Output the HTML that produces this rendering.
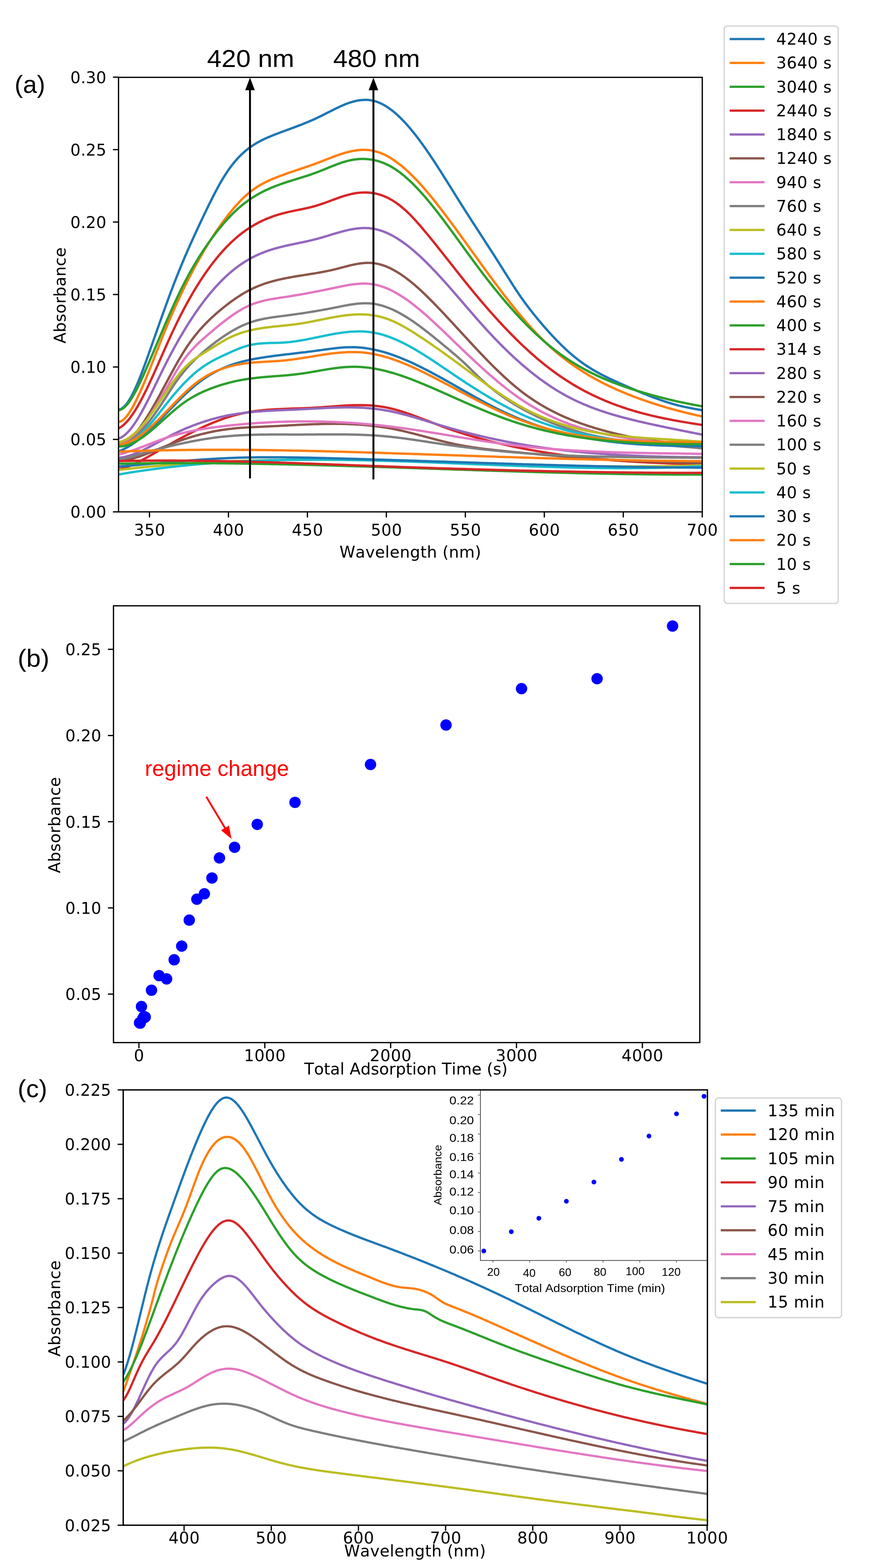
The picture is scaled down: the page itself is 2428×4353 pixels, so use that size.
<!DOCTYPE html>
<html lang="en"><head><meta charset="utf-8"><title>Absorbance spectra</title>
<style>html,body{margin:0;padding:0;background:#fff;overflow:hidden;}svg{display:block}text{font-kerning:none}</style></head>
<body><svg width="2428" height="4353" viewBox="0 0 2428 4353">
<rect width="2428" height="4353" fill="#fff"/>
<defs><clipPath id="ca"><rect x="328.9" y="214.7" width="1619.8000000000002" height="1206.3"/></clipPath></defs>
<g clip-path="url(#ca)" fill="none" stroke-width="6.5" stroke-linejoin="round" stroke-linecap="butt">
<path d="M328.9,1137.5 334.9,1135.9 340.9,1132.1 346.9,1126.5 352.9,1119.2 358.9,1110.2 364.9,1099.8 370.9,1088.1 376.9,1075.2 382.9,1061.2 388.9,1046.4 394.9,1030.9 400.9,1014.8 406.9,998.3 412.9,981.5 418.9,964.5 424.9,947.5 430.9,930.5 436.9,913.4 442.9,896.5 448.9,879.6 454.9,862.9 460.9,846.3 466.9,829.9 472.9,813.7 478.9,797.8 484.9,782.1 490.9,766.8 496.9,751.9 502.9,737.2 508.9,722.9 514.9,708.8 520.9,695.0 526.9,681.4 532.9,668.1 538.9,654.9 544.9,641.8 550.9,628.9 556.9,616.1 562.9,603.4 568.9,590.8 574.9,578.3 580.9,566.0 586.9,554.0 592.9,542.2 598.9,530.7 604.9,519.5 610.9,508.7 616.9,498.4 622.9,488.5 628.9,479.2 634.9,470.4 640.9,462.1 646.9,454.4 652.9,447.1 658.9,440.3 664.9,434.0 670.9,428.1 676.9,422.6 682.9,417.5 688.9,412.7 694.9,408.2 700.9,404.1 706.9,400.2 712.9,396.6 718.9,393.3 724.9,390.1 730.9,387.2 736.8,384.4 742.8,381.7 748.8,379.2 754.8,376.7 760.8,374.3 766.8,372.0 772.8,369.7 778.8,367.5 784.8,365.2 790.8,363.0 796.8,360.8 802.8,358.6 808.8,356.3 814.8,354.1 820.8,351.9 826.8,349.6 832.8,347.3 838.8,344.9 844.8,342.6 850.8,340.1 856.8,337.6 862.8,335.0 868.8,332.4 874.8,329.7 880.8,326.9 886.8,324.0 892.8,321.0 898.8,318.0 904.8,314.9 910.8,311.9 916.8,308.8 922.8,305.8 928.8,302.8 934.8,299.9 940.8,297.1 946.8,294.3 952.8,291.8 958.8,289.3 964.8,287.0 970.8,284.9 976.8,283.1 982.8,281.4 988.8,280.0 994.8,278.8 1000.8,278.0 1006.8,277.4 1012.8,277.2 1018.8,277.3 1024.8,277.8 1030.8,278.7 1036.8,279.9 1042.8,281.6 1048.8,283.7 1054.8,286.2 1060.8,289.1 1066.8,292.4 1072.8,296.0 1078.8,300.0 1084.8,304.3 1090.8,309.0 1096.8,314.0 1102.8,319.4 1108.8,325.0 1114.8,330.9 1120.8,337.1 1126.8,343.6 1132.8,350.4 1138.8,357.4 1144.8,364.6 1150.8,372.1 1156.8,379.8 1162.8,387.8 1168.8,395.9 1174.8,404.2 1180.8,412.7 1186.8,421.3 1192.8,430.2 1198.8,439.1 1204.8,448.2 1210.8,457.4 1216.8,466.7 1222.8,476.1 1228.8,485.5 1234.8,495.0 1240.8,504.6 1246.8,514.2 1252.8,523.8 1258.8,533.4 1264.8,543.1 1270.8,552.7 1276.8,562.2 1282.8,571.8 1288.8,581.2 1294.8,590.7 1300.8,600.1 1306.8,609.4 1312.8,618.7 1318.8,628.0 1324.8,637.3 1330.8,646.6 1336.8,655.8 1342.8,665.1 1348.8,674.4 1354.8,683.6 1360.8,692.9 1366.8,702.3 1372.8,711.6 1378.8,721.0 1384.8,730.4 1390.8,739.9 1396.8,749.5 1402.8,759.0 1408.8,768.6 1414.8,778.1 1420.8,787.6 1426.8,796.9 1432.8,806.1 1438.8,815.1 1444.8,823.8 1450.8,832.3 1456.8,840.6 1462.8,848.7 1468.8,856.6 1474.8,864.3 1480.8,871.9 1486.8,879.3 1492.8,886.6 1498.8,893.8 1504.8,900.9 1510.8,907.8 1516.8,914.7 1522.8,921.4 1528.8,928.0 1534.8,934.4 1540.8,940.8 1546.7,947.0 1552.7,953.0 1558.7,959.0 1564.7,964.7 1570.7,970.3 1576.7,975.8 1582.7,981.1 1588.7,986.3 1594.7,991.2 1600.7,996.0 1606.7,1000.7 1612.7,1005.1 1618.7,1009.4 1624.7,1013.5 1630.7,1017.5 1636.7,1021.3 1642.7,1025.0 1648.7,1028.6 1654.7,1032.0 1660.7,1035.4 1666.7,1038.6 1672.7,1041.7 1678.7,1044.8 1684.7,1047.7 1690.7,1050.6 1696.7,1053.5 1702.7,1056.3 1708.7,1059.0 1714.7,1061.7 1720.7,1064.4 1726.7,1067.1 1732.7,1069.7 1738.7,1072.4 1744.7,1075.0 1750.7,1077.6 1756.7,1080.2 1762.7,1082.8 1768.7,1085.4 1774.7,1087.9 1780.7,1090.4 1786.7,1092.9 1792.7,1095.3 1798.7,1097.7 1804.7,1100.0 1810.7,1102.4 1816.7,1104.6 1822.7,1106.8 1828.7,1109.0 1834.7,1111.1 1840.7,1113.2 1846.7,1115.2 1852.7,1117.1 1858.7,1118.9 1864.7,1120.7 1870.7,1122.4 1876.7,1124.1 1882.7,1125.6 1888.7,1127.1 1894.7,1128.5 1900.7,1129.9 1906.7,1131.1 1912.7,1132.3 1918.7,1133.5 1924.7,1134.6 1930.7,1135.7 1936.7,1136.7 1942.7,1137.8 1948.7,1138.9" stroke="#1f77b4"/>
<path d="M328.9,1171.7 334.9,1170.0 340.9,1166.4 346.9,1161.0 352.9,1154.0 358.9,1145.6 364.9,1135.9 370.9,1125.2 376.9,1113.5 382.9,1101.1 388.9,1088.1 394.9,1074.6 400.9,1060.6 406.9,1046.1 412.9,1031.4 418.9,1016.4 424.9,1001.2 430.9,986.0 436.9,970.7 442.9,955.4 448.9,940.3 454.9,925.4 460.9,910.7 466.9,896.3 472.9,882.2 478.9,868.4 484.9,854.8 490.9,841.5 496.9,828.4 502.9,815.7 508.9,803.2 514.9,790.9 520.9,778.9 526.9,767.1 532.9,755.6 538.9,744.3 544.9,733.3 550.9,722.4 556.9,711.9 562.9,701.5 568.9,691.4 574.9,681.5 580.9,671.8 586.9,662.4 592.9,653.1 598.9,644.1 604.9,635.4 610.9,626.8 616.9,618.4 622.9,610.3 628.9,602.4 634.9,594.6 640.9,587.2 646.9,579.9 652.9,573.0 658.9,566.3 664.9,559.8 670.9,553.7 676.9,547.8 682.9,542.3 688.9,537.0 694.9,532.1 700.9,527.6 706.9,523.3 712.9,519.3 718.9,515.6 724.9,512.1 730.9,508.9 736.8,505.8 742.8,502.9 748.8,500.2 754.8,497.6 760.8,495.0 766.8,492.6 772.8,490.3 778.8,488.0 784.8,485.7 790.8,483.6 796.8,481.4 802.8,479.3 808.8,477.3 814.8,475.2 820.8,473.2 826.8,471.2 832.8,469.2 838.8,467.1 844.8,465.1 850.8,463.1 856.8,461.0 862.8,458.9 868.8,456.8 874.8,454.6 880.8,452.4 886.8,450.1 892.8,447.8 898.8,445.5 904.8,443.1 910.8,440.8 916.8,438.4 922.8,436.1 928.8,433.9 934.8,431.7 940.8,429.6 946.8,427.6 952.8,425.7 958.8,423.9 964.8,422.3 970.8,420.8 976.8,419.5 982.8,418.4 988.8,417.4 994.8,416.7 1000.8,416.2 1006.8,415.9 1012.8,415.9 1018.8,416.2 1024.8,416.8 1030.8,417.6 1036.8,418.8 1042.8,420.3 1048.8,422.1 1054.8,424.2 1060.8,426.7 1066.8,429.4 1072.8,432.4 1078.8,435.7 1084.8,439.3 1090.8,443.2 1096.8,447.3 1102.8,451.6 1108.8,456.2 1114.8,461.1 1120.8,466.1 1126.8,471.4 1132.8,476.9 1138.8,482.6 1144.8,488.5 1150.8,494.6 1156.8,500.8 1162.8,507.3 1168.8,513.9 1174.8,520.7 1180.8,527.6 1186.8,534.6 1192.8,541.8 1198.8,549.1 1204.8,556.6 1210.8,564.1 1216.8,571.7 1222.8,579.5 1228.8,587.3 1234.8,595.2 1240.8,603.2 1246.8,611.3 1252.8,619.4 1258.8,627.5 1264.8,635.7 1270.8,644.0 1276.8,652.2 1282.8,660.5 1288.8,668.8 1294.8,677.1 1300.8,685.4 1306.8,693.8 1312.8,702.1 1318.8,710.4 1324.8,718.7 1330.8,727.0 1336.8,735.3 1342.8,743.6 1348.8,751.8 1354.8,760.0 1360.8,768.2 1366.8,776.3 1372.8,784.4 1378.8,792.4 1384.8,800.4 1390.8,808.3 1396.8,816.2 1402.8,824.0 1408.8,831.7 1414.8,839.4 1420.8,846.9 1426.8,854.4 1432.8,861.8 1438.8,869.1 1444.8,876.3 1450.8,883.4 1456.8,890.4 1462.8,897.3 1468.8,904.1 1474.8,910.8 1480.8,917.3 1486.8,923.7 1492.8,929.9 1498.8,936.1 1504.8,942.1 1510.8,947.9 1516.8,953.6 1522.8,959.2 1528.8,964.7 1534.8,970.0 1540.8,975.2 1546.7,980.3 1552.7,985.2 1558.7,990.1 1564.7,994.8 1570.7,999.4 1576.7,1003.9 1582.7,1008.3 1588.7,1012.6 1594.7,1016.8 1600.7,1020.9 1606.7,1024.9 1612.7,1028.8 1618.7,1032.6 1624.7,1036.4 1630.7,1040.0 1636.7,1043.5 1642.7,1047.0 1648.7,1050.4 1654.7,1053.7 1660.7,1056.9 1666.7,1060.0 1672.7,1063.1 1678.7,1066.1 1684.7,1069.1 1690.7,1072.0 1696.7,1074.8 1702.7,1077.6 1708.7,1080.3 1714.7,1082.9 1720.7,1085.5 1726.7,1088.1 1732.7,1090.6 1738.7,1093.1 1744.7,1095.5 1750.7,1097.9 1756.7,1100.2 1762.7,1102.5 1768.7,1104.7 1774.7,1107.0 1780.7,1109.1 1786.7,1111.2 1792.7,1113.3 1798.7,1115.4 1804.7,1117.4 1810.7,1119.4 1816.7,1121.3 1822.7,1123.2 1828.7,1125.1 1834.7,1126.9 1840.7,1128.7 1846.7,1130.5 1852.7,1132.3 1858.7,1134.0 1864.7,1135.6 1870.7,1137.3 1876.7,1138.9 1882.7,1140.5 1888.7,1142.0 1894.7,1143.6 1900.7,1145.1 1906.7,1146.6 1912.7,1148.0 1918.7,1149.5 1924.7,1150.9 1930.7,1152.2 1936.7,1153.6 1942.7,1154.9 1948.7,1156.3" stroke="#ff7f0e"/>
<path d="M328.9,1139.0 334.9,1137.5 340.9,1134.2 346.9,1129.3 352.9,1122.9 358.9,1115.2 364.9,1106.3 370.9,1096.3 376.9,1085.4 382.9,1073.7 388.9,1061.3 394.9,1048.3 400.9,1034.9 406.9,1021.2 412.9,1007.3 418.9,993.3 424.9,979.2 430.9,965.0 436.9,950.8 442.9,936.6 448.9,922.5 454.9,908.4 460.9,894.4 466.9,880.6 472.9,867.0 478.9,853.5 484.9,840.3 490.9,827.4 496.9,814.8 502.9,802.5 508.9,790.6 514.9,779.0 520.9,767.8 526.9,756.8 532.9,746.2 538.9,735.8 544.9,725.8 550.9,716.0 556.9,706.5 562.9,697.3 568.9,688.3 574.9,679.5 580.9,671.0 586.9,662.7 592.9,654.6 598.9,646.8 604.9,639.1 610.9,631.7 616.9,624.5 622.9,617.5 628.9,610.8 634.9,604.3 640.9,598.0 646.9,592.0 652.9,586.2 658.9,580.7 664.9,575.4 670.9,570.3 676.9,565.5 682.9,560.9 688.9,556.5 694.9,552.4 700.9,548.5 706.9,544.7 712.9,541.1 718.9,537.7 724.9,534.5 730.9,531.4 736.8,528.5 742.8,525.7 748.8,523.0 754.8,520.5 760.8,518.1 766.8,515.7 772.8,513.5 778.8,511.3 784.8,509.2 790.8,507.2 796.8,505.2 802.8,503.3 808.8,501.4 814.8,499.5 820.8,497.7 826.8,495.8 832.8,493.9 838.8,492.1 844.8,490.2 850.8,488.3 856.8,486.3 862.8,484.3 868.8,482.2 874.8,480.0 880.8,477.8 886.8,475.5 892.8,473.1 898.8,470.7 904.8,468.2 910.8,465.8 916.8,463.3 922.8,460.9 928.8,458.6 934.8,456.3 940.8,454.1 946.8,452.0 952.8,450.0 958.8,448.3 964.8,446.6 970.8,445.2 976.8,444.0 982.8,443.0 988.8,442.2 994.8,441.6 1000.8,441.3 1006.8,441.2 1012.8,441.3 1018.8,441.7 1024.8,442.3 1030.8,443.2 1036.8,444.3 1042.8,445.6 1048.8,447.2 1054.8,449.1 1060.8,451.2 1066.8,453.6 1072.8,456.3 1078.8,459.2 1084.8,462.4 1090.8,465.9 1096.8,469.7 1102.8,473.8 1108.8,478.1 1114.8,482.7 1120.8,487.6 1126.8,492.7 1132.8,498.1 1138.8,503.6 1144.8,509.4 1150.8,515.4 1156.8,521.7 1162.8,528.1 1168.8,534.7 1174.8,541.4 1180.8,548.3 1186.8,555.4 1192.8,562.7 1198.8,570.0 1204.8,577.5 1210.8,585.1 1216.8,592.8 1222.8,600.7 1228.8,608.6 1234.8,616.5 1240.8,624.6 1246.8,632.7 1252.8,640.9 1258.8,649.1 1264.8,657.3 1270.8,665.6 1276.8,673.9 1282.8,682.2 1288.8,690.5 1294.8,698.8 1300.8,707.0 1306.8,715.2 1312.8,723.4 1318.8,731.5 1324.8,739.6 1330.8,747.6 1336.8,755.5 1342.8,763.4 1348.8,771.2 1354.8,778.9 1360.8,786.6 1366.8,794.1 1372.8,801.6 1378.8,809.0 1384.8,816.3 1390.8,823.6 1396.8,830.7 1402.8,837.8 1408.8,844.7 1414.8,851.6 1420.8,858.4 1426.8,865.1 1432.8,871.7 1438.8,878.2 1444.8,884.7 1450.8,891.0 1456.8,897.2 1462.8,903.3 1468.8,909.3 1474.8,915.2 1480.8,921.0 1486.8,926.7 1492.8,932.2 1498.8,937.7 1504.8,943.1 1510.8,948.3 1516.8,953.4 1522.8,958.4 1528.8,963.3 1534.8,968.0 1540.8,972.7 1546.7,977.2 1552.7,981.6 1558.7,985.9 1564.7,990.1 1570.7,994.2 1576.7,998.2 1582.7,1002.1 1588.7,1005.9 1594.7,1009.6 1600.7,1013.2 1606.7,1016.7 1612.7,1020.1 1618.7,1023.5 1624.7,1026.7 1630.7,1029.9 1636.7,1033.0 1642.7,1036.0 1648.7,1038.9 1654.7,1041.8 1660.7,1044.5 1666.7,1047.3 1672.7,1049.9 1678.7,1052.5 1684.7,1055.0 1690.7,1057.5 1696.7,1059.9 1702.7,1062.2 1708.7,1064.5 1714.7,1066.8 1720.7,1069.0 1726.7,1071.1 1732.7,1073.2 1738.7,1075.3 1744.7,1077.3 1750.7,1079.3 1756.7,1081.2 1762.7,1083.1 1768.7,1085.0 1774.7,1086.8 1780.7,1088.7 1786.7,1090.5 1792.7,1092.2 1798.7,1093.9 1804.7,1095.6 1810.7,1097.3 1816.7,1098.9 1822.7,1100.6 1828.7,1102.1 1834.7,1103.7 1840.7,1105.2 1846.7,1106.7 1852.7,1108.2 1858.7,1109.6 1864.7,1111.0 1870.7,1112.4 1876.7,1113.8 1882.7,1115.1 1888.7,1116.4 1894.7,1117.7 1900.7,1118.9 1906.7,1120.1 1912.7,1121.3 1918.7,1122.5 1924.7,1123.7 1930.7,1124.8 1936.7,1125.9 1942.7,1127.0 1948.7,1128.0" stroke="#2ca02c"/>
<path d="M328.9,1189.2 334.9,1185.9 340.9,1181.5 346.9,1176.1 352.9,1169.8 358.9,1162.6 364.9,1154.6 370.9,1145.8 376.9,1136.4 382.9,1126.3 388.9,1115.5 394.9,1104.3 400.9,1092.5 406.9,1080.4 412.9,1067.8 418.9,1054.9 424.9,1041.8 430.9,1028.5 436.9,1015.0 442.9,1001.4 448.9,987.8 454.9,974.2 460.9,960.6 466.9,947.2 472.9,934.0 478.9,921.0 484.9,908.3 490.9,895.9 496.9,883.8 502.9,871.9 508.9,860.4 514.9,849.1 520.9,838.1 526.9,827.3 532.9,816.9 538.9,806.7 544.9,796.8 550.9,787.2 556.9,777.8 562.9,768.7 568.9,759.8 574.9,751.3 580.9,742.9 586.9,734.9 592.9,727.0 598.9,719.5 604.9,712.2 610.9,705.1 616.9,698.3 622.9,691.7 628.9,685.4 634.9,679.3 640.9,673.4 646.9,667.8 652.9,662.4 658.9,657.3 664.9,652.3 670.9,647.6 676.9,643.1 682.9,638.9 688.9,634.8 694.9,630.9 700.9,627.2 706.9,623.7 712.9,620.4 718.9,617.2 724.9,614.3 730.9,611.4 736.8,608.8 742.8,606.3 748.8,603.9 754.8,601.6 760.8,599.5 766.8,597.6 772.8,595.7 778.8,594.0 784.8,592.3 790.8,590.8 796.8,589.3 802.8,587.9 808.8,586.6 814.8,585.4 820.8,584.1 826.8,582.9 832.8,581.7 838.8,580.5 844.8,579.2 850.8,577.9 856.8,576.5 862.8,575.1 868.8,573.5 874.8,571.9 880.8,570.1 886.8,568.2 892.8,566.2 898.8,564.1 904.8,562.0 910.8,559.8 916.8,557.5 922.8,555.3 928.8,553.1 934.8,550.9 940.8,548.7 946.8,546.7 952.8,544.7 958.8,542.8 964.8,541.1 970.8,539.6 976.8,538.2 982.8,537.0 988.8,536.0 994.8,535.3 1000.8,534.7 1006.8,534.4 1012.8,534.2 1018.8,534.4 1024.8,534.7 1030.8,535.4 1036.8,536.3 1042.8,537.4 1048.8,538.9 1054.8,540.6 1060.8,542.7 1066.8,545.0 1072.8,547.7 1078.8,550.7 1084.8,554.0 1090.8,557.5 1096.8,561.4 1102.8,565.6 1108.8,570.1 1114.8,574.9 1120.8,580.0 1126.8,585.4 1132.8,591.1 1138.8,597.0 1144.8,603.2 1150.8,609.6 1156.8,616.3 1162.8,623.1 1168.8,630.0 1174.8,637.1 1180.8,644.3 1186.8,651.5 1192.8,658.8 1198.8,666.2 1204.8,673.7 1210.8,681.1 1216.8,688.7 1222.8,696.2 1228.8,703.8 1234.8,711.4 1240.8,719.0 1246.8,726.6 1252.8,734.2 1258.8,741.8 1264.8,749.4 1270.8,757.0 1276.8,764.6 1282.8,772.1 1288.8,779.7 1294.8,787.1 1300.8,794.6 1306.8,801.9 1312.8,809.2 1318.8,816.5 1324.8,823.7 1330.8,830.8 1336.8,837.9 1342.8,844.9 1348.8,851.9 1354.8,858.8 1360.8,865.6 1366.8,872.4 1372.8,879.1 1378.8,885.7 1384.8,892.3 1390.8,898.7 1396.8,905.2 1402.8,911.5 1408.8,917.8 1414.8,924.0 1420.8,930.1 1426.8,936.1 1432.8,942.1 1438.8,948.0 1444.8,953.8 1450.8,959.5 1456.8,965.1 1462.8,970.7 1468.8,976.2 1474.8,981.5 1480.8,986.8 1486.8,992.1 1492.8,997.2 1498.8,1002.2 1504.8,1007.1 1510.8,1012.0 1516.8,1016.7 1522.8,1021.4 1528.8,1025.9 1534.8,1030.4 1540.8,1034.8 1546.7,1039.1 1552.7,1043.2 1558.7,1047.3 1564.7,1051.3 1570.7,1055.3 1576.7,1059.1 1582.7,1062.8 1588.7,1066.5 1594.7,1070.1 1600.7,1073.6 1606.7,1077.0 1612.7,1080.3 1618.7,1083.6 1624.7,1086.8 1630.7,1089.9 1636.7,1092.9 1642.7,1095.9 1648.7,1098.8 1654.7,1101.6 1660.7,1104.3 1666.7,1107.0 1672.7,1109.6 1678.7,1112.2 1684.7,1114.7 1690.7,1117.1 1696.7,1119.5 1702.7,1121.8 1708.7,1124.0 1714.7,1126.2 1720.7,1128.3 1726.7,1130.4 1732.7,1132.4 1738.7,1134.4 1744.7,1136.3 1750.7,1138.2 1756.7,1140.0 1762.7,1141.8 1768.7,1143.5 1774.7,1145.2 1780.7,1146.8 1786.7,1148.4 1792.7,1149.9 1798.7,1151.4 1804.7,1152.9 1810.7,1154.3 1816.7,1155.7 1822.7,1157.1 1828.7,1158.4 1834.7,1159.7 1840.7,1161.0 1846.7,1162.2 1852.7,1163.4 1858.7,1164.6 1864.7,1165.7 1870.7,1166.9 1876.7,1168.0 1882.7,1169.0 1888.7,1170.1 1894.7,1171.1 1900.7,1172.1 1906.7,1173.1 1912.7,1174.1 1918.7,1175.1 1924.7,1176.0 1930.7,1177.0 1936.7,1177.9 1942.7,1178.8 1948.7,1179.7" stroke="#d62728"/>
<path d="M328.9,1217.4 334.9,1215.1 340.9,1211.7 346.9,1207.2 352.9,1201.6 358.9,1195.2 364.9,1187.9 370.9,1179.7 376.9,1170.9 382.9,1161.3 388.9,1151.2 394.9,1140.6 400.9,1129.4 406.9,1117.9 412.9,1106.1 418.9,1094.0 424.9,1081.8 430.9,1069.4 436.9,1057.0 442.9,1044.6 448.9,1032.3 454.9,1020.2 460.9,1008.2 466.9,996.5 472.9,985.1 478.9,973.8 484.9,962.8 490.9,952.0 496.9,941.4 502.9,931.1 508.9,921.0 514.9,911.0 520.9,901.4 526.9,891.9 532.9,882.7 538.9,873.7 544.9,864.9 550.9,856.3 556.9,848.0 562.9,839.9 568.9,832.0 574.9,824.4 580.9,816.9 586.9,809.7 592.9,802.8 598.9,796.0 604.9,789.5 610.9,783.2 616.9,777.1 622.9,771.2 628.9,765.6 634.9,760.2 640.9,755.0 646.9,750.0 652.9,745.3 658.9,740.7 664.9,736.4 670.9,732.3 676.9,728.3 682.9,724.6 688.9,721.0 694.9,717.6 700.9,714.4 706.9,711.4 712.9,708.5 718.9,705.8 724.9,703.3 730.9,700.8 736.8,698.6 742.8,696.4 748.8,694.4 754.8,692.5 760.8,690.7 766.8,689.0 772.8,687.4 778.8,685.8 784.8,684.3 790.8,682.9 796.8,681.5 802.8,680.2 808.8,678.9 814.8,677.7 820.8,676.4 826.8,675.2 832.8,673.9 838.8,672.7 844.8,671.4 850.8,670.1 856.8,668.7 862.8,667.3 868.8,665.9 874.8,664.4 880.8,662.8 886.8,661.2 892.8,659.5 898.8,657.7 904.8,655.9 910.8,654.1 916.8,652.2 922.8,650.4 928.8,648.6 934.8,646.8 940.8,645.1 946.8,643.4 952.8,641.8 958.8,640.3 964.8,638.9 970.8,637.6 976.8,636.5 982.8,635.5 988.8,634.6 994.8,633.9 1000.8,633.4 1006.8,633.1 1012.8,633.1 1018.8,633.2 1024.8,633.6 1030.8,634.2 1036.8,635.2 1042.8,636.3 1048.8,637.8 1054.8,639.6 1060.8,641.6 1066.8,643.8 1072.8,646.3 1078.8,649.1 1084.8,652.0 1090.8,655.2 1096.8,658.7 1102.8,662.3 1108.8,666.2 1114.8,670.2 1120.8,674.5 1126.8,678.9 1132.8,683.5 1138.8,688.3 1144.8,693.3 1150.8,698.4 1156.8,703.7 1162.8,709.2 1168.8,714.7 1174.8,720.4 1180.8,726.3 1186.8,732.2 1192.8,738.3 1198.8,744.5 1204.8,750.8 1210.8,757.1 1216.8,763.6 1222.8,770.1 1228.8,776.7 1234.8,783.4 1240.8,790.1 1246.8,796.9 1252.8,803.8 1258.8,810.6 1264.8,817.5 1270.8,824.5 1276.8,831.4 1282.8,838.4 1288.8,845.3 1294.8,852.3 1300.8,859.2 1306.8,866.2 1312.8,873.1 1318.8,880.0 1324.8,886.8 1330.8,893.6 1336.8,900.4 1342.8,907.1 1348.8,913.7 1354.8,920.2 1360.8,926.7 1366.8,933.1 1372.8,939.4 1378.8,945.7 1384.8,951.8 1390.8,957.9 1396.8,963.9 1402.8,969.8 1408.8,975.6 1414.8,981.4 1420.8,987.0 1426.8,992.6 1432.8,998.1 1438.8,1003.4 1444.8,1008.7 1450.8,1014.0 1456.8,1019.1 1462.8,1024.1 1468.8,1029.0 1474.8,1033.9 1480.8,1038.7 1486.8,1043.3 1492.8,1047.9 1498.8,1052.4 1504.8,1056.7 1510.8,1061.0 1516.8,1065.2 1522.8,1069.3 1528.8,1073.3 1534.8,1077.2 1540.8,1081.0 1546.7,1084.7 1552.7,1088.3 1558.7,1091.8 1564.7,1095.2 1570.7,1098.5 1576.7,1101.7 1582.7,1104.8 1588.7,1107.8 1594.7,1110.8 1600.7,1113.6 1606.7,1116.4 1612.7,1119.1 1618.7,1121.7 1624.7,1124.3 1630.7,1126.7 1636.7,1129.2 1642.7,1131.5 1648.7,1133.8 1654.7,1136.0 1660.7,1138.1 1666.7,1140.2 1672.7,1142.2 1678.7,1144.2 1684.7,1146.1 1690.7,1148.0 1696.7,1149.8 1702.7,1151.6 1708.7,1153.3 1714.7,1155.0 1720.7,1156.7 1726.7,1158.3 1732.7,1159.9 1738.7,1161.5 1744.7,1163.0 1750.7,1164.5 1756.7,1166.0 1762.7,1167.4 1768.7,1168.9 1774.7,1170.3 1780.7,1171.7 1786.7,1173.0 1792.7,1174.4 1798.7,1175.8 1804.7,1177.1 1810.7,1178.4 1816.7,1179.7 1822.7,1181.0 1828.7,1182.3 1834.7,1183.6 1840.7,1184.8 1846.7,1186.1 1852.7,1187.3 1858.7,1188.6 1864.7,1189.8 1870.7,1191.0 1876.7,1192.2 1882.7,1193.4 1888.7,1194.7 1894.7,1195.9 1900.7,1197.1 1906.7,1198.3 1912.7,1199.5 1918.7,1200.7 1924.7,1201.9 1930.7,1203.1 1936.7,1204.3 1942.7,1205.6 1948.7,1206.8" stroke="#9467bd"/>
<path d="M328.9,1233.4 334.9,1232.4 340.9,1230.5 346.9,1227.6 352.9,1223.8 358.9,1219.3 364.9,1213.9 370.9,1207.8 376.9,1201.1 382.9,1193.8 388.9,1185.9 394.9,1177.4 400.9,1168.6 406.9,1159.3 412.9,1149.6 418.9,1139.7 424.9,1129.4 430.9,1118.9 436.9,1108.1 442.9,1097.1 448.9,1086.0 454.9,1074.8 460.9,1063.6 466.9,1052.4 472.9,1041.2 478.9,1030.1 484.9,1019.2 490.9,1008.4 496.9,998.0 502.9,987.8 508.9,977.9 514.9,968.5 520.9,959.5 526.9,950.8 532.9,942.6 538.9,934.7 544.9,927.2 550.9,920.0 556.9,913.1 562.9,906.5 568.9,900.1 574.9,894.0 580.9,888.1 586.9,882.4 592.9,876.9 598.9,871.5 604.9,866.3 610.9,861.3 616.9,856.3 622.9,851.4 628.9,846.7 634.9,842.1 640.9,837.6 646.9,833.3 652.9,829.1 658.9,825.1 664.9,821.2 670.9,817.4 676.9,813.8 682.9,810.4 688.9,807.1 694.9,804.0 700.9,801.1 706.9,798.3 712.9,795.7 718.9,793.3 724.9,791.0 730.9,788.8 736.8,786.7 742.8,784.8 748.8,783.0 754.8,781.3 760.8,779.6 766.8,778.1 772.8,776.7 778.8,775.3 784.8,774.0 790.8,772.8 796.8,771.6 802.8,770.5 808.8,769.4 814.8,768.3 820.8,767.3 826.8,766.3 832.8,765.3 838.8,764.4 844.8,763.4 850.8,762.5 856.8,761.5 862.8,760.5 868.8,759.6 874.8,758.6 880.8,757.6 886.8,756.5 892.8,755.4 898.8,754.3 904.8,753.1 910.8,751.9 916.8,750.6 922.8,749.3 928.8,747.9 934.8,746.4 940.8,744.8 946.8,743.2 952.8,741.7 958.8,740.1 964.8,738.5 970.8,737.0 976.8,735.6 982.8,734.3 988.8,733.1 994.8,732.1 1000.8,731.2 1006.8,730.5 1012.8,730.0 1018.8,729.7 1024.8,729.7 1030.8,730.0 1036.8,730.6 1042.8,731.4 1048.8,732.6 1054.8,734.1 1060.8,735.9 1066.8,737.9 1072.8,740.3 1078.8,742.8 1084.8,745.7 1090.8,748.8 1096.8,752.1 1102.8,755.7 1108.8,759.4 1114.8,763.4 1120.8,767.6 1126.8,772.0 1132.8,776.6 1138.8,781.3 1144.8,786.2 1150.8,791.3 1156.8,796.5 1162.8,801.9 1168.8,807.4 1174.8,813.0 1180.8,818.8 1186.8,824.6 1192.8,830.6 1198.8,836.6 1204.8,842.7 1210.8,848.9 1216.8,855.2 1222.8,861.5 1228.8,867.9 1234.8,874.3 1240.8,880.7 1246.8,887.2 1252.8,893.6 1258.8,900.1 1264.8,906.7 1270.8,913.2 1276.8,919.7 1282.8,926.2 1288.8,932.8 1294.8,939.3 1300.8,945.8 1306.8,952.3 1312.8,958.7 1318.8,965.2 1324.8,971.6 1330.8,977.9 1336.8,984.2 1342.8,990.5 1348.8,996.7 1354.8,1002.9 1360.8,1009.0 1366.8,1015.0 1372.8,1021.0 1378.8,1026.8 1384.8,1032.6 1390.8,1038.4 1396.8,1044.0 1402.8,1049.5 1408.8,1054.9 1414.8,1060.3 1420.8,1065.5 1426.8,1070.6 1432.8,1075.6 1438.8,1080.5 1444.8,1085.2 1450.8,1089.8 1456.8,1094.3 1462.8,1098.6 1468.8,1102.9 1474.8,1107.0 1480.8,1111.0 1486.8,1114.9 1492.8,1118.7 1498.8,1122.4 1504.8,1126.0 1510.8,1129.5 1516.8,1132.8 1522.8,1136.1 1528.8,1139.3 1534.8,1142.4 1540.8,1145.4 1546.7,1148.4 1552.7,1151.2 1558.7,1154.0 1564.7,1156.7 1570.7,1159.3 1576.7,1161.8 1582.7,1164.3 1588.7,1166.7 1594.7,1169.0 1600.7,1171.3 1606.7,1173.5 1612.7,1175.7 1618.7,1177.8 1624.7,1179.8 1630.7,1181.8 1636.7,1183.8 1642.7,1185.7 1648.7,1187.6 1654.7,1189.4 1660.7,1191.2 1666.7,1192.9 1672.7,1194.6 1678.7,1196.2 1684.7,1197.9 1690.7,1199.4 1696.7,1201.0 1702.7,1202.5 1708.7,1203.9 1714.7,1205.3 1720.7,1206.7 1726.7,1208.1 1732.7,1209.4 1738.7,1210.6 1744.7,1211.9 1750.7,1213.0 1756.7,1214.2 1762.7,1215.3 1768.7,1216.4 1774.7,1217.5 1780.7,1218.5 1786.7,1219.5 1792.7,1220.5 1798.7,1221.4 1804.7,1222.3 1810.7,1223.2 1816.7,1224.0 1822.7,1224.8 1828.7,1225.6 1834.7,1226.3 1840.7,1227.0 1846.7,1227.7 1852.7,1228.4 1858.7,1229.0 1864.7,1229.6 1870.7,1230.2 1876.7,1230.8 1882.7,1231.3 1888.7,1231.8 1894.7,1232.3 1900.7,1232.8 1906.7,1233.2 1912.7,1233.7 1918.7,1234.1 1924.7,1234.4 1930.7,1234.8 1936.7,1235.1 1942.7,1235.4 1948.7,1235.7" stroke="#8c564b"/>
<path d="M328.9,1233.8 334.9,1233.2 340.9,1231.7 346.9,1229.2 352.9,1226.0 358.9,1221.9 364.9,1217.1 370.9,1211.6 376.9,1205.5 382.9,1198.8 388.9,1191.5 394.9,1183.8 400.9,1175.6 406.9,1167.0 412.9,1158.1 418.9,1148.9 424.9,1139.5 430.9,1129.9 436.9,1120.1 442.9,1110.2 448.9,1100.1 454.9,1089.9 460.9,1079.6 466.9,1069.1 472.9,1058.6 478.9,1048.0 484.9,1037.6 490.9,1027.5 496.9,1017.9 502.9,1008.8 508.9,1000.3 514.9,992.3 520.9,984.7 526.9,977.6 532.9,970.9 538.9,964.5 544.9,958.4 550.9,952.5 556.9,946.9 562.9,941.5 568.9,936.2 574.9,931.0 580.9,925.8 586.9,920.7 592.9,915.7 598.9,910.6 604.9,905.7 610.9,900.8 616.9,896.1 622.9,891.4 628.9,886.8 634.9,882.3 640.9,878.0 646.9,873.8 652.9,869.8 658.9,865.9 664.9,862.2 670.9,858.7 676.9,855.4 682.9,852.3 688.9,849.4 694.9,846.8 700.9,844.3 706.9,842.1 712.9,840.1 718.9,838.3 724.9,836.6 730.9,835.1 736.8,833.7 742.8,832.4 748.8,831.3 754.8,830.2 760.8,829.2 766.8,828.2 772.8,827.3 778.8,826.4 784.8,825.5 790.8,824.6 796.8,823.7 802.8,822.8 808.8,821.8 814.8,820.8 820.8,819.8 826.8,818.8 832.8,817.7 838.8,816.7 844.8,815.6 850.8,814.5 856.8,813.4 862.8,812.2 868.8,811.1 874.8,809.9 880.8,808.8 886.8,807.6 892.8,806.4 898.8,805.2 904.8,804.0 910.8,802.7 916.8,801.5 922.8,800.2 928.8,799.0 934.8,797.7 940.8,796.4 946.8,795.2 952.8,794.0 958.8,792.8 964.8,791.7 970.8,790.7 976.8,789.8 982.8,789.0 988.8,788.4 994.8,787.9 1000.8,787.5 1006.8,787.3 1012.8,787.3 1018.8,787.5 1024.8,787.9 1030.8,788.6 1036.8,789.5 1042.8,790.7 1048.8,792.1 1054.8,793.8 1060.8,795.7 1066.8,797.9 1072.8,800.2 1078.8,802.8 1084.8,805.6 1090.8,808.7 1096.8,811.9 1102.8,815.3 1108.8,818.9 1114.8,822.7 1120.8,826.6 1126.8,830.7 1132.8,834.9 1138.8,839.3 1144.8,843.9 1150.8,848.6 1156.8,853.4 1162.8,858.3 1168.8,863.3 1174.8,868.4 1180.8,873.6 1186.8,879.0 1192.8,884.4 1198.8,889.8 1204.8,895.4 1210.8,901.0 1216.8,906.6 1222.8,912.3 1228.8,918.0 1234.8,923.8 1240.8,929.6 1246.8,935.4 1252.8,941.2 1258.8,947.0 1264.8,952.8 1270.8,958.6 1276.8,964.4 1282.8,970.1 1288.8,975.9 1294.8,981.6 1300.8,987.3 1306.8,992.9 1312.8,998.5 1318.8,1004.1 1324.8,1009.7 1330.8,1015.2 1336.8,1020.6 1342.8,1026.0 1348.8,1031.4 1354.8,1036.7 1360.8,1042.0 1366.8,1047.1 1372.8,1052.3 1378.8,1057.3 1384.8,1062.3 1390.8,1067.2 1396.8,1072.1 1402.8,1076.8 1408.8,1081.5 1414.8,1086.1 1420.8,1090.6 1426.8,1095.0 1432.8,1099.4 1438.8,1103.6 1444.8,1107.7 1450.8,1111.8 1456.8,1115.7 1462.8,1119.5 1468.8,1123.3 1474.8,1126.9 1480.8,1130.5 1486.8,1133.9 1492.8,1137.3 1498.8,1140.6 1504.8,1143.8 1510.8,1146.9 1516.8,1149.9 1522.8,1152.9 1528.8,1155.8 1534.8,1158.6 1540.8,1161.3 1546.7,1163.9 1552.7,1166.5 1558.7,1168.9 1564.7,1171.4 1570.7,1173.7 1576.7,1176.0 1582.7,1178.2 1588.7,1180.3 1594.7,1182.4 1600.7,1184.4 1606.7,1186.3 1612.7,1188.2 1618.7,1190.0 1624.7,1191.8 1630.7,1193.5 1636.7,1195.1 1642.7,1196.7 1648.7,1198.3 1654.7,1199.8 1660.7,1201.2 1666.7,1202.6 1672.7,1203.9 1678.7,1205.2 1684.7,1206.5 1690.7,1207.7 1696.7,1208.9 1702.7,1210.0 1708.7,1211.1 1714.7,1212.1 1720.7,1213.2 1726.7,1214.1 1732.7,1215.1 1738.7,1216.0 1744.7,1216.9 1750.7,1217.7 1756.7,1218.6 1762.7,1219.4 1768.7,1220.1 1774.7,1220.9 1780.7,1221.6 1786.7,1222.3 1792.7,1223.0 1798.7,1223.7 1804.7,1224.3 1810.7,1225.0 1816.7,1225.6 1822.7,1226.2 1828.7,1226.8 1834.7,1227.4 1840.7,1228.0 1846.7,1228.6 1852.7,1229.1 1858.7,1229.7 1864.7,1230.3 1870.7,1230.8 1876.7,1231.4 1882.7,1232.0 1888.7,1232.5 1894.7,1233.1 1900.7,1233.7 1906.7,1234.3 1912.7,1234.9 1918.7,1235.5 1924.7,1236.1 1930.7,1236.7 1936.7,1237.3 1942.7,1238.0 1948.7,1238.7" stroke="#e377c2"/>
<path d="M328.9,1238.1 334.9,1236.5 340.9,1234.4 346.9,1231.7 352.9,1228.5 358.9,1224.8 364.9,1220.5 370.9,1215.8 376.9,1210.7 382.9,1205.1 388.9,1199.1 394.9,1192.7 400.9,1185.9 406.9,1178.8 412.9,1171.3 418.9,1163.5 424.9,1155.4 430.9,1147.0 436.9,1138.4 442.9,1129.5 448.9,1120.5 454.9,1111.3 460.9,1102.0 466.9,1092.6 472.9,1083.3 478.9,1074.1 484.9,1065.2 490.9,1056.7 496.9,1048.6 502.9,1040.8 508.9,1033.3 514.9,1026.1 520.9,1019.3 526.9,1012.7 532.9,1006.4 538.9,1000.4 544.9,994.5 550.9,988.9 556.9,983.5 562.9,978.2 568.9,973.1 574.9,968.1 580.9,963.2 586.9,958.4 592.9,953.8 598.9,949.2 604.9,944.8 610.9,940.4 616.9,936.2 622.9,932.2 628.9,928.2 634.9,924.4 640.9,920.8 646.9,917.3 652.9,913.9 658.9,910.7 664.9,907.7 670.9,904.8 676.9,902.1 682.9,899.5 688.9,897.2 694.9,895.0 700.9,893.0 706.9,891.2 712.9,889.5 718.9,888.0 724.9,886.6 730.9,885.3 736.8,884.1 742.8,883.1 748.8,882.1 754.8,881.1 760.8,880.3 766.8,879.5 772.8,878.7 778.8,877.9 784.8,877.1 790.8,876.4 796.8,875.6 802.8,874.8 808.8,874.0 814.8,873.1 820.8,872.3 826.8,871.4 832.8,870.6 838.8,869.7 844.8,868.8 850.8,867.9 856.8,866.9 862.8,866.0 868.8,865.0 874.8,864.0 880.8,863.0 886.8,861.9 892.8,860.9 898.8,859.8 904.8,858.7 910.8,857.6 916.8,856.4 922.8,855.3 928.8,854.1 934.8,852.9 940.8,851.7 946.8,850.4 952.8,849.3 958.8,848.1 964.8,847.0 970.8,846.0 976.8,845.0 982.8,844.2 988.8,843.4 994.8,842.8 1000.8,842.4 1006.8,842.1 1012.8,841.9 1018.8,842.0 1024.8,842.2 1030.8,842.7 1036.8,843.4 1042.8,844.4 1048.8,845.6 1054.8,847.0 1060.8,848.7 1066.8,850.6 1072.8,852.7 1078.8,855.0 1084.8,857.4 1090.8,860.1 1096.8,863.0 1102.8,866.0 1108.8,869.2 1114.8,872.6 1120.8,876.1 1126.8,879.7 1132.8,883.5 1138.8,887.4 1144.8,891.4 1150.8,895.6 1156.8,899.8 1162.8,904.2 1168.8,908.6 1174.8,913.2 1180.8,917.8 1186.8,922.4 1192.8,927.2 1198.8,932.0 1204.8,936.8 1210.8,941.7 1216.8,946.6 1222.8,951.5 1228.8,956.4 1234.8,961.4 1240.8,966.3 1246.8,971.3 1252.8,976.4 1258.8,981.5 1264.8,986.6 1270.8,991.8 1276.8,997.2 1282.8,1002.6 1288.8,1008.1 1294.8,1013.8 1300.8,1019.6 1306.8,1025.5 1312.8,1031.5 1318.8,1037.4 1324.8,1043.3 1330.8,1049.0 1336.8,1054.6 1342.8,1060.0 1348.8,1065.3 1354.8,1070.4 1360.8,1075.4 1366.8,1080.3 1372.8,1085.0 1378.8,1089.5 1384.8,1094.0 1390.8,1098.3 1396.8,1102.5 1402.8,1106.6 1408.8,1110.6 1414.8,1114.5 1420.8,1118.3 1426.8,1122.0 1432.8,1125.6 1438.8,1129.2 1444.8,1132.6 1450.8,1136.0 1456.8,1139.3 1462.8,1142.5 1468.8,1145.7 1474.8,1148.7 1480.8,1151.7 1486.8,1154.6 1492.8,1157.5 1498.8,1160.3 1504.8,1162.9 1510.8,1165.6 1516.8,1168.1 1522.8,1170.6 1528.8,1173.1 1534.8,1175.4 1540.8,1177.7 1546.7,1180.0 1552.7,1182.1 1558.7,1184.2 1564.7,1186.3 1570.7,1188.3 1576.7,1190.2 1582.7,1192.1 1588.7,1193.9 1594.7,1195.7 1600.7,1197.4 1606.7,1199.1 1612.7,1200.7 1618.7,1202.3 1624.7,1203.8 1630.7,1205.3 1636.7,1206.7 1642.7,1208.1 1648.7,1209.4 1654.7,1210.7 1660.7,1212.0 1666.7,1213.2 1672.7,1214.3 1678.7,1215.5 1684.7,1216.6 1690.7,1217.6 1696.7,1218.7 1702.7,1219.6 1708.7,1220.6 1714.7,1221.5 1720.7,1222.4 1726.7,1223.3 1732.7,1224.1 1738.7,1224.9 1744.7,1225.7 1750.7,1226.5 1756.7,1227.2 1762.7,1227.9 1768.7,1228.6 1774.7,1229.3 1780.7,1229.9 1786.7,1230.6 1792.7,1231.2 1798.7,1231.8 1804.7,1232.4 1810.7,1232.9 1816.7,1233.5 1822.7,1234.0 1828.7,1234.6 1834.7,1235.1 1840.7,1235.6 1846.7,1236.1 1852.7,1236.6 1858.7,1237.1 1864.7,1237.6 1870.7,1238.1 1876.7,1238.6 1882.7,1239.1 1888.7,1239.6 1894.7,1240.1 1900.7,1240.6 1906.7,1241.1 1912.7,1241.6 1918.7,1242.1 1924.7,1242.6 1930.7,1243.1 1936.7,1243.6 1942.7,1244.2 1948.7,1244.7" stroke="#7f7f7f"/>
<path d="M328.9,1227.6 334.9,1226.3 340.9,1224.3 346.9,1221.7 352.9,1218.5 358.9,1214.7 364.9,1210.2 370.9,1205.3 376.9,1199.9 382.9,1194.0 388.9,1187.6 394.9,1180.8 400.9,1173.7 406.9,1166.2 412.9,1158.4 418.9,1150.3 424.9,1142.0 430.9,1133.4 436.9,1124.7 442.9,1115.8 448.9,1106.8 454.9,1097.8 460.9,1088.9 466.9,1080.0 472.9,1071.2 478.9,1062.7 484.9,1054.4 490.9,1046.4 496.9,1038.7 502.9,1031.4 508.9,1024.6 514.9,1018.3 520.9,1012.5 526.9,1007.2 532.9,1002.2 538.9,997.6 544.9,993.3 550.9,989.3 556.9,985.4 562.9,981.6 568.9,977.9 574.9,974.3 580.9,970.6 586.9,966.8 592.9,963.0 598.9,959.2 604.9,955.5 610.9,951.8 616.9,948.2 622.9,944.7 628.9,941.5 634.9,938.4 640.9,935.5 646.9,932.8 652.9,930.3 658.9,927.9 664.9,925.7 670.9,923.7 676.9,921.8 682.9,920.1 688.9,918.5 694.9,917.0 700.9,915.7 706.9,914.4 712.9,913.3 718.9,912.2 724.9,911.2 730.9,910.3 736.8,909.5 742.8,908.7 748.8,908.0 754.8,907.3 760.8,906.6 766.8,906.0 772.8,905.4 778.8,904.8 784.8,904.2 790.8,903.6 796.8,902.9 802.8,902.3 808.8,901.6 814.8,900.9 820.8,900.1 826.8,899.3 832.8,898.4 838.8,897.5 844.8,896.5 850.8,895.4 856.8,894.3 862.8,893.1 868.8,892.0 874.8,890.8 880.8,889.5 886.8,888.3 892.8,887.1 898.8,885.9 904.8,884.7 910.8,883.5 916.8,882.3 922.8,881.2 928.8,880.1 934.8,879.0 940.8,878.1 946.8,877.1 952.8,876.3 958.8,875.5 964.8,874.8 970.8,874.2 976.8,873.7 982.8,873.3 988.8,873.0 994.8,872.8 1000.8,872.8 1006.8,872.9 1012.8,873.1 1018.8,873.5 1024.8,874.0 1030.8,874.7 1036.8,875.5 1042.8,876.6 1048.8,877.8 1054.8,879.2 1060.8,880.8 1066.8,882.6 1072.8,884.6 1078.8,886.8 1084.8,889.2 1090.8,891.8 1096.8,894.5 1102.8,897.4 1108.8,900.5 1114.8,903.7 1120.8,907.0 1126.8,910.4 1132.8,914.0 1138.8,917.6 1144.8,921.3 1150.8,925.1 1156.8,929.0 1162.8,932.9 1168.8,936.8 1174.8,940.8 1180.8,944.8 1186.8,948.9 1192.8,953.0 1198.8,957.1 1204.8,961.3 1210.8,965.4 1216.8,969.7 1222.8,973.9 1228.8,978.2 1234.8,982.5 1240.8,986.8 1246.8,991.1 1252.8,995.5 1258.8,999.9 1264.8,1004.3 1270.8,1008.7 1276.8,1013.1 1282.8,1017.6 1288.8,1022.0 1294.8,1026.5 1300.8,1030.9 1306.8,1035.4 1312.8,1039.8 1318.8,1044.3 1324.8,1048.7 1330.8,1053.1 1336.8,1057.5 1342.8,1061.9 1348.8,1066.2 1354.8,1070.6 1360.8,1074.8 1366.8,1079.1 1372.8,1083.3 1378.8,1087.4 1384.8,1091.5 1390.8,1095.5 1396.8,1099.5 1402.8,1103.4 1408.8,1107.3 1414.8,1111.1 1420.8,1114.8 1426.8,1118.4 1432.8,1122.0 1438.8,1125.5 1444.8,1128.8 1450.8,1132.1 1456.8,1135.3 1462.8,1138.5 1468.8,1141.5 1474.8,1144.4 1480.8,1147.3 1486.8,1150.1 1492.8,1152.8 1498.8,1155.5 1504.8,1158.0 1510.8,1160.5 1516.8,1162.9 1522.8,1165.2 1528.8,1167.5 1534.8,1169.7 1540.8,1171.8 1546.7,1173.9 1552.7,1175.9 1558.7,1177.8 1564.7,1179.7 1570.7,1181.5 1576.7,1183.2 1582.7,1184.9 1588.7,1186.5 1594.7,1188.1 1600.7,1189.6 1606.7,1191.0 1612.7,1192.4 1618.7,1193.8 1624.7,1195.1 1630.7,1196.3 1636.7,1197.5 1642.7,1198.7 1648.7,1199.8 1654.7,1200.9 1660.7,1201.9 1666.7,1202.9 1672.7,1203.8 1678.7,1204.7 1684.7,1205.6 1690.7,1206.4 1696.7,1207.2 1702.7,1208.0 1708.7,1208.7 1714.7,1209.4 1720.7,1210.1 1726.7,1210.7 1732.7,1211.3 1738.7,1211.9 1744.7,1212.5 1750.7,1213.0 1756.7,1213.5 1762.7,1214.0 1768.7,1214.5 1774.7,1215.0 1780.7,1215.4 1786.7,1215.9 1792.7,1216.3 1798.7,1216.7 1804.7,1217.1 1810.7,1217.5 1816.7,1217.8 1822.7,1218.2 1828.7,1218.6 1834.7,1218.9 1840.7,1219.3 1846.7,1219.6 1852.7,1220.0 1858.7,1220.3 1864.7,1220.7 1870.7,1221.0 1876.7,1221.4 1882.7,1221.8 1888.7,1222.2 1894.7,1222.5 1900.7,1222.9 1906.7,1223.3 1912.7,1223.7 1918.7,1224.2 1924.7,1224.6 1930.7,1225.1 1936.7,1225.6 1942.7,1226.0 1948.7,1226.6" stroke="#bcbd22"/>
<path d="M328.9,1238.3 334.9,1237.6 340.9,1236.3 346.9,1234.4 352.9,1231.9 358.9,1228.9 364.9,1225.3 370.9,1221.3 376.9,1216.8 382.9,1211.9 388.9,1206.6 394.9,1200.9 400.9,1194.8 406.9,1188.5 412.9,1181.8 418.9,1174.9 424.9,1167.8 430.9,1160.5 436.9,1153.0 442.9,1145.3 448.9,1137.7 454.9,1130.0 460.9,1122.3 466.9,1114.7 472.9,1107.3 478.9,1100.0 484.9,1092.8 490.9,1085.8 496.9,1079.1 502.9,1072.5 508.9,1066.0 514.9,1059.8 520.9,1053.8 526.9,1048.1 532.9,1042.5 538.9,1037.2 544.9,1032.1 550.9,1027.3 556.9,1022.8 562.9,1018.5 568.9,1014.4 574.9,1010.6 580.9,1007.0 586.9,1003.5 592.9,1000.2 598.9,997.1 604.9,994.1 610.9,991.1 616.9,988.3 622.9,985.5 628.9,982.7 634.9,980.0 640.9,977.2 646.9,974.6 652.9,972.0 658.9,969.5 664.9,967.1 670.9,964.9 676.9,962.8 682.9,960.9 688.9,959.2 694.9,957.7 700.9,956.5 706.9,955.5 712.9,954.6 718.9,953.9 724.9,953.4 730.9,953.0 736.8,952.7 742.8,952.4 748.8,952.3 754.8,952.1 760.8,952.0 766.8,951.9 772.8,951.7 778.8,951.5 784.8,951.2 790.8,950.8 796.8,950.3 802.8,949.7 808.8,949.0 814.8,948.2 820.8,947.4 826.8,946.5 832.8,945.5 838.8,944.5 844.8,943.4 850.8,942.2 856.8,941.1 862.8,939.9 868.8,938.6 874.8,937.4 880.8,936.2 886.8,934.9 892.8,933.7 898.8,932.4 904.8,931.2 910.8,930.0 916.8,928.9 922.8,927.8 928.8,926.7 934.8,925.7 940.8,924.7 946.8,923.9 952.8,923.1 958.8,922.3 964.8,921.7 970.8,921.1 976.8,920.7 982.8,920.4 988.8,920.2 994.8,920.1 1000.8,920.1 1006.8,920.3 1012.8,920.6 1018.8,921.1 1024.8,921.7 1030.8,922.5 1036.8,923.5 1042.8,924.6 1048.8,925.9 1054.8,927.4 1060.8,929.0 1066.8,930.8 1072.8,932.8 1078.8,934.9 1084.8,937.1 1090.8,939.5 1096.8,942.0 1102.8,944.6 1108.8,947.4 1114.8,950.3 1120.8,953.2 1126.8,956.3 1132.8,959.5 1138.8,962.8 1144.8,966.1 1150.8,969.6 1156.8,973.1 1162.8,976.7 1168.8,980.4 1174.8,984.1 1180.8,987.9 1186.8,991.7 1192.8,995.6 1198.8,999.5 1204.8,1003.5 1210.8,1007.5 1216.8,1011.5 1222.8,1015.6 1228.8,1019.6 1234.8,1023.7 1240.8,1027.8 1246.8,1031.8 1252.8,1035.9 1258.8,1040.0 1264.8,1044.0 1270.8,1048.0 1276.8,1052.0 1282.8,1056.0 1288.8,1060.0 1294.8,1063.9 1300.8,1067.8 1306.8,1071.7 1312.8,1075.5 1318.8,1079.3 1324.8,1083.1 1330.8,1086.8 1336.8,1090.5 1342.8,1094.2 1348.8,1097.8 1354.8,1101.4 1360.8,1104.9 1366.8,1108.4 1372.8,1111.9 1378.8,1115.3 1384.8,1118.7 1390.8,1122.0 1396.8,1125.2 1402.8,1128.4 1408.8,1131.6 1414.8,1134.7 1420.8,1137.7 1426.8,1140.7 1432.8,1143.6 1438.8,1146.4 1444.8,1149.2 1450.8,1151.9 1456.8,1154.6 1462.8,1157.2 1468.8,1159.7 1474.8,1162.2 1480.8,1164.6 1486.8,1167.0 1492.8,1169.3 1498.8,1171.5 1504.8,1173.7 1510.8,1175.8 1516.8,1177.9 1522.8,1179.9 1528.8,1181.9 1534.8,1183.8 1540.8,1185.7 1546.7,1187.5 1552.7,1189.2 1558.7,1191.0 1564.7,1192.6 1570.7,1194.2 1576.7,1195.8 1582.7,1197.3 1588.7,1198.8 1594.7,1200.3 1600.7,1201.7 1606.7,1203.0 1612.7,1204.3 1618.7,1205.6 1624.7,1206.9 1630.7,1208.1 1636.7,1209.2 1642.7,1210.3 1648.7,1211.4 1654.7,1212.5 1660.7,1213.5 1666.7,1214.5 1672.7,1215.4 1678.7,1216.3 1684.7,1217.2 1690.7,1218.1 1696.7,1218.9 1702.7,1219.7 1708.7,1220.5 1714.7,1221.2 1720.7,1222.0 1726.7,1222.6 1732.7,1223.3 1738.7,1224.0 1744.7,1224.6 1750.7,1225.2 1756.7,1225.8 1762.7,1226.3 1768.7,1226.9 1774.7,1227.4 1780.7,1227.9 1786.7,1228.4 1792.7,1228.8 1798.7,1229.3 1804.7,1229.7 1810.7,1230.2 1816.7,1230.6 1822.7,1231.0 1828.7,1231.4 1834.7,1231.8 1840.7,1232.1 1846.7,1232.5 1852.7,1232.9 1858.7,1233.2 1864.7,1233.5 1870.7,1233.9 1876.7,1234.2 1882.7,1234.5 1888.7,1234.9 1894.7,1235.2 1900.7,1235.5 1906.7,1235.8 1912.7,1236.2 1918.7,1236.5 1924.7,1236.8 1930.7,1237.2 1936.7,1237.5 1942.7,1237.8 1948.7,1238.2" stroke="#17becf"/>
<path d="M328.9,1252.9 334.9,1250.7 340.9,1248.1 346.9,1245.2 352.9,1242.0 358.9,1238.5 364.9,1234.7 370.9,1230.7 376.9,1226.3 382.9,1221.8 388.9,1217.0 394.9,1212.0 400.9,1206.9 406.9,1201.5 412.9,1196.0 418.9,1190.3 424.9,1184.6 430.9,1178.7 436.9,1172.7 442.9,1166.6 448.9,1160.5 454.9,1154.4 460.9,1148.2 466.9,1142.0 472.9,1135.7 478.9,1129.6 484.9,1123.4 490.9,1117.3 496.9,1111.2 502.9,1105.3 508.9,1099.4 514.9,1093.7 520.9,1088.0 526.9,1082.6 532.9,1077.3 538.9,1072.1 544.9,1067.2 550.9,1062.4 556.9,1057.9 562.9,1053.6 568.9,1049.5 574.9,1045.6 580.9,1041.8 586.9,1038.3 592.9,1034.9 598.9,1031.7 604.9,1028.6 610.9,1025.7 616.9,1023.0 622.9,1020.4 628.9,1017.9 634.9,1015.6 640.9,1013.4 646.9,1011.4 652.9,1009.4 658.9,1007.6 664.9,1005.9 670.9,1004.2 676.9,1002.7 682.9,1001.3 688.9,999.9 694.9,998.6 700.9,997.4 706.9,996.3 712.9,995.2 718.9,994.2 724.9,993.2 730.9,992.2 736.8,991.4 742.8,990.5 748.8,989.7 754.8,988.8 760.8,988.0 766.8,987.3 772.8,986.5 778.8,985.8 784.8,985.0 790.8,984.3 796.8,983.6 802.8,982.9 808.8,982.2 814.8,981.5 820.8,980.8 826.8,980.1 832.8,979.3 838.8,978.6 844.8,977.9 850.8,977.2 856.8,976.4 862.8,975.7 868.8,974.9 874.8,974.1 880.8,973.3 886.8,972.5 892.8,971.6 898.8,970.8 904.8,970.0 910.8,969.2 916.8,968.4 922.8,967.6 928.8,966.9 934.8,966.2 940.8,965.6 946.8,965.1 952.8,964.6 958.8,964.3 964.8,964.0 970.8,963.9 976.8,963.8 982.8,963.9 988.8,964.1 994.8,964.5 1000.8,964.9 1006.8,965.5 1012.8,966.3 1018.8,967.1 1024.8,968.1 1030.8,969.2 1036.8,970.4 1042.8,971.7 1048.8,973.1 1054.8,974.6 1060.8,976.2 1066.8,977.9 1072.8,979.7 1078.8,981.7 1084.8,983.6 1090.8,985.7 1096.8,987.9 1102.8,990.2 1108.8,992.5 1114.8,994.9 1120.8,997.4 1126.8,999.9 1132.8,1002.5 1138.8,1005.2 1144.8,1008.0 1150.8,1010.8 1156.8,1013.7 1162.8,1016.6 1168.8,1019.5 1174.8,1022.6 1180.8,1025.6 1186.8,1028.7 1192.8,1031.9 1198.8,1035.1 1204.8,1038.3 1210.8,1041.6 1216.8,1044.8 1222.8,1048.1 1228.8,1051.5 1234.8,1054.8 1240.8,1058.2 1246.8,1061.6 1252.8,1065.0 1258.8,1068.4 1264.8,1071.8 1270.8,1075.2 1276.8,1078.7 1282.8,1082.1 1288.8,1085.5 1294.8,1088.9 1300.8,1092.3 1306.8,1095.7 1312.8,1099.1 1318.8,1102.5 1324.8,1105.8 1330.8,1109.1 1336.8,1112.4 1342.8,1115.7 1348.8,1118.9 1354.8,1122.1 1360.8,1125.2 1366.8,1128.3 1372.8,1131.4 1378.8,1134.4 1384.8,1137.4 1390.8,1140.3 1396.8,1143.2 1402.8,1146.0 1408.8,1148.8 1414.8,1151.5 1420.8,1154.1 1426.8,1156.7 1432.8,1159.3 1438.8,1161.8 1444.8,1164.2 1450.8,1166.6 1456.8,1168.9 1462.8,1171.2 1468.8,1173.4 1474.8,1175.6 1480.8,1177.7 1486.8,1179.8 1492.8,1181.8 1498.8,1183.8 1504.8,1185.8 1510.8,1187.7 1516.8,1189.5 1522.8,1191.3 1528.8,1193.1 1534.8,1194.8 1540.8,1196.5 1546.7,1198.1 1552.7,1199.7 1558.7,1201.2 1564.7,1202.7 1570.7,1204.2 1576.7,1205.6 1582.7,1207.0 1588.7,1208.3 1594.7,1209.6 1600.7,1210.9 1606.7,1212.1 1612.7,1213.3 1618.7,1214.4 1624.7,1215.6 1630.7,1216.6 1636.7,1217.7 1642.7,1218.7 1648.7,1219.7 1654.7,1220.6 1660.7,1221.5 1666.7,1222.4 1672.7,1223.3 1678.7,1224.1 1684.7,1224.9 1690.7,1225.7 1696.7,1226.4 1702.7,1227.1 1708.7,1227.8 1714.7,1228.4 1720.7,1229.1 1726.7,1229.7 1732.7,1230.2 1738.7,1230.8 1744.7,1231.3 1750.7,1231.8 1756.7,1232.3 1762.7,1232.7 1768.7,1233.2 1774.7,1233.6 1780.7,1234.0 1786.7,1234.4 1792.7,1234.7 1798.7,1235.0 1804.7,1235.4 1810.7,1235.6 1816.7,1235.9 1822.7,1236.2 1828.7,1236.4 1834.7,1236.7 1840.7,1236.9 1846.7,1237.1 1852.7,1237.3 1858.7,1237.4 1864.7,1237.6 1870.7,1237.7 1876.7,1237.9 1882.7,1238.0 1888.7,1238.1 1894.7,1238.2 1900.7,1238.3 1906.7,1238.4 1912.7,1238.5 1918.7,1238.5 1924.7,1238.6 1930.7,1238.7 1936.7,1238.7 1942.7,1238.8 1948.7,1238.8" stroke="#1f77b4"/>
<path d="M328.9,1234.3 334.9,1233.7 340.9,1232.7 346.9,1231.1 352.9,1229.2 358.9,1226.8 364.9,1224.0 370.9,1220.9 376.9,1217.4 382.9,1213.5 388.9,1209.4 394.9,1205.0 400.9,1200.3 406.9,1195.3 412.9,1190.1 418.9,1184.7 424.9,1179.2 430.9,1173.4 436.9,1167.6 442.9,1161.6 448.9,1155.5 454.9,1149.4 460.9,1143.2 466.9,1136.9 472.9,1130.7 478.9,1124.4 484.9,1118.2 490.9,1112.1 496.9,1106.0 502.9,1100.0 508.9,1094.1 514.9,1088.4 520.9,1082.8 526.9,1077.4 532.9,1072.3 538.9,1067.3 544.9,1062.6 550.9,1058.1 556.9,1053.9 562.9,1050.0 568.9,1046.2 574.9,1042.7 580.9,1039.4 586.9,1036.3 592.9,1033.4 598.9,1030.6 604.9,1028.1 610.9,1025.7 616.9,1023.6 622.9,1021.5 628.9,1019.7 634.9,1017.9 640.9,1016.4 646.9,1014.9 652.9,1013.6 658.9,1012.4 664.9,1011.3 670.9,1010.3 676.9,1009.4 682.9,1008.6 688.9,1007.9 694.9,1007.2 700.9,1006.6 706.9,1006.1 712.9,1005.7 718.9,1005.2 724.9,1004.9 730.9,1004.5 736.8,1004.2 742.8,1003.8 748.8,1003.5 754.8,1003.2 760.8,1002.8 766.8,1002.4 772.8,1002.0 778.8,1001.5 784.8,1001.0 790.8,1000.5 796.8,999.8 802.8,999.1 808.8,998.4 814.8,997.6 820.8,996.7 826.8,995.9 832.8,994.9 838.8,994.0 844.8,993.0 850.8,992.1 856.8,991.1 862.8,990.1 868.8,989.1 874.8,988.1 880.8,987.1 886.8,986.2 892.8,985.2 898.8,984.3 904.8,983.5 910.8,982.6 916.8,981.8 922.8,981.1 928.8,980.4 934.8,979.7 940.8,979.2 946.8,978.7 952.8,978.2 958.8,977.9 964.8,977.6 970.8,977.4 976.8,977.4 982.8,977.4 988.8,977.5 994.8,977.8 1000.8,978.1 1006.8,978.6 1012.8,979.2 1018.8,980.0 1024.8,980.8 1030.8,981.8 1036.8,982.9 1042.8,984.2 1048.8,985.5 1054.8,986.9 1060.8,988.5 1066.8,990.1 1072.8,991.9 1078.8,993.7 1084.8,995.6 1090.8,997.6 1096.8,999.7 1102.8,1001.9 1108.8,1004.2 1114.8,1006.5 1120.8,1008.9 1126.8,1011.4 1132.8,1014.0 1138.8,1016.6 1144.8,1019.3 1150.8,1022.0 1156.8,1024.8 1162.8,1027.6 1168.8,1030.5 1174.8,1033.4 1180.8,1036.3 1186.8,1039.3 1192.8,1042.4 1198.8,1045.4 1204.8,1048.5 1210.8,1051.6 1216.8,1054.8 1222.8,1057.9 1228.8,1061.1 1234.8,1064.3 1240.8,1067.4 1246.8,1070.6 1252.8,1073.8 1258.8,1077.0 1264.8,1080.2 1270.8,1083.4 1276.8,1086.6 1282.8,1089.8 1288.8,1093.0 1294.8,1096.2 1300.8,1099.3 1306.8,1102.5 1312.8,1105.6 1318.8,1108.7 1324.8,1111.8 1330.8,1114.9 1336.8,1117.9 1342.8,1120.9 1348.8,1123.9 1354.8,1126.9 1360.8,1129.8 1366.8,1132.7 1372.8,1135.6 1378.8,1138.4 1384.8,1141.2 1390.8,1143.9 1396.8,1146.6 1402.8,1149.3 1408.8,1151.9 1414.8,1154.4 1420.8,1156.9 1426.8,1159.4 1432.8,1161.7 1438.8,1164.1 1444.8,1166.3 1450.8,1168.6 1456.8,1170.7 1462.8,1172.8 1468.8,1174.9 1474.8,1176.9 1480.8,1178.8 1486.8,1180.7 1492.8,1182.6 1498.8,1184.4 1504.8,1186.1 1510.8,1187.8 1516.8,1189.5 1522.8,1191.1 1528.8,1192.6 1534.8,1194.1 1540.8,1195.6 1546.7,1197.0 1552.7,1198.4 1558.7,1199.7 1564.7,1201.0 1570.7,1202.2 1576.7,1203.5 1582.7,1204.6 1588.7,1205.8 1594.7,1206.8 1600.7,1207.9 1606.7,1208.9 1612.7,1209.9 1618.7,1210.8 1624.7,1211.7 1630.7,1212.6 1636.7,1213.4 1642.7,1214.2 1648.7,1215.0 1654.7,1215.7 1660.7,1216.5 1666.7,1217.1 1672.7,1217.8 1678.7,1218.4 1684.7,1219.0 1690.7,1219.6 1696.7,1220.1 1702.7,1220.6 1708.7,1221.1 1714.7,1221.6 1720.7,1222.0 1726.7,1222.4 1732.7,1222.8 1738.7,1223.2 1744.7,1223.5 1750.7,1223.9 1756.7,1224.2 1762.7,1224.5 1768.7,1224.7 1774.7,1225.0 1780.7,1225.2 1786.7,1225.4 1792.7,1225.7 1798.7,1225.8 1804.7,1226.0 1810.7,1226.2 1816.7,1226.3 1822.7,1226.5 1828.7,1226.6 1834.7,1226.7 1840.7,1226.8 1846.7,1226.9 1852.7,1227.0 1858.7,1227.1 1864.7,1227.2 1870.7,1227.3 1876.7,1227.3 1882.7,1227.4 1888.7,1227.5 1894.7,1227.5 1900.7,1227.6 1906.7,1227.6 1912.7,1227.7 1918.7,1227.7 1924.7,1227.8 1930.7,1227.8 1936.7,1227.9 1942.7,1227.9 1948.7,1228.0" stroke="#ff7f0e"/>
<path d="M328.9,1239.4 334.9,1239.3 340.9,1238.7 346.9,1237.5 352.9,1236.0 358.9,1234.0 364.9,1231.5 370.9,1228.7 376.9,1225.6 382.9,1222.1 388.9,1218.4 394.9,1214.3 400.9,1210.0 406.9,1205.5 412.9,1200.8 418.9,1195.9 424.9,1190.8 430.9,1185.6 436.9,1180.4 442.9,1175.0 448.9,1169.6 454.9,1164.2 460.9,1158.8 466.9,1153.5 472.9,1148.1 478.9,1142.9 484.9,1137.8 490.9,1132.8 496.9,1128.0 502.9,1123.3 508.9,1118.9 514.9,1114.6 520.9,1110.6 526.9,1106.9 532.9,1103.3 538.9,1099.9 544.9,1096.6 550.9,1093.5 556.9,1090.6 562.9,1087.8 568.9,1085.2 574.9,1082.7 580.9,1080.2 586.9,1077.9 592.9,1075.7 598.9,1073.6 604.9,1071.5 610.9,1069.6 616.9,1067.7 622.9,1066.0 628.9,1064.3 634.9,1062.7 640.9,1061.2 646.9,1059.7 652.9,1058.4 658.9,1057.1 664.9,1055.9 670.9,1054.8 676.9,1053.7 682.9,1052.7 688.9,1051.8 694.9,1051.0 700.9,1050.2 706.9,1049.5 712.9,1048.8 718.9,1048.2 724.9,1047.6 730.9,1047.0 736.8,1046.5 742.8,1046.0 748.8,1045.5 754.8,1045.1 760.8,1044.6 766.8,1044.1 772.8,1043.7 778.8,1043.2 784.8,1042.8 790.8,1042.3 796.8,1041.7 802.8,1041.2 808.8,1040.6 814.8,1040.0 820.8,1039.3 826.8,1038.6 832.8,1037.8 838.8,1036.9 844.8,1036.0 850.8,1035.1 856.8,1034.1 862.8,1033.1 868.8,1032.1 874.8,1031.0 880.8,1030.0 886.8,1029.0 892.8,1027.9 898.8,1026.9 904.8,1025.9 910.8,1024.9 916.8,1024.0 922.8,1023.1 928.8,1022.3 934.8,1021.5 940.8,1020.8 946.8,1020.1 952.8,1019.6 958.8,1019.1 964.8,1018.7 970.8,1018.4 976.8,1018.2 982.8,1018.2 988.8,1018.3 994.8,1018.5 1000.8,1018.8 1006.8,1019.2 1012.8,1019.7 1018.8,1020.4 1024.8,1021.1 1030.8,1022.0 1036.8,1023.0 1042.8,1024.0 1048.8,1025.2 1054.8,1026.4 1060.8,1027.8 1066.8,1029.2 1072.8,1030.7 1078.8,1032.3 1084.8,1034.0 1090.8,1035.7 1096.8,1037.5 1102.8,1039.4 1108.8,1041.3 1114.8,1043.4 1120.8,1045.4 1126.8,1047.6 1132.8,1049.8 1138.8,1052.0 1144.8,1054.3 1150.8,1056.6 1156.8,1059.0 1162.8,1061.4 1168.8,1063.9 1174.8,1066.3 1180.8,1068.9 1186.8,1071.4 1192.8,1074.0 1198.8,1076.6 1204.8,1079.2 1210.8,1081.8 1216.8,1084.5 1222.8,1087.1 1228.8,1089.8 1234.8,1092.5 1240.8,1095.1 1246.8,1097.8 1252.8,1100.5 1258.8,1103.1 1264.8,1105.8 1270.8,1108.5 1276.8,1111.1 1282.8,1113.8 1288.8,1116.4 1294.8,1119.1 1300.8,1121.7 1306.8,1124.3 1312.8,1126.9 1318.8,1129.4 1324.8,1132.0 1330.8,1134.5 1336.8,1137.1 1342.8,1139.5 1348.8,1142.0 1354.8,1144.4 1360.8,1146.9 1366.8,1149.2 1372.8,1151.6 1378.8,1153.9 1384.8,1156.2 1390.8,1158.4 1396.8,1160.6 1402.8,1162.8 1408.8,1164.9 1414.8,1167.0 1420.8,1169.1 1426.8,1171.1 1432.8,1173.1 1438.8,1175.0 1444.8,1176.9 1450.8,1178.7 1456.8,1180.5 1462.8,1182.3 1468.8,1184.0 1474.8,1185.7 1480.8,1187.3 1486.8,1188.9 1492.8,1190.5 1498.8,1192.0 1504.8,1193.5 1510.8,1195.0 1516.8,1196.4 1522.8,1197.8 1528.8,1199.1 1534.8,1200.4 1540.8,1201.7 1546.7,1203.0 1552.7,1204.2 1558.7,1205.4 1564.7,1206.5 1570.7,1207.7 1576.7,1208.7 1582.7,1209.8 1588.7,1210.8 1594.7,1211.8 1600.7,1212.8 1606.7,1213.7 1612.7,1214.6 1618.7,1215.5 1624.7,1216.4 1630.7,1217.2 1636.7,1218.0 1642.7,1218.8 1648.7,1219.5 1654.7,1220.2 1660.7,1220.9 1666.7,1221.6 1672.7,1222.2 1678.7,1222.9 1684.7,1223.5 1690.7,1224.0 1696.7,1224.6 1702.7,1225.1 1708.7,1225.6 1714.7,1226.1 1720.7,1226.6 1726.7,1227.0 1732.7,1227.4 1738.7,1227.8 1744.7,1228.2 1750.7,1228.6 1756.7,1228.9 1762.7,1229.3 1768.7,1229.6 1774.7,1229.9 1780.7,1230.1 1786.7,1230.4 1792.7,1230.7 1798.7,1230.9 1804.7,1231.1 1810.7,1231.3 1816.7,1231.5 1822.7,1231.7 1828.7,1231.8 1834.7,1232.0 1840.7,1232.1 1846.7,1232.2 1852.7,1232.3 1858.7,1232.4 1864.7,1232.5 1870.7,1232.6 1876.7,1232.7 1882.7,1232.7 1888.7,1232.8 1894.7,1232.8 1900.7,1232.9 1906.7,1232.9 1912.7,1232.9 1918.7,1232.9 1924.7,1232.9 1930.7,1232.9 1936.7,1232.9 1942.7,1232.9 1948.7,1232.9" stroke="#2ca02c"/>
<path d="M328.9,1303.2 334.9,1301.8 340.9,1300.1 346.9,1298.2 352.9,1296.2 358.9,1293.9 364.9,1291.4 370.9,1288.8 376.9,1286.0 382.9,1283.1 388.9,1280.1 394.9,1276.9 400.9,1273.7 406.9,1270.4 412.9,1267.0 418.9,1263.6 424.9,1260.1 430.9,1256.7 436.9,1253.2 442.9,1249.7 448.9,1246.2 454.9,1242.7 460.9,1239.3 466.9,1235.9 472.9,1232.5 478.9,1229.1 484.9,1225.8 490.9,1222.4 496.9,1219.2 502.9,1215.9 508.9,1212.7 514.9,1209.5 520.9,1206.4 526.9,1203.3 532.9,1200.2 538.9,1197.2 544.9,1194.3 550.9,1191.4 556.9,1188.5 562.9,1185.8 568.9,1183.0 574.9,1180.4 580.9,1177.8 586.9,1175.2 592.9,1172.8 598.9,1170.4 604.9,1168.0 610.9,1165.8 616.9,1163.6 622.9,1161.5 628.9,1159.5 634.9,1157.6 640.9,1155.8 646.9,1154.0 652.9,1152.3 658.9,1150.8 664.9,1149.3 670.9,1147.9 676.9,1146.7 682.9,1145.5 688.9,1144.4 694.9,1143.3 700.9,1142.4 706.9,1141.5 712.9,1140.7 718.9,1140.0 724.9,1139.3 730.9,1138.7 736.8,1138.1 742.8,1137.6 748.8,1137.2 754.8,1136.8 760.8,1136.4 766.8,1136.0 772.8,1135.7 778.8,1135.4 784.8,1135.2 790.8,1134.9 796.8,1134.7 802.8,1134.5 808.8,1134.3 814.8,1134.1 820.8,1133.9 826.8,1133.8 832.8,1133.6 838.8,1133.4 844.8,1133.1 850.8,1132.9 856.8,1132.6 862.8,1132.4 868.8,1132.1 874.8,1131.7 880.8,1131.3 886.8,1130.9 892.8,1130.5 898.8,1130.1 904.8,1129.6 910.8,1129.2 916.8,1128.7 922.8,1128.3 928.8,1127.8 934.8,1127.4 940.8,1127.0 946.8,1126.5 952.8,1126.2 958.8,1125.8 964.8,1125.5 970.8,1125.2 976.8,1125.0 982.8,1124.8 988.8,1124.7 994.8,1124.7 1000.8,1124.7 1006.8,1124.7 1012.8,1124.9 1018.8,1125.1 1024.8,1125.4 1030.8,1125.8 1036.8,1126.3 1042.8,1126.9 1048.8,1127.6 1054.8,1128.4 1060.8,1129.3 1066.8,1130.3 1072.8,1131.4 1078.8,1132.7 1084.8,1134.1 1090.8,1135.5 1096.8,1137.1 1102.8,1138.8 1108.8,1140.5 1114.8,1142.4 1120.8,1144.3 1126.8,1146.2 1132.8,1148.3 1138.8,1150.4 1144.8,1152.5 1150.8,1154.7 1156.8,1156.9 1162.8,1159.2 1168.8,1161.5 1174.8,1163.8 1180.8,1166.1 1186.8,1168.4 1192.8,1170.8 1198.8,1173.1 1204.8,1175.4 1210.8,1177.7 1216.8,1180.0 1222.8,1182.3 1228.8,1184.6 1234.8,1186.8 1240.8,1188.9 1246.8,1191.0 1252.8,1193.1 1258.8,1195.2 1264.8,1197.2 1270.8,1199.2 1276.8,1201.1 1282.8,1203.0 1288.8,1204.9 1294.8,1206.8 1300.8,1208.6 1306.8,1210.4 1312.8,1212.1 1318.8,1213.9 1324.8,1215.5 1330.8,1217.2 1336.8,1218.8 1342.8,1220.4 1348.8,1222.0 1354.8,1223.6 1360.8,1225.1 1366.8,1226.6 1372.8,1228.1 1378.8,1229.5 1384.8,1230.9 1390.8,1232.3 1396.8,1233.7 1402.8,1235.1 1408.8,1236.4 1414.8,1237.7 1420.8,1239.0 1426.8,1240.2 1432.8,1241.5 1438.8,1242.7 1444.8,1243.9 1450.8,1245.1 1456.8,1246.2 1462.8,1247.3 1468.8,1248.5 1474.8,1249.5 1480.8,1250.6 1486.8,1251.7 1492.8,1252.7 1498.8,1253.7 1504.8,1254.7 1510.8,1255.7 1516.8,1256.6 1522.8,1257.6 1528.8,1258.5 1534.8,1259.4 1540.8,1260.3 1546.7,1261.1 1552.7,1262.0 1558.7,1262.8 1564.7,1263.6 1570.7,1264.4 1576.7,1265.2 1582.7,1265.9 1588.7,1266.7 1594.7,1267.4 1600.7,1268.1 1606.7,1268.8 1612.7,1269.5 1618.7,1270.1 1624.7,1270.8 1630.7,1271.4 1636.7,1272.0 1642.7,1272.6 1648.7,1273.2 1654.7,1273.8 1660.7,1274.4 1666.7,1274.9 1672.7,1275.5 1678.7,1276.0 1684.7,1276.5 1690.7,1277.0 1696.7,1277.5 1702.7,1277.9 1708.7,1278.4 1714.7,1278.8 1720.7,1279.3 1726.7,1279.7 1732.7,1280.1 1738.7,1280.5 1744.7,1280.9 1750.7,1281.3 1756.7,1281.6 1762.7,1282.0 1768.7,1282.3 1774.7,1282.7 1780.7,1283.0 1786.7,1283.3 1792.7,1283.6 1798.7,1283.9 1804.7,1284.2 1810.7,1284.5 1816.7,1284.8 1822.7,1285.0 1828.7,1285.3 1834.7,1285.5 1840.7,1285.8 1846.7,1286.0 1852.7,1286.2 1858.7,1286.5 1864.7,1286.7 1870.7,1286.9 1876.7,1287.1 1882.7,1287.3 1888.7,1287.5 1894.7,1287.6 1900.7,1287.8 1906.7,1288.0 1912.7,1288.2 1918.7,1288.3 1924.7,1288.5 1930.7,1288.6 1936.7,1288.8 1942.7,1288.9 1948.7,1289.1" stroke="#d62728"/>
<path d="M328.9,1271.0 334.9,1270.3 340.9,1269.4 346.9,1268.1 352.9,1266.7 358.9,1264.9 364.9,1263.0 370.9,1260.9 376.9,1258.6 382.9,1256.1 388.9,1253.4 394.9,1250.6 400.9,1247.7 406.9,1244.7 412.9,1241.6 418.9,1238.5 424.9,1235.2 430.9,1232.0 436.9,1228.7 442.9,1225.4 448.9,1222.1 454.9,1218.9 460.9,1215.7 466.9,1212.5 472.9,1209.4 478.9,1206.4 484.9,1203.5 490.9,1200.6 496.9,1197.8 502.9,1195.1 508.9,1192.4 514.9,1189.8 520.9,1187.3 526.9,1184.9 532.9,1182.5 538.9,1180.2 544.9,1177.9 550.9,1175.8 556.9,1173.7 562.9,1171.6 568.9,1169.7 574.9,1167.8 580.9,1166.0 586.9,1164.2 592.9,1162.6 598.9,1161.0 604.9,1159.4 610.9,1158.0 616.9,1156.6 622.9,1155.3 628.9,1154.0 634.9,1152.8 640.9,1151.7 646.9,1150.7 652.9,1149.7 658.9,1148.8 664.9,1147.9 670.9,1147.1 676.9,1146.3 682.9,1145.6 688.9,1144.9 694.9,1144.3 700.9,1143.7 706.9,1143.1 712.9,1142.6 718.9,1142.2 724.9,1141.7 730.9,1141.3 736.8,1140.9 742.8,1140.5 748.8,1140.2 754.8,1139.9 760.8,1139.6 766.8,1139.3 772.8,1139.0 778.8,1138.7 784.8,1138.5 790.8,1138.2 796.8,1138.0 802.8,1137.7 808.8,1137.5 814.8,1137.2 820.8,1136.9 826.8,1136.6 832.8,1136.4 838.8,1136.1 844.8,1135.7 850.8,1135.4 856.8,1135.1 862.8,1134.8 868.8,1134.4 874.8,1134.1 880.8,1133.8 886.8,1133.5 892.8,1133.2 898.8,1132.9 904.8,1132.6 910.8,1132.3 916.8,1132.1 922.8,1131.8 928.8,1131.6 934.8,1131.5 940.8,1131.3 946.8,1131.2 952.8,1131.1 958.8,1131.0 964.8,1131.0 970.8,1131.0 976.8,1131.1 982.8,1131.2 988.8,1131.4 994.8,1131.6 1000.8,1131.8 1006.8,1132.1 1012.8,1132.5 1018.8,1132.9 1024.8,1133.4 1030.8,1133.9 1036.8,1134.5 1042.8,1135.2 1048.8,1136.0 1054.8,1136.8 1060.8,1137.7 1066.8,1138.7 1072.8,1139.7 1078.8,1140.8 1084.8,1142.0 1090.8,1143.3 1096.8,1144.6 1102.8,1146.0 1108.8,1147.5 1114.8,1149.0 1120.8,1150.5 1126.8,1152.1 1132.8,1153.7 1138.8,1155.4 1144.8,1157.1 1150.8,1158.9 1156.8,1160.6 1162.8,1162.4 1168.8,1164.3 1174.8,1166.1 1180.8,1167.9 1186.8,1169.8 1192.8,1171.6 1198.8,1173.5 1204.8,1175.3 1210.8,1177.2 1216.8,1179.0 1222.8,1180.8 1228.8,1182.6 1234.8,1184.4 1240.8,1186.2 1246.8,1187.9 1252.8,1189.6 1258.8,1191.3 1264.8,1193.0 1270.8,1194.6 1276.8,1196.2 1282.8,1197.8 1288.8,1199.4 1294.8,1201.0 1300.8,1202.5 1306.8,1204.0 1312.8,1205.5 1318.8,1207.0 1324.8,1208.5 1330.8,1209.9 1336.8,1211.3 1342.8,1212.7 1348.8,1214.1 1354.8,1215.4 1360.8,1216.7 1366.8,1218.0 1372.8,1219.3 1378.8,1220.6 1384.8,1221.8 1390.8,1223.1 1396.8,1224.3 1402.8,1225.4 1408.8,1226.6 1414.8,1227.7 1420.8,1228.9 1426.8,1230.0 1432.8,1231.0 1438.8,1232.1 1444.8,1233.1 1450.8,1234.2 1456.8,1235.2 1462.8,1236.2 1468.8,1237.1 1474.8,1238.1 1480.8,1239.0 1486.8,1239.9 1492.8,1240.8 1498.8,1241.7 1504.8,1242.5 1510.8,1243.4 1516.8,1244.2 1522.8,1245.0 1528.8,1245.8 1534.8,1246.6 1540.8,1247.3 1546.7,1248.1 1552.7,1248.8 1558.7,1249.5 1564.7,1250.2 1570.7,1250.9 1576.7,1251.5 1582.7,1252.2 1588.7,1252.8 1594.7,1253.4 1600.7,1254.0 1606.7,1254.6 1612.7,1255.2 1618.7,1255.7 1624.7,1256.3 1630.7,1256.8 1636.7,1257.3 1642.7,1257.8 1648.7,1258.3 1654.7,1258.8 1660.7,1259.2 1666.7,1259.7 1672.7,1260.1 1678.7,1260.6 1684.7,1261.0 1690.7,1261.4 1696.7,1261.8 1702.7,1262.1 1708.7,1262.5 1714.7,1262.8 1720.7,1263.2 1726.7,1263.5 1732.7,1263.8 1738.7,1264.1 1744.7,1264.4 1750.7,1264.7 1756.7,1265.0 1762.7,1265.3 1768.7,1265.5 1774.7,1265.8 1780.7,1266.0 1786.7,1266.2 1792.7,1266.5 1798.7,1266.7 1804.7,1266.9 1810.7,1267.1 1816.7,1267.2 1822.7,1267.4 1828.7,1267.6 1834.7,1267.7 1840.7,1267.9 1846.7,1268.0 1852.7,1268.2 1858.7,1268.3 1864.7,1268.4 1870.7,1268.5 1876.7,1268.7 1882.7,1268.8 1888.7,1268.9 1894.7,1268.9 1900.7,1269.0 1906.7,1269.1 1912.7,1269.2 1918.7,1269.2 1924.7,1269.3 1930.7,1269.4 1936.7,1269.4 1942.7,1269.5 1948.7,1269.5" stroke="#9467bd"/>
<path d="M328.9,1280.2 334.9,1279.6 340.9,1278.9 346.9,1277.9 352.9,1276.7 358.9,1275.4 364.9,1273.9 370.9,1272.3 376.9,1270.5 382.9,1268.6 388.9,1266.6 394.9,1264.5 400.9,1262.3 406.9,1260.0 412.9,1257.6 418.9,1255.2 424.9,1252.8 430.9,1250.3 436.9,1247.8 442.9,1245.3 448.9,1242.8 454.9,1240.4 460.9,1237.9 466.9,1235.5 472.9,1233.2 478.9,1230.9 484.9,1228.6 490.9,1226.5 496.9,1224.3 502.9,1222.2 508.9,1220.2 514.9,1218.2 520.9,1216.3 526.9,1214.4 532.9,1212.6 538.9,1210.9 544.9,1209.2 550.9,1207.5 556.9,1205.9 562.9,1204.4 568.9,1203.0 574.9,1201.6 580.9,1200.2 586.9,1199.0 592.9,1197.7 598.9,1196.6 604.9,1195.5 610.9,1194.5 616.9,1193.5 622.9,1192.7 628.9,1191.8 634.9,1191.1 640.9,1190.4 646.9,1189.7 652.9,1189.1 658.9,1188.6 664.9,1188.1 670.9,1187.6 676.9,1187.2 682.9,1186.8 688.9,1186.5 694.9,1186.1 700.9,1185.8 706.9,1185.5 712.9,1185.2 718.9,1184.9 724.9,1184.7 730.9,1184.4 736.8,1184.1 742.8,1183.9 748.8,1183.6 754.8,1183.3 760.8,1183.0 766.8,1182.7 772.8,1182.4 778.8,1182.1 784.8,1181.8 790.8,1181.5 796.8,1181.2 802.8,1180.8 808.8,1180.5 814.8,1180.2 820.8,1179.9 826.8,1179.6 832.8,1179.3 838.8,1179.0 844.8,1178.7 850.8,1178.5 856.8,1178.2 862.8,1178.0 868.8,1177.8 874.8,1177.6 880.8,1177.4 886.8,1177.2 892.8,1177.1 898.8,1176.9 904.8,1176.8 910.8,1176.7 916.8,1176.7 922.8,1176.6 928.8,1176.6 934.8,1176.7 940.8,1176.7 946.8,1176.8 952.8,1176.9 958.8,1177.1 964.8,1177.3 970.8,1177.5 976.8,1177.7 982.8,1178.0 988.8,1178.4 994.8,1178.7 1000.8,1179.1 1006.8,1179.6 1012.8,1180.1 1018.8,1180.6 1024.8,1181.2 1030.8,1181.8 1036.8,1182.5 1042.8,1183.2 1048.8,1184.0 1054.8,1184.8 1060.8,1185.7 1066.8,1186.6 1072.8,1187.5 1078.8,1188.6 1084.8,1189.6 1090.8,1190.8 1096.8,1191.9 1102.8,1193.2 1108.8,1194.5 1114.8,1195.8 1120.8,1197.2 1126.8,1198.6 1132.8,1200.1 1138.8,1201.6 1144.8,1203.1 1150.8,1204.6 1156.8,1206.2 1162.8,1207.8 1168.8,1209.4 1174.8,1211.0 1180.8,1212.6 1186.8,1214.2 1192.8,1215.8 1198.8,1217.4 1204.8,1219.0 1210.8,1220.6 1216.8,1222.1 1222.8,1223.6 1228.8,1225.2 1234.8,1226.6 1240.8,1228.1 1246.8,1229.5 1252.8,1230.8 1258.8,1232.2 1264.8,1233.4 1270.8,1234.6 1276.8,1235.8 1282.8,1236.9 1288.8,1238.0 1294.8,1239.0 1300.8,1240.0 1306.8,1241.0 1312.8,1241.9 1318.8,1242.7 1324.8,1243.6 1330.8,1244.4 1336.8,1245.2 1342.8,1245.9 1348.8,1246.7 1354.8,1247.4 1360.8,1248.1 1366.8,1248.8 1372.8,1249.4 1378.8,1250.1 1384.8,1250.7 1390.8,1251.3 1396.8,1251.9 1402.8,1252.6 1408.8,1253.2 1414.8,1253.8 1420.8,1254.4 1426.8,1255.0 1432.8,1255.6 1438.8,1256.1 1444.8,1256.7 1450.8,1257.3 1456.8,1257.9 1462.8,1258.4 1468.8,1259.0 1474.8,1259.5 1480.8,1260.1 1486.8,1260.6 1492.8,1261.2 1498.8,1261.7 1504.8,1262.2 1510.8,1262.8 1516.8,1263.3 1522.8,1263.8 1528.8,1264.3 1534.8,1264.8 1540.8,1265.3 1546.7,1265.8 1552.7,1266.3 1558.7,1266.7 1564.7,1267.2 1570.7,1267.7 1576.7,1268.2 1582.7,1268.6 1588.7,1269.1 1594.7,1269.5 1600.7,1270.0 1606.7,1270.4 1612.7,1270.8 1618.7,1271.3 1624.7,1271.7 1630.7,1272.1 1636.7,1272.5 1642.7,1272.9 1648.7,1273.3 1654.7,1273.7 1660.7,1274.1 1666.7,1274.5 1672.7,1274.8 1678.7,1275.2 1684.7,1275.6 1690.7,1275.9 1696.7,1276.3 1702.7,1276.6 1708.7,1277.0 1714.7,1277.3 1720.7,1277.6 1726.7,1277.9 1732.7,1278.3 1738.7,1278.6 1744.7,1278.9 1750.7,1279.2 1756.7,1279.5 1762.7,1279.7 1768.7,1280.0 1774.7,1280.3 1780.7,1280.6 1786.7,1280.8 1792.7,1281.1 1798.7,1281.3 1804.7,1281.6 1810.7,1281.8 1816.7,1282.0 1822.7,1282.3 1828.7,1282.5 1834.7,1282.7 1840.7,1282.9 1846.7,1283.1 1852.7,1283.3 1858.7,1283.5 1864.7,1283.6 1870.7,1283.8 1876.7,1284.0 1882.7,1284.1 1888.7,1284.3 1894.7,1284.4 1900.7,1284.6 1906.7,1284.7 1912.7,1284.8 1918.7,1284.9 1924.7,1285.1 1930.7,1285.2 1936.7,1285.3 1942.7,1285.3 1948.7,1285.4" stroke="#8c564b"/>
<path d="M328.9,1262.2 334.9,1260.7 340.9,1259.0 346.9,1257.3 352.9,1255.5 358.9,1253.5 364.9,1251.5 370.9,1249.4 376.9,1247.3 382.9,1245.1 388.9,1242.8 394.9,1240.5 400.9,1238.2 406.9,1235.9 412.9,1233.6 418.9,1231.2 424.9,1228.9 430.9,1226.6 436.9,1224.3 442.9,1222.1 448.9,1219.9 454.9,1217.7 460.9,1215.7 466.9,1213.7 472.9,1211.7 478.9,1209.9 484.9,1208.1 490.9,1206.5 496.9,1204.8 502.9,1203.3 508.9,1201.8 514.9,1200.4 520.9,1199.0 526.9,1197.7 532.9,1196.4 538.9,1195.2 544.9,1194.1 550.9,1193.0 556.9,1192.0 562.9,1190.9 568.9,1190.0 574.9,1189.1 580.9,1188.2 586.9,1187.3 592.9,1186.5 598.9,1185.7 604.9,1184.9 610.9,1184.2 616.9,1183.5 622.9,1182.8 628.9,1182.1 634.9,1181.4 640.9,1180.8 646.9,1180.2 652.9,1179.6 658.9,1179.0 664.9,1178.4 670.9,1177.9 676.9,1177.3 682.9,1176.8 688.9,1176.3 694.9,1175.8 700.9,1175.4 706.9,1174.9 712.9,1174.5 718.9,1174.1 724.9,1173.7 730.9,1173.4 736.8,1173.0 742.8,1172.7 748.8,1172.4 754.8,1172.1 760.8,1171.8 766.8,1171.6 772.8,1171.3 778.8,1171.1 784.8,1170.9 790.8,1170.7 796.8,1170.6 802.8,1170.4 808.8,1170.3 814.8,1170.2 820.8,1170.1 826.8,1170.0 832.8,1170.0 838.8,1169.9 844.8,1169.9 850.8,1169.9 856.8,1169.9 862.8,1170.0 868.8,1170.0 874.8,1170.1 880.8,1170.2 886.8,1170.3 892.8,1170.5 898.8,1170.6 904.8,1170.8 910.8,1171.0 916.8,1171.2 922.8,1171.4 928.8,1171.6 934.8,1171.9 940.8,1172.2 946.8,1172.5 952.8,1172.8 958.8,1173.1 964.8,1173.5 970.8,1173.8 976.8,1174.2 982.8,1174.6 988.8,1175.1 994.8,1175.5 1000.8,1176.0 1006.8,1176.5 1012.8,1177.0 1018.8,1177.5 1024.8,1178.0 1030.8,1178.6 1036.8,1179.1 1042.8,1179.7 1048.8,1180.3 1054.8,1181.0 1060.8,1181.6 1066.8,1182.3 1072.8,1183.0 1078.8,1183.7 1084.8,1184.4 1090.8,1185.1 1096.8,1185.9 1102.8,1186.7 1108.8,1187.5 1114.8,1188.3 1120.8,1189.1 1126.8,1189.9 1132.8,1190.8 1138.8,1191.7 1144.8,1192.5 1150.8,1193.4 1156.8,1194.4 1162.8,1195.3 1168.8,1196.2 1174.8,1197.1 1180.8,1198.1 1186.8,1199.1 1192.8,1200.0 1198.8,1201.0 1204.8,1202.0 1210.8,1203.0 1216.8,1203.9 1222.8,1204.9 1228.8,1205.9 1234.8,1206.9 1240.8,1207.9 1246.8,1208.9 1252.8,1209.9 1258.8,1210.9 1264.8,1212.0 1270.8,1213.0 1276.8,1214.0 1282.8,1214.9 1288.8,1215.9 1294.8,1216.9 1300.8,1217.9 1306.8,1218.9 1312.8,1219.9 1318.8,1220.8 1324.8,1221.8 1330.8,1222.7 1336.8,1223.7 1342.8,1224.6 1348.8,1225.5 1354.8,1226.4 1360.8,1227.3 1366.8,1228.2 1372.8,1229.1 1378.8,1229.9 1384.8,1230.8 1390.8,1231.6 1396.8,1232.4 1402.8,1233.2 1408.8,1234.0 1414.8,1234.7 1420.8,1235.5 1426.8,1236.2 1432.8,1236.9 1438.8,1237.6 1444.8,1238.3 1450.8,1238.9 1456.8,1239.6 1462.8,1240.2 1468.8,1240.8 1474.8,1241.4 1480.8,1242.0 1486.8,1242.6 1492.8,1243.2 1498.8,1243.7 1504.8,1244.2 1510.8,1244.7 1516.8,1245.3 1522.8,1245.7 1528.8,1246.2 1534.8,1246.7 1540.8,1247.2 1546.7,1247.6 1552.7,1248.0 1558.7,1248.4 1564.7,1248.9 1570.7,1249.2 1576.7,1249.6 1582.7,1250.0 1588.7,1250.4 1594.7,1250.7 1600.7,1251.1 1606.7,1251.4 1612.7,1251.7 1618.7,1252.0 1624.7,1252.3 1630.7,1252.6 1636.7,1252.9 1642.7,1253.2 1648.7,1253.5 1654.7,1253.7 1660.7,1254.0 1666.7,1254.2 1672.7,1254.4 1678.7,1254.7 1684.7,1254.9 1690.7,1255.1 1696.7,1255.3 1702.7,1255.5 1708.7,1255.7 1714.7,1255.9 1720.7,1256.0 1726.7,1256.2 1732.7,1256.4 1738.7,1256.5 1744.7,1256.7 1750.7,1256.8 1756.7,1257.0 1762.7,1257.1 1768.7,1257.3 1774.7,1257.4 1780.7,1257.5 1786.7,1257.6 1792.7,1257.7 1798.7,1257.9 1804.7,1258.0 1810.7,1258.1 1816.7,1258.2 1822.7,1258.3 1828.7,1258.4 1834.7,1258.5 1840.7,1258.5 1846.7,1258.6 1852.7,1258.7 1858.7,1258.8 1864.7,1258.9 1870.7,1259.0 1876.7,1259.1 1882.7,1259.1 1888.7,1259.2 1894.7,1259.3 1900.7,1259.4 1906.7,1259.5 1912.7,1259.5 1918.7,1259.6 1924.7,1259.7 1930.7,1259.8 1936.7,1259.9 1942.7,1259.9 1948.7,1260.0" stroke="#e377c2"/>
<path d="M328.9,1277.8 334.9,1276.0 340.9,1274.3 346.9,1272.5 352.9,1270.8 358.9,1269.1 364.9,1267.3 370.9,1265.6 376.9,1263.9 382.9,1262.2 388.9,1260.5 394.9,1258.8 400.9,1257.2 406.9,1255.5 412.9,1253.9 418.9,1252.2 424.9,1250.6 430.9,1249.0 436.9,1247.5 442.9,1245.9 448.9,1244.4 454.9,1242.8 460.9,1241.4 466.9,1239.9 472.9,1238.4 478.9,1237.0 484.9,1235.6 490.9,1234.2 496.9,1232.9 502.9,1231.5 508.9,1230.2 514.9,1229.0 520.9,1227.7 526.9,1226.5 532.9,1225.3 538.9,1224.2 544.9,1223.0 550.9,1222.0 556.9,1220.9 562.9,1219.9 568.9,1218.9 574.9,1218.0 580.9,1217.0 586.9,1216.2 592.9,1215.3 598.9,1214.6 604.9,1213.8 610.9,1213.1 616.9,1212.4 622.9,1211.8 628.9,1211.2 634.9,1210.7 640.9,1210.2 646.9,1209.7 652.9,1209.3 658.9,1208.9 664.9,1208.5 670.9,1208.2 676.9,1207.9 682.9,1207.7 688.9,1207.4 694.9,1207.2 700.9,1207.1 706.9,1206.9 712.9,1206.8 718.9,1206.6 724.9,1206.5 730.9,1206.5 736.8,1206.4 742.8,1206.4 748.8,1206.3 754.8,1206.3 760.8,1206.3 766.8,1206.3 772.8,1206.3 778.8,1206.3 784.8,1206.3 790.8,1206.3 796.8,1206.3 802.8,1206.4 808.8,1206.4 814.8,1206.4 820.8,1206.4 826.8,1206.4 832.8,1206.4 838.8,1206.4 844.8,1206.3 850.8,1206.3 856.8,1206.3 862.8,1206.2 868.8,1206.2 874.8,1206.2 880.8,1206.1 886.8,1206.1 892.8,1206.0 898.8,1206.0 904.8,1206.0 910.8,1206.0 916.8,1205.9 922.8,1205.9 928.8,1205.9 934.8,1205.9 940.8,1205.9 946.8,1206.0 952.8,1206.0 958.8,1206.1 964.8,1206.2 970.8,1206.3 976.8,1206.4 982.8,1206.5 988.8,1206.7 994.8,1206.8 1000.8,1207.0 1006.8,1207.2 1012.8,1207.5 1018.8,1207.8 1024.8,1208.1 1030.8,1208.4 1036.8,1208.7 1042.8,1209.1 1048.8,1209.5 1054.8,1210.0 1060.8,1210.5 1066.8,1211.0 1072.8,1211.6 1078.8,1212.2 1084.8,1212.8 1090.8,1213.4 1096.8,1214.1 1102.8,1214.8 1108.8,1215.6 1114.8,1216.3 1120.8,1217.1 1126.8,1217.9 1132.8,1218.8 1138.8,1219.6 1144.8,1220.5 1150.8,1221.3 1156.8,1222.2 1162.8,1223.1 1168.8,1224.0 1174.8,1224.9 1180.8,1225.8 1186.8,1226.8 1192.8,1227.7 1198.8,1228.6 1204.8,1229.5 1210.8,1230.4 1216.8,1231.3 1222.8,1232.2 1228.8,1233.1 1234.8,1234.0 1240.8,1234.8 1246.8,1235.7 1252.8,1236.5 1258.8,1237.4 1264.8,1238.2 1270.8,1239.0 1276.8,1239.8 1282.8,1240.6 1288.8,1241.4 1294.8,1242.1 1300.8,1242.9 1306.8,1243.6 1312.8,1244.3 1318.8,1245.1 1324.8,1245.8 1330.8,1246.4 1336.8,1247.1 1342.8,1247.8 1348.8,1248.4 1354.8,1249.1 1360.8,1249.7 1366.8,1250.3 1372.8,1250.9 1378.8,1251.5 1384.8,1252.1 1390.8,1252.7 1396.8,1253.2 1402.8,1253.8 1408.8,1254.3 1414.8,1254.8 1420.8,1255.3 1426.8,1255.8 1432.8,1256.3 1438.8,1256.8 1444.8,1257.2 1450.8,1257.7 1456.8,1258.1 1462.8,1258.6 1468.8,1259.0 1474.8,1259.4 1480.8,1259.8 1486.8,1260.1 1492.8,1260.5 1498.8,1260.9 1504.8,1261.2 1510.8,1261.6 1516.8,1261.9 1522.8,1262.2 1528.8,1262.6 1534.8,1262.9 1540.8,1263.2 1546.7,1263.4 1552.7,1263.7 1558.7,1264.0 1564.7,1264.3 1570.7,1264.5 1576.7,1264.8 1582.7,1265.0 1588.7,1265.2 1594.7,1265.5 1600.7,1265.7 1606.7,1265.9 1612.7,1266.1 1618.7,1266.3 1624.7,1266.5 1630.7,1266.7 1636.7,1266.8 1642.7,1267.0 1648.7,1267.2 1654.7,1267.3 1660.7,1267.5 1666.7,1267.6 1672.7,1267.7 1678.7,1267.9 1684.7,1268.0 1690.7,1268.1 1696.7,1268.3 1702.7,1268.4 1708.7,1268.5 1714.7,1268.6 1720.7,1268.7 1726.7,1268.8 1732.7,1268.9 1738.7,1269.0 1744.7,1269.0 1750.7,1269.1 1756.7,1269.2 1762.7,1269.3 1768.7,1269.3 1774.7,1269.4 1780.7,1269.5 1786.7,1269.5 1792.7,1269.6 1798.7,1269.7 1804.7,1269.7 1810.7,1269.8 1816.7,1269.8 1822.7,1269.9 1828.7,1269.9 1834.7,1270.0 1840.7,1270.0 1846.7,1270.1 1852.7,1270.1 1858.7,1270.2 1864.7,1270.2 1870.7,1270.2 1876.7,1270.3 1882.7,1270.3 1888.7,1270.4 1894.7,1270.4 1900.7,1270.5 1906.7,1270.5 1912.7,1270.5 1918.7,1270.6 1924.7,1270.6 1930.7,1270.7 1936.7,1270.7 1942.7,1270.8 1948.7,1270.8" stroke="#7f7f7f"/>
<path d="M328.9,1304.8 334.9,1304.0 340.9,1303.3 346.9,1302.6 352.9,1301.9 358.9,1301.3 364.9,1300.6 370.9,1299.9 376.9,1299.3 382.9,1298.6 388.9,1298.0 394.9,1297.4 400.9,1296.8 406.9,1296.2 412.9,1295.6 418.9,1295.1 424.9,1294.5 430.9,1293.9 436.9,1293.4 442.9,1292.9 448.9,1292.3 454.9,1291.8 460.9,1291.3 466.9,1290.8 472.9,1290.3 478.9,1289.9 484.9,1289.4 490.9,1288.9 496.9,1288.5 502.9,1288.1 508.9,1287.6 514.9,1287.2 520.9,1286.8 526.9,1286.4 532.9,1286.0 538.9,1285.6 544.9,1285.3 550.9,1284.9 556.9,1284.5 562.9,1284.2 568.9,1283.9 574.9,1283.5 580.9,1283.2 586.9,1282.9 592.9,1282.6 598.9,1282.3 604.9,1282.0 610.9,1281.7 616.9,1281.4 622.9,1281.2 628.9,1280.9 634.9,1280.7 640.9,1280.4 646.9,1280.2 652.9,1280.0 658.9,1279.8 664.9,1279.5 670.9,1279.3 676.9,1279.1 682.9,1279.0 688.9,1278.8 694.9,1278.6 700.9,1278.4 706.9,1278.3 712.9,1278.1 718.9,1278.0 724.9,1277.8 730.9,1277.7 736.8,1277.6 742.8,1277.4 748.8,1277.3 754.8,1277.2 760.8,1277.1 766.8,1277.0 772.8,1276.9 778.8,1276.9 784.8,1276.8 790.8,1276.7 796.8,1276.6 802.8,1276.6 808.8,1276.5 814.8,1276.5 820.8,1276.4 826.8,1276.4 832.8,1276.4 838.8,1276.4 844.8,1276.3 850.8,1276.3 856.8,1276.3 862.8,1276.3 868.8,1276.3 874.8,1276.3 880.8,1276.3 886.8,1276.4 892.8,1276.4 898.8,1276.4 904.8,1276.4 910.8,1276.5 916.8,1276.5 922.8,1276.5 928.8,1276.6 934.8,1276.7 940.8,1276.7 946.8,1276.8 952.8,1276.8 958.8,1276.9 964.8,1277.0 970.8,1277.1 976.8,1277.1 982.8,1277.2 988.8,1277.3 994.8,1277.4 1000.8,1277.5 1006.8,1277.6 1012.8,1277.7 1018.8,1277.8 1024.8,1277.9 1030.8,1278.0 1036.8,1278.2 1042.8,1278.3 1048.8,1278.4 1054.8,1278.5 1060.8,1278.7 1066.8,1278.8 1072.8,1278.9 1078.8,1279.1 1084.8,1279.2 1090.8,1279.3 1096.8,1279.5 1102.8,1279.6 1108.8,1279.8 1114.8,1279.9 1120.8,1280.1 1126.8,1280.2 1132.8,1280.4 1138.8,1280.6 1144.8,1280.7 1150.8,1280.9 1156.8,1281.1 1162.8,1281.2 1168.8,1281.4 1174.8,1281.6 1180.8,1281.7 1186.8,1281.9 1192.8,1282.1 1198.8,1282.3 1204.8,1282.4 1210.8,1282.6 1216.8,1282.8 1222.8,1283.0 1228.8,1283.2 1234.8,1283.3 1240.8,1283.5 1246.8,1283.7 1252.8,1283.9 1258.8,1284.1 1264.8,1284.3 1270.8,1284.5 1276.8,1284.7 1282.8,1284.8 1288.8,1285.0 1294.8,1285.2 1300.8,1285.4 1306.8,1285.6 1312.8,1285.8 1318.8,1286.0 1324.8,1286.2 1330.8,1286.3 1336.8,1286.5 1342.8,1286.7 1348.8,1286.9 1354.8,1287.1 1360.8,1287.3 1366.8,1287.5 1372.8,1287.7 1378.8,1287.8 1384.8,1288.0 1390.8,1288.2 1396.8,1288.4 1402.8,1288.6 1408.8,1288.7 1414.8,1288.9 1420.8,1289.1 1426.8,1289.3 1432.8,1289.4 1438.8,1289.6 1444.8,1289.8 1450.8,1290.0 1456.8,1290.1 1462.8,1290.3 1468.8,1290.5 1474.8,1290.6 1480.8,1290.8 1486.8,1290.9 1492.8,1291.1 1498.8,1291.3 1504.8,1291.4 1510.8,1291.6 1516.8,1291.7 1522.8,1291.8 1528.8,1292.0 1534.8,1292.1 1540.8,1292.3 1546.7,1292.4 1552.7,1292.5 1558.7,1292.7 1564.7,1292.8 1570.7,1292.9 1576.7,1293.0 1582.7,1293.1 1588.7,1293.3 1594.7,1293.4 1600.7,1293.5 1606.7,1293.6 1612.7,1293.7 1618.7,1293.8 1624.7,1293.9 1630.7,1294.0 1636.7,1294.1 1642.7,1294.1 1648.7,1294.2 1654.7,1294.3 1660.7,1294.4 1666.7,1294.4 1672.7,1294.5 1678.7,1294.5 1684.7,1294.6 1690.7,1294.6 1696.7,1294.7 1702.7,1294.7 1708.7,1294.8 1714.7,1294.8 1720.7,1294.8 1726.7,1294.9 1732.7,1294.9 1738.7,1294.9 1744.7,1294.9 1750.7,1294.9 1756.7,1294.9 1762.7,1294.9 1768.7,1294.9 1774.7,1294.8 1780.7,1294.8 1786.7,1294.8 1792.7,1294.8 1798.7,1294.7 1804.7,1294.7 1810.7,1294.6 1816.7,1294.6 1822.7,1294.5 1828.7,1294.4 1834.7,1294.4 1840.7,1294.3 1846.7,1294.2 1852.7,1294.1 1858.7,1294.0 1864.7,1293.9 1870.7,1293.8 1876.7,1293.7 1882.7,1293.5 1888.7,1293.4 1894.7,1293.3 1900.7,1293.1 1906.7,1293.0 1912.7,1292.8 1918.7,1292.6 1924.7,1292.5 1930.7,1292.3 1936.7,1292.1 1942.7,1291.9 1948.7,1291.7" stroke="#bcbd22"/>
<path d="M328.9,1317.2 334.9,1316.2 340.9,1315.2 346.9,1314.2 352.9,1313.2 358.9,1312.2 364.9,1311.3 370.9,1310.3 376.9,1309.4 382.9,1308.5 388.9,1307.6 394.9,1306.7 400.9,1305.9 406.9,1305.0 412.9,1304.2 418.9,1303.4 424.9,1302.6 430.9,1301.8 436.9,1301.0 442.9,1300.2 448.9,1299.5 454.9,1298.8 460.9,1298.0 466.9,1297.3 472.9,1296.6 478.9,1296.0 484.9,1295.3 490.9,1294.7 496.9,1294.0 502.9,1293.4 508.9,1292.8 514.9,1292.2 520.9,1291.6 526.9,1291.0 532.9,1290.5 538.9,1289.9 544.9,1289.4 550.9,1288.8 556.9,1288.3 562.9,1287.8 568.9,1287.3 574.9,1286.9 580.9,1286.4 586.9,1286.0 592.9,1285.5 598.9,1285.1 604.9,1284.7 610.9,1284.3 616.9,1283.9 622.9,1283.5 628.9,1283.1 634.9,1282.8 640.9,1282.4 646.9,1282.1 652.9,1281.7 658.9,1281.4 664.9,1281.1 670.9,1280.8 676.9,1280.5 682.9,1280.2 688.9,1280.0 694.9,1279.7 700.9,1279.5 706.9,1279.2 712.9,1279.0 718.9,1278.8 724.9,1278.6 730.9,1278.4 736.8,1278.2 742.8,1278.0 748.8,1277.8 754.8,1277.7 760.8,1277.5 766.8,1277.4 772.8,1277.2 778.8,1277.1 784.8,1277.0 790.8,1276.9 796.8,1276.8 802.8,1276.7 808.8,1276.6 814.8,1276.5 820.8,1276.5 826.8,1276.4 832.8,1276.3 838.8,1276.3 844.8,1276.3 850.8,1276.2 856.8,1276.2 862.8,1276.2 868.8,1276.2 874.8,1276.2 880.8,1276.2 886.8,1276.2 892.8,1276.2 898.8,1276.2 904.8,1276.3 910.8,1276.3 916.8,1276.3 922.8,1276.4 928.8,1276.4 934.8,1276.5 940.8,1276.6 946.8,1276.6 952.8,1276.7 958.8,1276.8 964.8,1276.9 970.8,1277.0 976.8,1277.1 982.8,1277.2 988.8,1277.3 994.8,1277.4 1000.8,1277.6 1006.8,1277.7 1012.8,1277.8 1018.8,1278.0 1024.8,1278.1 1030.8,1278.2 1036.8,1278.4 1042.8,1278.6 1048.8,1278.7 1054.8,1278.9 1060.8,1279.0 1066.8,1279.2 1072.8,1279.4 1078.8,1279.6 1084.8,1279.8 1090.8,1279.9 1096.8,1280.1 1102.8,1280.3 1108.8,1280.5 1114.8,1280.7 1120.8,1280.9 1126.8,1281.1 1132.8,1281.3 1138.8,1281.5 1144.8,1281.8 1150.8,1282.0 1156.8,1282.2 1162.8,1282.4 1168.8,1282.6 1174.8,1282.9 1180.8,1283.1 1186.8,1283.3 1192.8,1283.5 1198.8,1283.8 1204.8,1284.0 1210.8,1284.2 1216.8,1284.5 1222.8,1284.7 1228.8,1285.0 1234.8,1285.2 1240.8,1285.5 1246.8,1285.7 1252.8,1285.9 1258.8,1286.2 1264.8,1286.4 1270.8,1286.7 1276.8,1286.9 1282.8,1287.2 1288.8,1287.4 1294.8,1287.7 1300.8,1287.9 1306.8,1288.2 1312.8,1288.4 1318.8,1288.7 1324.8,1288.9 1330.8,1289.2 1336.8,1289.4 1342.8,1289.6 1348.8,1289.9 1354.8,1290.1 1360.8,1290.4 1366.8,1290.6 1372.8,1290.9 1378.8,1291.1 1384.8,1291.3 1390.8,1291.6 1396.8,1291.8 1402.8,1292.1 1408.8,1292.3 1414.8,1292.5 1420.8,1292.7 1426.8,1293.0 1432.8,1293.2 1438.8,1293.4 1444.8,1293.6 1450.8,1293.9 1456.8,1294.1 1462.8,1294.3 1468.8,1294.5 1474.8,1294.7 1480.8,1294.9 1486.8,1295.1 1492.8,1295.3 1498.8,1295.5 1504.8,1295.7 1510.8,1295.9 1516.8,1296.1 1522.8,1296.3 1528.8,1296.5 1534.8,1296.6 1540.8,1296.8 1546.7,1297.0 1552.7,1297.1 1558.7,1297.3 1564.7,1297.5 1570.7,1297.6 1576.7,1297.7 1582.7,1297.9 1588.7,1298.0 1594.7,1298.2 1600.7,1298.3 1606.7,1298.4 1612.7,1298.5 1618.7,1298.6 1624.7,1298.8 1630.7,1298.9 1636.7,1299.0 1642.7,1299.1 1648.7,1299.1 1654.7,1299.2 1660.7,1299.3 1666.7,1299.4 1672.7,1299.4 1678.7,1299.5 1684.7,1299.5 1690.7,1299.6 1696.7,1299.6 1702.7,1299.7 1708.7,1299.7 1714.7,1299.7 1720.7,1299.7 1726.7,1299.7 1732.7,1299.7 1738.7,1299.7 1744.7,1299.7 1750.7,1299.7 1756.7,1299.6 1762.7,1299.6 1768.7,1299.6 1774.7,1299.5 1780.7,1299.4 1786.7,1299.4 1792.7,1299.3 1798.7,1299.2 1804.7,1299.1 1810.7,1299.0 1816.7,1298.9 1822.7,1298.8 1828.7,1298.7 1834.7,1298.5 1840.7,1298.4 1846.7,1298.2 1852.7,1298.1 1858.7,1297.9 1864.7,1297.7 1870.7,1297.5 1876.7,1297.3 1882.7,1297.1 1888.7,1296.9 1894.7,1296.7 1900.7,1296.5 1906.7,1296.2 1912.7,1296.0 1918.7,1295.7 1924.7,1295.4 1930.7,1295.1 1936.7,1294.8 1942.7,1294.5 1948.7,1294.2" stroke="#17becf"/>
<path d="M328.9,1295.3 334.9,1294.8 340.9,1294.3 346.9,1293.8 352.9,1293.3 358.9,1292.8 364.9,1292.3 370.9,1291.8 376.9,1291.3 382.9,1290.7 388.9,1290.2 394.9,1289.7 400.9,1289.1 406.9,1288.6 412.9,1288.1 418.9,1287.5 424.9,1287.0 430.9,1286.5 436.9,1285.9 442.9,1285.4 448.9,1284.9 454.9,1284.3 460.9,1283.8 466.9,1283.3 472.9,1282.7 478.9,1282.2 484.9,1281.7 490.9,1281.2 496.9,1280.7 502.9,1280.2 508.9,1279.7 514.9,1279.2 520.9,1278.7 526.9,1278.3 532.9,1277.8 538.9,1277.4 544.9,1276.9 550.9,1276.5 556.9,1276.0 562.9,1275.6 568.9,1275.2 574.9,1274.8 580.9,1274.5 586.9,1274.1 592.9,1273.7 598.9,1273.4 604.9,1273.1 610.9,1272.7 616.9,1272.4 622.9,1272.2 628.9,1271.9 634.9,1271.6 640.9,1271.4 646.9,1271.2 652.9,1271.0 658.9,1270.8 664.9,1270.6 670.9,1270.4 676.9,1270.3 682.9,1270.1 688.9,1270.0 694.9,1269.9 700.9,1269.8 706.9,1269.7 712.9,1269.6 718.9,1269.6 724.9,1269.5 730.9,1269.5 736.8,1269.5 742.8,1269.4 748.8,1269.4 754.8,1269.4 760.8,1269.4 766.8,1269.4 772.8,1269.5 778.8,1269.5 784.8,1269.6 790.8,1269.6 796.8,1269.7 802.8,1269.7 808.8,1269.8 814.8,1269.9 820.8,1270.0 826.8,1270.1 832.8,1270.2 838.8,1270.3 844.8,1270.4 850.8,1270.5 856.8,1270.6 862.8,1270.8 868.8,1270.9 874.8,1271.0 880.8,1271.2 886.8,1271.3 892.8,1271.5 898.8,1271.6 904.8,1271.8 910.8,1271.9 916.8,1272.1 922.8,1272.3 928.8,1272.4 934.8,1272.6 940.8,1272.7 946.8,1272.9 952.8,1273.1 958.8,1273.2 964.8,1273.4 970.8,1273.6 976.8,1273.8 982.8,1273.9 988.8,1274.1 994.8,1274.3 1000.8,1274.5 1006.8,1274.6 1012.8,1274.8 1018.8,1275.0 1024.8,1275.2 1030.8,1275.4 1036.8,1275.5 1042.8,1275.7 1048.8,1275.9 1054.8,1276.1 1060.8,1276.3 1066.8,1276.5 1072.8,1276.6 1078.8,1276.8 1084.8,1277.0 1090.8,1277.2 1096.8,1277.4 1102.8,1277.6 1108.8,1277.8 1114.8,1278.0 1120.8,1278.2 1126.8,1278.3 1132.8,1278.5 1138.8,1278.7 1144.8,1278.9 1150.8,1279.1 1156.8,1279.3 1162.8,1279.5 1168.8,1279.7 1174.8,1279.9 1180.8,1280.1 1186.8,1280.3 1192.8,1280.5 1198.8,1280.7 1204.8,1280.9 1210.8,1281.1 1216.8,1281.3 1222.8,1281.5 1228.8,1281.6 1234.8,1281.8 1240.8,1282.0 1246.8,1282.2 1252.8,1282.4 1258.8,1282.6 1264.8,1282.8 1270.8,1283.0 1276.8,1283.2 1282.8,1283.4 1288.8,1283.6 1294.8,1283.8 1300.8,1284.0 1306.8,1284.2 1312.8,1284.4 1318.8,1284.6 1324.8,1284.8 1330.8,1285.0 1336.8,1285.2 1342.8,1285.4 1348.8,1285.5 1354.8,1285.7 1360.8,1285.9 1366.8,1286.1 1372.8,1286.3 1378.8,1286.5 1384.8,1286.7 1390.8,1286.9 1396.8,1287.1 1402.8,1287.3 1408.8,1287.4 1414.8,1287.6 1420.8,1287.8 1426.8,1288.0 1432.8,1288.2 1438.8,1288.4 1444.8,1288.5 1450.8,1288.7 1456.8,1288.9 1462.8,1289.1 1468.8,1289.3 1474.8,1289.4 1480.8,1289.6 1486.8,1289.8 1492.8,1290.0 1498.8,1290.1 1504.8,1290.3 1510.8,1290.5 1516.8,1290.7 1522.8,1290.8 1528.8,1291.0 1534.8,1291.2 1540.8,1291.3 1546.7,1291.5 1552.7,1291.7 1558.7,1291.8 1564.7,1292.0 1570.7,1292.1 1576.7,1292.3 1582.7,1292.4 1588.7,1292.6 1594.7,1292.8 1600.7,1292.9 1606.7,1293.1 1612.7,1293.2 1618.7,1293.3 1624.7,1293.5 1630.7,1293.6 1636.7,1293.8 1642.7,1293.9 1648.7,1294.1 1654.7,1294.2 1660.7,1294.3 1666.7,1294.5 1672.7,1294.6 1678.7,1294.7 1684.7,1294.9 1690.7,1295.0 1696.7,1295.1 1702.7,1295.2 1708.7,1295.3 1714.7,1295.5 1720.7,1295.6 1726.7,1295.7 1732.7,1295.8 1738.7,1295.9 1744.7,1296.0 1750.7,1296.1 1756.7,1296.2 1762.7,1296.3 1768.7,1296.4 1774.7,1296.5 1780.7,1296.6 1786.7,1296.7 1792.7,1296.8 1798.7,1296.9 1804.7,1297.0 1810.7,1297.1 1816.7,1297.2 1822.7,1297.2 1828.7,1297.3 1834.7,1297.4 1840.7,1297.5 1846.7,1297.5 1852.7,1297.6 1858.7,1297.7 1864.7,1297.7 1870.7,1297.8 1876.7,1297.8 1882.7,1297.9 1888.7,1297.9 1894.7,1298.0 1900.7,1298.0 1906.7,1298.1 1912.7,1298.1 1918.7,1298.1 1924.7,1298.2 1930.7,1298.2 1936.7,1298.2 1942.7,1298.3 1948.7,1298.3" stroke="#1f77b4"/>
<path d="M328.9,1254.0 334.9,1253.7 340.9,1253.5 346.9,1253.3 352.9,1253.0 358.9,1252.8 364.9,1252.6 370.9,1252.4 376.9,1252.2 382.9,1252.0 388.9,1251.8 394.9,1251.6 400.9,1251.5 406.9,1251.3 412.9,1251.1 418.9,1251.0 424.9,1250.8 430.9,1250.7 436.9,1250.5 442.9,1250.4 448.9,1250.3 454.9,1250.1 460.9,1250.0 466.9,1249.9 472.9,1249.8 478.9,1249.7 484.9,1249.6 490.9,1249.5 496.9,1249.4 502.9,1249.3 508.9,1249.3 514.9,1249.2 520.9,1249.1 526.9,1249.1 532.9,1249.0 538.9,1248.9 544.9,1248.9 550.9,1248.9 556.9,1248.8 562.9,1248.8 568.9,1248.7 574.9,1248.7 580.9,1248.7 586.9,1248.7 592.9,1248.7 598.9,1248.7 604.9,1248.7 610.9,1248.7 616.9,1248.7 622.9,1248.7 628.9,1248.7 634.9,1248.7 640.9,1248.7 646.9,1248.8 652.9,1248.8 658.9,1248.8 664.9,1248.9 670.9,1248.9 676.9,1248.9 682.9,1249.0 688.9,1249.0 694.9,1249.1 700.9,1249.1 706.9,1249.2 712.9,1249.3 718.9,1249.3 724.9,1249.4 730.9,1249.5 736.8,1249.6 742.8,1249.7 748.8,1249.7 754.8,1249.8 760.8,1249.9 766.8,1250.0 772.8,1250.1 778.8,1250.2 784.8,1250.3 790.8,1250.4 796.8,1250.5 802.8,1250.7 808.8,1250.8 814.8,1250.9 820.8,1251.0 826.8,1251.1 832.8,1251.3 838.8,1251.4 844.8,1251.5 850.8,1251.6 856.8,1251.8 862.8,1251.9 868.8,1252.1 874.8,1252.2 880.8,1252.4 886.8,1252.5 892.8,1252.6 898.8,1252.8 904.8,1253.0 910.8,1253.1 916.8,1253.3 922.8,1253.4 928.8,1253.6 934.8,1253.7 940.8,1253.9 946.8,1254.1 952.8,1254.2 958.8,1254.4 964.8,1254.6 970.8,1254.8 976.8,1254.9 982.8,1255.1 988.8,1255.3 994.8,1255.5 1000.8,1255.6 1006.8,1255.8 1012.8,1256.0 1018.8,1256.2 1024.8,1256.4 1030.8,1256.6 1036.8,1256.7 1042.8,1256.9 1048.8,1257.1 1054.8,1257.3 1060.8,1257.5 1066.8,1257.7 1072.8,1257.9 1078.8,1258.1 1084.8,1258.3 1090.8,1258.5 1096.8,1258.7 1102.8,1258.9 1108.8,1259.1 1114.8,1259.2 1120.8,1259.4 1126.8,1259.6 1132.8,1259.8 1138.8,1260.0 1144.8,1260.2 1150.8,1260.4 1156.8,1260.6 1162.8,1260.8 1168.8,1261.0 1174.8,1261.2 1180.8,1261.4 1186.8,1261.6 1192.8,1261.8 1198.8,1262.0 1204.8,1262.2 1210.8,1262.4 1216.8,1262.6 1222.8,1262.8 1228.8,1263.0 1234.8,1263.2 1240.8,1263.4 1246.8,1263.6 1252.8,1263.8 1258.8,1264.0 1264.8,1264.2 1270.8,1264.4 1276.8,1264.6 1282.8,1264.8 1288.8,1265.0 1294.8,1265.2 1300.8,1265.4 1306.8,1265.6 1312.8,1265.8 1318.8,1266.0 1324.8,1266.2 1330.8,1266.4 1336.8,1266.6 1342.8,1266.8 1348.8,1267.0 1354.8,1267.2 1360.8,1267.4 1366.8,1267.6 1372.8,1267.8 1378.8,1268.0 1384.8,1268.2 1390.8,1268.4 1396.8,1268.6 1402.8,1268.8 1408.8,1269.0 1414.8,1269.1 1420.8,1269.3 1426.8,1269.5 1432.8,1269.7 1438.8,1269.9 1444.8,1270.1 1450.8,1270.3 1456.8,1270.4 1462.8,1270.6 1468.8,1270.8 1474.8,1271.0 1480.8,1271.2 1486.8,1271.4 1492.8,1271.5 1498.8,1271.7 1504.8,1271.9 1510.8,1272.1 1516.8,1272.2 1522.8,1272.4 1528.8,1272.6 1534.8,1272.7 1540.8,1272.9 1546.7,1273.1 1552.7,1273.2 1558.7,1273.4 1564.7,1273.6 1570.7,1273.7 1576.7,1273.9 1582.7,1274.1 1588.7,1274.2 1594.7,1274.4 1600.7,1274.5 1606.7,1274.7 1612.7,1274.8 1618.7,1275.0 1624.7,1275.1 1630.7,1275.3 1636.7,1275.4 1642.7,1275.6 1648.7,1275.7 1654.7,1275.9 1660.7,1276.0 1666.7,1276.1 1672.7,1276.3 1678.7,1276.4 1684.7,1276.5 1690.7,1276.7 1696.7,1276.8 1702.7,1276.9 1708.7,1277.0 1714.7,1277.2 1720.7,1277.3 1726.7,1277.4 1732.7,1277.5 1738.7,1277.6 1744.7,1277.7 1750.7,1277.8 1756.7,1278.0 1762.7,1278.1 1768.7,1278.2 1774.7,1278.3 1780.7,1278.4 1786.7,1278.5 1792.7,1278.6 1798.7,1278.7 1804.7,1278.7 1810.7,1278.8 1816.7,1278.9 1822.7,1279.0 1828.7,1279.1 1834.7,1279.2 1840.7,1279.2 1846.7,1279.3 1852.7,1279.4 1858.7,1279.4 1864.7,1279.5 1870.7,1279.6 1876.7,1279.6 1882.7,1279.7 1888.7,1279.7 1894.7,1279.8 1900.7,1279.8 1906.7,1279.9 1912.7,1279.9 1918.7,1280.0 1924.7,1280.0 1930.7,1280.1 1936.7,1280.1 1942.7,1280.1 1948.7,1280.1" stroke="#ff7f0e"/>
<path d="M328.9,1287.5 334.9,1287.3 340.9,1287.2 346.9,1287.1 352.9,1287.0 358.9,1286.9 364.9,1286.8 370.9,1286.7 376.9,1286.6 382.9,1286.6 388.9,1286.5 394.9,1286.4 400.9,1286.3 406.9,1286.3 412.9,1286.2 418.9,1286.1 424.9,1286.1 430.9,1286.0 436.9,1286.0 442.9,1285.9 448.9,1285.9 454.9,1285.9 460.9,1285.8 466.9,1285.8 472.9,1285.8 478.9,1285.8 484.9,1285.8 490.9,1285.7 496.9,1285.7 502.9,1285.7 508.9,1285.7 514.9,1285.7 520.9,1285.7 526.9,1285.7 532.9,1285.8 538.9,1285.8 544.9,1285.8 550.9,1285.8 556.9,1285.8 562.9,1285.9 568.9,1285.9 574.9,1285.9 580.9,1286.0 586.9,1286.0 592.9,1286.1 598.9,1286.1 604.9,1286.2 610.9,1286.2 616.9,1286.3 622.9,1286.3 628.9,1286.4 634.9,1286.5 640.9,1286.5 646.9,1286.6 652.9,1286.7 658.9,1286.8 664.9,1286.8 670.9,1286.9 676.9,1287.0 682.9,1287.1 688.9,1287.2 694.9,1287.3 700.9,1287.4 706.9,1287.5 712.9,1287.6 718.9,1287.7 724.9,1287.8 730.9,1287.9 736.8,1288.0 742.8,1288.1 748.8,1288.2 754.8,1288.4 760.8,1288.5 766.8,1288.6 772.8,1288.7 778.8,1288.9 784.8,1289.0 790.8,1289.1 796.8,1289.2 802.8,1289.4 808.8,1289.5 814.8,1289.7 820.8,1289.8 826.8,1289.9 832.8,1290.1 838.8,1290.2 844.8,1290.4 850.8,1290.5 856.8,1290.7 862.8,1290.8 868.8,1291.0 874.8,1291.2 880.8,1291.3 886.8,1291.5 892.8,1291.6 898.8,1291.8 904.8,1292.0 910.8,1292.1 916.8,1292.3 922.8,1292.5 928.8,1292.6 934.8,1292.8 940.8,1293.0 946.8,1293.2 952.8,1293.3 958.8,1293.5 964.8,1293.7 970.8,1293.9 976.8,1294.0 982.8,1294.2 988.8,1294.4 994.8,1294.6 1000.8,1294.8 1006.8,1295.0 1012.8,1295.1 1018.8,1295.3 1024.8,1295.5 1030.8,1295.7 1036.8,1295.9 1042.8,1296.1 1048.8,1296.3 1054.8,1296.5 1060.8,1296.7 1066.8,1296.9 1072.8,1297.1 1078.8,1297.3 1084.8,1297.4 1090.8,1297.6 1096.8,1297.8 1102.8,1298.0 1108.8,1298.2 1114.8,1298.4 1120.8,1298.6 1126.8,1298.8 1132.8,1299.0 1138.8,1299.2 1144.8,1299.4 1150.8,1299.6 1156.8,1299.8 1162.8,1300.0 1168.8,1300.2 1174.8,1300.4 1180.8,1300.6 1186.8,1300.8 1192.8,1301.0 1198.8,1301.2 1204.8,1301.4 1210.8,1301.6 1216.8,1301.8 1222.8,1302.0 1228.8,1302.2 1234.8,1302.4 1240.8,1302.6 1246.8,1302.8 1252.8,1303.0 1258.8,1303.2 1264.8,1303.4 1270.8,1303.6 1276.8,1303.8 1282.8,1304.0 1288.8,1304.2 1294.8,1304.4 1300.8,1304.6 1306.8,1304.8 1312.8,1305.0 1318.8,1305.2 1324.8,1305.4 1330.8,1305.6 1336.8,1305.8 1342.8,1306.0 1348.8,1306.2 1354.8,1306.4 1360.8,1306.6 1366.8,1306.8 1372.8,1307.0 1378.8,1307.2 1384.8,1307.3 1390.8,1307.5 1396.8,1307.7 1402.8,1307.9 1408.8,1308.1 1414.8,1308.3 1420.8,1308.5 1426.8,1308.6 1432.8,1308.8 1438.8,1309.0 1444.8,1309.2 1450.8,1309.4 1456.8,1309.5 1462.8,1309.7 1468.8,1309.9 1474.8,1310.1 1480.8,1310.2 1486.8,1310.4 1492.8,1310.6 1498.8,1310.7 1504.8,1310.9 1510.8,1311.1 1516.8,1311.2 1522.8,1311.4 1528.8,1311.6 1534.8,1311.7 1540.8,1311.9 1546.7,1312.0 1552.7,1312.2 1558.7,1312.3 1564.7,1312.5 1570.7,1312.6 1576.7,1312.8 1582.7,1312.9 1588.7,1313.1 1594.7,1313.2 1600.7,1313.4 1606.7,1313.5 1612.7,1313.6 1618.7,1313.8 1624.7,1313.9 1630.7,1314.1 1636.7,1314.2 1642.7,1314.3 1648.7,1314.4 1654.7,1314.6 1660.7,1314.7 1666.7,1314.8 1672.7,1314.9 1678.7,1315.0 1684.7,1315.1 1690.7,1315.3 1696.7,1315.4 1702.7,1315.5 1708.7,1315.6 1714.7,1315.7 1720.7,1315.8 1726.7,1315.9 1732.7,1316.0 1738.7,1316.1 1744.7,1316.2 1750.7,1316.2 1756.7,1316.3 1762.7,1316.4 1768.7,1316.5 1774.7,1316.6 1780.7,1316.6 1786.7,1316.7 1792.7,1316.8 1798.7,1316.8 1804.7,1316.9 1810.7,1317.0 1816.7,1317.0 1822.7,1317.1 1828.7,1317.1 1834.7,1317.2 1840.7,1317.2 1846.7,1317.3 1852.7,1317.3 1858.7,1317.3 1864.7,1317.4 1870.7,1317.4 1876.7,1317.4 1882.7,1317.5 1888.7,1317.5 1894.7,1317.5 1900.7,1317.5 1906.7,1317.5 1912.7,1317.5 1918.7,1317.5 1924.7,1317.5 1930.7,1317.5 1936.7,1317.5 1942.7,1317.5 1948.7,1317.5" stroke="#2ca02c"/>
<path d="M328.9,1280.0 334.9,1279.9 340.9,1279.7 346.9,1279.6 352.9,1279.5 358.9,1279.4 364.9,1279.3 370.9,1279.2 376.9,1279.2 382.9,1279.1 388.9,1279.0 394.9,1278.9 400.9,1278.9 406.9,1278.8 412.9,1278.8 418.9,1278.7 424.9,1278.7 430.9,1278.7 436.9,1278.6 442.9,1278.6 448.9,1278.6 454.9,1278.6 460.9,1278.6 466.9,1278.6 472.9,1278.6 478.9,1278.6 484.9,1278.6 490.9,1278.7 496.9,1278.7 502.9,1278.7 508.9,1278.8 514.9,1278.8 520.9,1278.9 526.9,1278.9 532.9,1279.0 538.9,1279.0 544.9,1279.1 550.9,1279.2 556.9,1279.2 562.9,1279.3 568.9,1279.4 574.9,1279.5 580.9,1279.6 586.9,1279.7 592.9,1279.8 598.9,1279.9 604.9,1280.0 610.9,1280.1 616.9,1280.2 622.9,1280.3 628.9,1280.4 634.9,1280.6 640.9,1280.7 646.9,1280.8 652.9,1281.0 658.9,1281.1 664.9,1281.2 670.9,1281.4 676.9,1281.5 682.9,1281.7 688.9,1281.8 694.9,1282.0 700.9,1282.2 706.9,1282.3 712.9,1282.5 718.9,1282.6 724.9,1282.8 730.9,1283.0 736.8,1283.2 742.8,1283.3 748.8,1283.5 754.8,1283.7 760.8,1283.9 766.8,1284.1 772.8,1284.3 778.8,1284.5 784.8,1284.7 790.8,1284.8 796.8,1285.0 802.8,1285.2 808.8,1285.4 814.8,1285.6 820.8,1285.8 826.8,1286.1 832.8,1286.3 838.8,1286.5 844.8,1286.7 850.8,1286.9 856.8,1287.1 862.8,1287.3 868.8,1287.5 874.8,1287.7 880.8,1288.0 886.8,1288.2 892.8,1288.4 898.8,1288.6 904.8,1288.8 910.8,1289.0 916.8,1289.3 922.8,1289.5 928.8,1289.7 934.8,1289.9 940.8,1290.1 946.8,1290.4 952.8,1290.6 958.8,1290.8 964.8,1291.0 970.8,1291.3 976.8,1291.5 982.8,1291.7 988.8,1291.9 994.8,1292.1 1000.8,1292.4 1006.8,1292.6 1012.8,1292.8 1018.8,1293.0 1024.8,1293.3 1030.8,1293.5 1036.8,1293.7 1042.8,1293.9 1048.8,1294.1 1054.8,1294.3 1060.8,1294.6 1066.8,1294.8 1072.8,1295.0 1078.8,1295.2 1084.8,1295.4 1090.8,1295.6 1096.8,1295.8 1102.8,1296.0 1108.8,1296.3 1114.8,1296.5 1120.8,1296.7 1126.8,1296.9 1132.8,1297.1 1138.8,1297.3 1144.8,1297.5 1150.8,1297.7 1156.8,1297.9 1162.8,1298.1 1168.8,1298.3 1174.8,1298.5 1180.8,1298.7 1186.8,1298.9 1192.8,1299.1 1198.8,1299.3 1204.8,1299.5 1210.8,1299.7 1216.8,1299.9 1222.8,1300.1 1228.8,1300.3 1234.8,1300.4 1240.8,1300.6 1246.8,1300.8 1252.8,1301.0 1258.8,1301.2 1264.8,1301.4 1270.8,1301.6 1276.8,1301.7 1282.8,1301.9 1288.8,1302.1 1294.8,1302.3 1300.8,1302.5 1306.8,1302.6 1312.8,1302.8 1318.8,1303.0 1324.8,1303.2 1330.8,1303.3 1336.8,1303.5 1342.8,1303.7 1348.8,1303.8 1354.8,1304.0 1360.8,1304.2 1366.8,1304.3 1372.8,1304.5 1378.8,1304.7 1384.8,1304.8 1390.8,1305.0 1396.8,1305.1 1402.8,1305.3 1408.8,1305.5 1414.8,1305.6 1420.8,1305.8 1426.8,1305.9 1432.8,1306.1 1438.8,1306.2 1444.8,1306.4 1450.8,1306.5 1456.8,1306.7 1462.8,1306.8 1468.8,1306.9 1474.8,1307.1 1480.8,1307.2 1486.8,1307.4 1492.8,1307.5 1498.8,1307.6 1504.8,1307.8 1510.8,1307.9 1516.8,1308.0 1522.8,1308.1 1528.8,1308.3 1534.8,1308.4 1540.8,1308.5 1546.7,1308.6 1552.7,1308.8 1558.7,1308.9 1564.7,1309.0 1570.7,1309.1 1576.7,1309.2 1582.7,1309.3 1588.7,1309.5 1594.7,1309.6 1600.7,1309.7 1606.7,1309.8 1612.7,1309.9 1618.7,1310.0 1624.7,1310.1 1630.7,1310.2 1636.7,1310.3 1642.7,1310.4 1648.7,1310.5 1654.7,1310.6 1660.7,1310.7 1666.7,1310.8 1672.7,1310.8 1678.7,1310.9 1684.7,1311.0 1690.7,1311.1 1696.7,1311.2 1702.7,1311.3 1708.7,1311.3 1714.7,1311.4 1720.7,1311.5 1726.7,1311.6 1732.7,1311.6 1738.7,1311.7 1744.7,1311.8 1750.7,1311.8 1756.7,1311.9 1762.7,1311.9 1768.7,1312.0 1774.7,1312.1 1780.7,1312.1 1786.7,1312.2 1792.7,1312.2 1798.7,1312.3 1804.7,1312.3 1810.7,1312.4 1816.7,1312.4 1822.7,1312.4 1828.7,1312.5 1834.7,1312.5 1840.7,1312.6 1846.7,1312.6 1852.7,1312.6 1858.7,1312.6 1864.7,1312.7 1870.7,1312.7 1876.7,1312.7 1882.7,1312.7 1888.7,1312.8 1894.7,1312.8 1900.7,1312.8 1906.7,1312.8 1912.7,1312.8 1918.7,1312.8 1924.7,1312.8 1930.7,1312.8 1936.7,1312.8 1942.7,1312.8 1948.7,1312.8" stroke="#d62728"/>
</g>
<rect x="328.9" y="214.7" width="1619.8" height="1206.3" fill="none" stroke="#000" stroke-width="3.5"/>
<line x1="414.8" y1="1421.0" x2="414.8" y2="1436.5" stroke="#000" stroke-width="3.5"/>
<text x="415.2" y="1487.3" font-size="44.4" font-family="DejaVu Sans, sans-serif" text-anchor="middle" fill="#000" letter-spacing="0.8" >350</text>
<line x1="633.9" y1="1421.0" x2="633.9" y2="1436.5" stroke="#000" stroke-width="3.5"/>
<text x="634.3" y="1487.3" font-size="44.4" font-family="DejaVu Sans, sans-serif" text-anchor="middle" fill="#000" letter-spacing="0.8" >400</text>
<line x1="853.0" y1="1421.0" x2="853.0" y2="1436.5" stroke="#000" stroke-width="3.5"/>
<text x="853.4" y="1487.3" font-size="44.4" font-family="DejaVu Sans, sans-serif" text-anchor="middle" fill="#000" letter-spacing="0.8" >450</text>
<line x1="1072.1" y1="1421.0" x2="1072.1" y2="1436.5" stroke="#000" stroke-width="3.5"/>
<text x="1072.5" y="1487.3" font-size="44.4" font-family="DejaVu Sans, sans-serif" text-anchor="middle" fill="#000" letter-spacing="0.8" >500</text>
<line x1="1291.3" y1="1421.0" x2="1291.3" y2="1436.5" stroke="#000" stroke-width="3.5"/>
<text x="1291.7" y="1487.3" font-size="44.4" font-family="DejaVu Sans, sans-serif" text-anchor="middle" fill="#000" letter-spacing="0.8" >550</text>
<line x1="1510.4" y1="1421.0" x2="1510.4" y2="1436.5" stroke="#000" stroke-width="3.5"/>
<text x="1510.8" y="1487.3" font-size="44.4" font-family="DejaVu Sans, sans-serif" text-anchor="middle" fill="#000" letter-spacing="0.8" >600</text>
<line x1="1729.5" y1="1421.0" x2="1729.5" y2="1436.5" stroke="#000" stroke-width="3.5"/>
<text x="1729.9" y="1487.3" font-size="44.4" font-family="DejaVu Sans, sans-serif" text-anchor="middle" fill="#000" letter-spacing="0.8" >650</text>
<line x1="1948.6" y1="1421.0" x2="1948.6" y2="1436.5" stroke="#000" stroke-width="3.5"/>
<text x="1949.0" y="1487.3" font-size="44.4" font-family="DejaVu Sans, sans-serif" text-anchor="middle" fill="#000" letter-spacing="0.8" >700</text>
<line x1="313.4" y1="1421.0" x2="328.9" y2="1421.0" stroke="#000" stroke-width="3.5"/>
<text x="295.4" y="1437.3" font-size="44.4" font-family="DejaVu Sans, sans-serif" text-anchor="end" fill="#000" letter-spacing="0.3" >0.00</text>
<line x1="313.4" y1="1219.9" x2="328.9" y2="1219.9" stroke="#000" stroke-width="3.5"/>
<text x="295.4" y="1236.2" font-size="44.4" font-family="DejaVu Sans, sans-serif" text-anchor="end" fill="#000" letter-spacing="0.3" >0.05</text>
<line x1="313.4" y1="1018.8" x2="328.9" y2="1018.8" stroke="#000" stroke-width="3.5"/>
<text x="295.4" y="1035.0" font-size="44.4" font-family="DejaVu Sans, sans-serif" text-anchor="end" fill="#000" letter-spacing="0.3" >0.10</text>
<line x1="313.4" y1="817.6" x2="328.9" y2="817.6" stroke="#000" stroke-width="3.5"/>
<text x="295.4" y="833.9" font-size="44.4" font-family="DejaVu Sans, sans-serif" text-anchor="end" fill="#000" letter-spacing="0.3" >0.15</text>
<line x1="313.4" y1="616.5" x2="328.9" y2="616.5" stroke="#000" stroke-width="3.5"/>
<text x="295.4" y="632.8" font-size="44.4" font-family="DejaVu Sans, sans-serif" text-anchor="end" fill="#000" letter-spacing="0.3" >0.20</text>
<line x1="313.4" y1="415.4" x2="328.9" y2="415.4" stroke="#000" stroke-width="3.5"/>
<text x="295.4" y="431.7" font-size="44.4" font-family="DejaVu Sans, sans-serif" text-anchor="end" fill="#000" letter-spacing="0.3" >0.25</text>
<line x1="313.4" y1="214.2" x2="328.9" y2="214.2" stroke="#000" stroke-width="3.5"/>
<text x="295.4" y="230.6" font-size="44.4" font-family="DejaVu Sans, sans-serif" text-anchor="end" fill="#000" letter-spacing="0.3" >0.30</text>
<text x="1138.8" y="1548.2" font-size="44.4" font-family="DejaVu Sans, sans-serif" text-anchor="middle" fill="#000" letter-spacing="0.5" >Wavelength (nm)</text>
<text transform="translate(181.7,819.9) rotate(-90)" font-size="44.4" font-family="DejaVu Sans, sans-serif" text-anchor="middle" letter-spacing="0.5">Absorbance</text>
<rect x="2009.7" y="72.3" width="316.3" height="1602.9" rx="9" ry="9" fill="#fff" fill-opacity="0.8" stroke="#cccccc" stroke-opacity="0.8" stroke-width="3.8"/>
<line x1="2024.7" y1="108.4" x2="2121.5" y2="108.4" stroke="#1f77b4" stroke-width="6.2"/>
<text x="2154.0" y="124.0" font-size="44.4" font-family="DejaVu Sans, sans-serif" text-anchor="start" fill="#000" letter-spacing="0.7" >4240 s</text>
<line x1="2024.7" y1="174.7" x2="2121.5" y2="174.7" stroke="#ff7f0e" stroke-width="6.2"/>
<text x="2154.0" y="190.2" font-size="44.4" font-family="DejaVu Sans, sans-serif" text-anchor="start" fill="#000" letter-spacing="0.7" >3640 s</text>
<line x1="2024.7" y1="240.9" x2="2121.5" y2="240.9" stroke="#2ca02c" stroke-width="6.2"/>
<text x="2154.0" y="256.5" font-size="44.4" font-family="DejaVu Sans, sans-serif" text-anchor="start" fill="#000" letter-spacing="0.7" >3040 s</text>
<line x1="2024.7" y1="307.1" x2="2121.5" y2="307.1" stroke="#d62728" stroke-width="6.2"/>
<text x="2154.0" y="322.8" font-size="44.4" font-family="DejaVu Sans, sans-serif" text-anchor="start" fill="#000" letter-spacing="0.7" >2440 s</text>
<line x1="2024.7" y1="373.4" x2="2121.5" y2="373.4" stroke="#9467bd" stroke-width="6.2"/>
<text x="2154.0" y="389.0" font-size="44.4" font-family="DejaVu Sans, sans-serif" text-anchor="start" fill="#000" letter-spacing="0.7" >1840 s</text>
<line x1="2024.7" y1="439.6" x2="2121.5" y2="439.6" stroke="#8c564b" stroke-width="6.2"/>
<text x="2154.0" y="455.2" font-size="44.4" font-family="DejaVu Sans, sans-serif" text-anchor="start" fill="#000" letter-spacing="0.7" >1240 s</text>
<line x1="2024.7" y1="505.9" x2="2121.5" y2="505.9" stroke="#e377c2" stroke-width="6.2"/>
<text x="2154.0" y="521.5" font-size="44.4" font-family="DejaVu Sans, sans-serif" text-anchor="start" fill="#000" letter-spacing="0.7" >940 s</text>
<line x1="2024.7" y1="572.1" x2="2121.5" y2="572.1" stroke="#7f7f7f" stroke-width="6.2"/>
<text x="2154.0" y="587.8" font-size="44.4" font-family="DejaVu Sans, sans-serif" text-anchor="start" fill="#000" letter-spacing="0.7" >760 s</text>
<line x1="2024.7" y1="638.4" x2="2121.5" y2="638.4" stroke="#bcbd22" stroke-width="6.2"/>
<text x="2154.0" y="654.0" font-size="44.4" font-family="DejaVu Sans, sans-serif" text-anchor="start" fill="#000" letter-spacing="0.7" >640 s</text>
<line x1="2024.7" y1="704.6" x2="2121.5" y2="704.6" stroke="#17becf" stroke-width="6.2"/>
<text x="2154.0" y="720.2" font-size="44.4" font-family="DejaVu Sans, sans-serif" text-anchor="start" fill="#000" letter-spacing="0.7" >580 s</text>
<line x1="2024.7" y1="770.9" x2="2121.5" y2="770.9" stroke="#1f77b4" stroke-width="6.2"/>
<text x="2154.0" y="786.5" font-size="44.4" font-family="DejaVu Sans, sans-serif" text-anchor="start" fill="#000" letter-spacing="0.7" >520 s</text>
<line x1="2024.7" y1="837.1" x2="2121.5" y2="837.1" stroke="#ff7f0e" stroke-width="6.2"/>
<text x="2154.0" y="852.8" font-size="44.4" font-family="DejaVu Sans, sans-serif" text-anchor="start" fill="#000" letter-spacing="0.7" >460 s</text>
<line x1="2024.7" y1="903.4" x2="2121.5" y2="903.4" stroke="#2ca02c" stroke-width="6.2"/>
<text x="2154.0" y="919.0" font-size="44.4" font-family="DejaVu Sans, sans-serif" text-anchor="start" fill="#000" letter-spacing="0.7" >400 s</text>
<line x1="2024.7" y1="969.6" x2="2121.5" y2="969.6" stroke="#d62728" stroke-width="6.2"/>
<text x="2154.0" y="985.2" font-size="44.4" font-family="DejaVu Sans, sans-serif" text-anchor="start" fill="#000" letter-spacing="0.7" >314 s</text>
<line x1="2024.7" y1="1035.9" x2="2121.5" y2="1035.9" stroke="#9467bd" stroke-width="6.2"/>
<text x="2154.0" y="1051.5" font-size="44.4" font-family="DejaVu Sans, sans-serif" text-anchor="start" fill="#000" letter-spacing="0.7" >280 s</text>
<line x1="2024.7" y1="1102.2" x2="2121.5" y2="1102.2" stroke="#8c564b" stroke-width="6.2"/>
<text x="2154.0" y="1117.8" font-size="44.4" font-family="DejaVu Sans, sans-serif" text-anchor="start" fill="#000" letter-spacing="0.7" >220 s</text>
<line x1="2024.7" y1="1168.4" x2="2121.5" y2="1168.4" stroke="#e377c2" stroke-width="6.2"/>
<text x="2154.0" y="1184.0" font-size="44.4" font-family="DejaVu Sans, sans-serif" text-anchor="start" fill="#000" letter-spacing="0.7" >160 s</text>
<line x1="2024.7" y1="1234.7" x2="2121.5" y2="1234.7" stroke="#7f7f7f" stroke-width="6.2"/>
<text x="2154.0" y="1250.2" font-size="44.4" font-family="DejaVu Sans, sans-serif" text-anchor="start" fill="#000" letter-spacing="0.7" >100 s</text>
<line x1="2024.7" y1="1300.9" x2="2121.5" y2="1300.9" stroke="#bcbd22" stroke-width="6.2"/>
<text x="2154.0" y="1316.5" font-size="44.4" font-family="DejaVu Sans, sans-serif" text-anchor="start" fill="#000" letter-spacing="0.7" >50 s</text>
<line x1="2024.7" y1="1367.2" x2="2121.5" y2="1367.2" stroke="#17becf" stroke-width="6.2"/>
<text x="2154.0" y="1382.8" font-size="44.4" font-family="DejaVu Sans, sans-serif" text-anchor="start" fill="#000" letter-spacing="0.7" >40 s</text>
<line x1="2024.7" y1="1433.4" x2="2121.5" y2="1433.4" stroke="#1f77b4" stroke-width="6.2"/>
<text x="2154.0" y="1449.0" font-size="44.4" font-family="DejaVu Sans, sans-serif" text-anchor="start" fill="#000" letter-spacing="0.7" >30 s</text>
<line x1="2024.7" y1="1499.7" x2="2121.5" y2="1499.7" stroke="#ff7f0e" stroke-width="6.2"/>
<text x="2154.0" y="1515.2" font-size="44.4" font-family="DejaVu Sans, sans-serif" text-anchor="start" fill="#000" letter-spacing="0.7" >20 s</text>
<line x1="2024.7" y1="1565.9" x2="2121.5" y2="1565.9" stroke="#2ca02c" stroke-width="6.2"/>
<text x="2154.0" y="1581.5" font-size="44.4" font-family="DejaVu Sans, sans-serif" text-anchor="start" fill="#000" letter-spacing="0.7" >10 s</text>
<line x1="2024.7" y1="1632.2" x2="2121.5" y2="1632.2" stroke="#d62728" stroke-width="6.2"/>
<text x="2154.0" y="1647.8" font-size="44.4" font-family="DejaVu Sans, sans-serif" text-anchor="start" fill="#000" letter-spacing="0.7" >5 s</text>
<line x1="693.7" y1="1328.0" x2="693.7" y2="248.6" stroke="#000" stroke-width="5.3"/>
<path d="M693.7,215.6 L707.1,250.6 L680.4,250.6 Z" fill="#000"/>
<line x1="1036.2" y1="1331.0" x2="1036.2" y2="248.6" stroke="#000" stroke-width="5.3"/>
<path d="M1036.2,215.6 L1049.5,250.6 L1022.9,250.6 Z" fill="#000"/>
<text x="574.5" y="185.9" font-size="68.5" font-family="Liberation Sans, sans-serif" text-anchor="start" fill="#000" textLength="242.0" lengthAdjust="spacingAndGlyphs">420 nm</text>
<text x="924.5" y="185.9" font-size="68.5" font-family="Liberation Sans, sans-serif" text-anchor="start" fill="#000" textLength="241.0" lengthAdjust="spacingAndGlyphs">480 nm</text>
<text x="40.5" y="258.3" font-size="68.5" font-family="Liberation Sans, sans-serif" text-anchor="start" fill="#000" textLength="85.0" lengthAdjust="spacingAndGlyphs">(a)</text>
<text x="49.0" y="1850.5" font-size="68.5" font-family="Liberation Sans, sans-serif" text-anchor="start" fill="#000" textLength="88.0" lengthAdjust="spacingAndGlyphs">(b)</text>
<text x="49.0" y="3045.5" font-size="68.5" font-family="Liberation Sans, sans-serif" text-anchor="start" fill="#000" textLength="82.0" lengthAdjust="spacingAndGlyphs">(c)</text>
<circle cx="1866.3" cy="1738.0" r="15.8" fill="#0000ff"/>
<circle cx="1656.8" cy="1884.2" r="15.8" fill="#0000ff"/>
<circle cx="1447.2" cy="1911.8" r="15.8" fill="#0000ff"/>
<circle cx="1237.7" cy="2012.8" r="15.8" fill="#0000ff"/>
<circle cx="1028.1" cy="2122.3" r="15.8" fill="#0000ff"/>
<circle cx="818.6" cy="2227.5" r="15.8" fill="#0000ff"/>
<circle cx="713.8" cy="2288.7" r="15.8" fill="#0000ff"/>
<circle cx="650.9" cy="2352.2" r="15.8" fill="#0000ff"/>
<circle cx="609.0" cy="2381.8" r="15.8" fill="#0000ff"/>
<circle cx="588.1" cy="2437.5" r="15.8" fill="#0000ff"/>
<circle cx="567.1" cy="2481.3" r="15.8" fill="#0000ff"/>
<circle cx="546.2" cy="2496.3" r="15.8" fill="#0000ff"/>
<circle cx="525.2" cy="2554.4" r="15.8" fill="#0000ff"/>
<circle cx="504.2" cy="2626.6" r="15.8" fill="#0000ff"/>
<circle cx="483.3" cy="2664.6" r="15.8" fill="#0000ff"/>
<circle cx="462.3" cy="2717.6" r="15.8" fill="#0000ff"/>
<circle cx="441.4" cy="2708.5" r="15.8" fill="#0000ff"/>
<circle cx="420.4" cy="2749.0" r="15.8" fill="#0000ff"/>
<circle cx="403.0" cy="2823.5" r="15.8" fill="#0000ff"/>
<circle cx="399.5" cy="2822.0" r="15.8" fill="#0000ff"/>
<circle cx="396.0" cy="2828.0" r="15.8" fill="#0000ff"/>
<circle cx="392.5" cy="2794.3" r="15.8" fill="#0000ff"/>
<circle cx="389.0" cy="2840.5" r="15.8" fill="#0000ff"/>
<circle cx="387.2" cy="2839.5" r="15.8" fill="#0000ff"/>
<rect x="314.9" y="1681.8" width="1626.9" height="1212.6" fill="none" stroke="#000" stroke-width="3.5"/>
<line x1="385.5" y1="2894.4" x2="385.5" y2="2909.9" stroke="#000" stroke-width="3.5"/>
<text x="385.9" y="2946.3" font-size="44.4" font-family="DejaVu Sans, sans-serif" text-anchor="middle" fill="#000" letter-spacing="0.8" >0</text>
<line x1="734.8" y1="2894.4" x2="734.8" y2="2909.9" stroke="#000" stroke-width="3.5"/>
<text x="735.1" y="2946.3" font-size="44.4" font-family="DejaVu Sans, sans-serif" text-anchor="middle" fill="#000" letter-spacing="0.8" >1000</text>
<line x1="1084.0" y1="2894.4" x2="1084.0" y2="2909.9" stroke="#000" stroke-width="3.5"/>
<text x="1084.4" y="2946.3" font-size="44.4" font-family="DejaVu Sans, sans-serif" text-anchor="middle" fill="#000" letter-spacing="0.8" >2000</text>
<line x1="1433.2" y1="2894.4" x2="1433.2" y2="2909.9" stroke="#000" stroke-width="3.5"/>
<text x="1433.7" y="2946.3" font-size="44.4" font-family="DejaVu Sans, sans-serif" text-anchor="middle" fill="#000" letter-spacing="0.8" >3000</text>
<line x1="1782.5" y1="2894.4" x2="1782.5" y2="2909.9" stroke="#000" stroke-width="3.5"/>
<text x="1782.9" y="2946.3" font-size="44.4" font-family="DejaVu Sans, sans-serif" text-anchor="middle" fill="#000" letter-spacing="0.8" >4000</text>
<line x1="299.4" y1="2759.8" x2="314.9" y2="2759.8" stroke="#000" stroke-width="3.5"/>
<text x="281.4" y="2776.1" font-size="44.4" font-family="DejaVu Sans, sans-serif" text-anchor="end" fill="#000" letter-spacing="0.3" >0.05</text>
<line x1="299.4" y1="2520.5" x2="314.9" y2="2520.5" stroke="#000" stroke-width="3.5"/>
<text x="281.4" y="2536.8" font-size="44.4" font-family="DejaVu Sans, sans-serif" text-anchor="end" fill="#000" letter-spacing="0.3" >0.10</text>
<line x1="299.4" y1="2281.2" x2="314.9" y2="2281.2" stroke="#000" stroke-width="3.5"/>
<text x="281.4" y="2297.5" font-size="44.4" font-family="DejaVu Sans, sans-serif" text-anchor="end" fill="#000" letter-spacing="0.3" >0.15</text>
<line x1="299.4" y1="2041.9" x2="314.9" y2="2041.9" stroke="#000" stroke-width="3.5"/>
<text x="281.4" y="2058.2" font-size="44.4" font-family="DejaVu Sans, sans-serif" text-anchor="end" fill="#000" letter-spacing="0.3" >0.20</text>
<line x1="299.4" y1="1802.6" x2="314.9" y2="1802.6" stroke="#000" stroke-width="3.5"/>
<text x="281.4" y="1818.9" font-size="44.4" font-family="DejaVu Sans, sans-serif" text-anchor="end" fill="#000" letter-spacing="0.3" >0.25</text>
<text x="1126.5" y="2982.7" font-size="44.4" font-family="DejaVu Sans, sans-serif" text-anchor="middle" fill="#000" letter-spacing="0.12" >Total Adsorption Time (s)</text>
<text transform="translate(167.1,2290.3) rotate(-90)" font-size="44.4" font-family="DejaVu Sans, sans-serif" text-anchor="middle" letter-spacing="0.5">Absorbance</text>
<text x="402.0" y="2154.4" font-size="62" font-family="Liberation Sans, sans-serif" text-anchor="start" fill="#ff0000" textLength="400.0" lengthAdjust="spacingAndGlyphs">regime change</text>
<line x1="572.4" y1="2211.9" x2="625.2" y2="2300.1" stroke="#ff0000" stroke-width="5.0"/>
<path d="M642.4,2328.8 L613.3,2305.0 L635.2,2291.9 Z" fill="#ff0000"/>
<defs><clipPath id="cc"><rect x="341.9" y="3025.7" width="1621.1" height="1208.5"/></clipPath></defs>
<g clip-path="url(#cc)" fill="none" stroke-width="6.2" stroke-linejoin="round" stroke-linecap="butt">
<path d="M341.9,3817.0 347.9,3801.1 353.9,3783.1 359.9,3763.1 365.9,3741.6 371.9,3718.8 377.9,3695.0 383.9,3670.6 389.9,3645.7 395.9,3620.9 401.9,3596.2 407.9,3572.2 413.9,3549.0 420.0,3526.8 426.0,3505.6 432.0,3485.3 438.0,3465.8 444.0,3447.0 450.0,3428.8 456.0,3411.0 462.0,3393.7 468.0,3376.6 474.0,3359.8 480.0,3343.0 486.0,3326.3 492.0,3309.6 498.0,3293.0 504.0,3276.5 510.0,3260.2 516.0,3244.1 522.0,3228.2 528.0,3212.6 534.0,3197.3 540.0,3182.4 546.0,3167.8 552.0,3153.7 558.0,3139.9 564.1,3126.8 570.1,3114.2 576.1,3102.3 582.1,3091.3 588.1,3081.2 594.1,3072.2 600.1,3064.4 606.1,3057.9 612.1,3052.8 618.1,3049.1 624.1,3047.2 630.1,3046.9 636.1,3048.3 642.1,3051.1 648.1,3055.4 654.1,3060.9 660.1,3067.5 666.1,3075.2 672.1,3083.8 678.1,3093.1 684.1,3103.1 690.1,3113.6 696.1,3124.5 702.1,3135.7 708.1,3147.1 714.2,3158.6 720.2,3170.1 726.2,3181.6 732.2,3193.0 738.2,3204.2 744.2,3215.2 750.2,3225.9 756.2,3236.4 762.2,3246.5 768.2,3256.2 774.2,3265.6 780.2,3274.7 786.2,3283.6 792.2,3292.1 798.2,3300.3 804.2,3308.2 810.2,3315.8 816.2,3323.1 822.2,3330.0 828.2,3336.6 834.2,3342.8 840.2,3348.6 846.2,3354.1 852.2,3359.3 858.3,3364.2 864.3,3368.9 870.3,3373.2 876.3,3377.4 882.3,3381.3 888.3,3385.0 894.3,3388.5 900.3,3391.9 906.3,3395.1 912.3,3398.2 918.3,3401.2 924.3,3404.1 930.3,3406.9 936.3,3409.7 942.3,3412.4 948.3,3415.0 954.3,3417.6 960.3,3420.2 966.3,3422.7 972.3,3425.2 978.3,3427.6 984.3,3430.0 990.3,3432.3 996.3,3434.7 1002.3,3437.0 1008.4,3439.3 1014.4,3441.5 1020.4,3443.8 1026.4,3446.0 1032.4,3448.2 1038.4,3450.4 1044.4,3452.7 1050.4,3454.9 1056.4,3457.1 1062.4,3459.3 1068.4,3461.5 1074.4,3463.7 1080.4,3466.0 1086.4,3468.2 1092.4,3470.5 1098.4,3472.8 1104.4,3475.0 1110.4,3477.3 1116.4,3479.6 1122.4,3482.0 1128.4,3484.3 1134.4,3486.6 1140.4,3489.0 1146.4,3491.3 1152.4,3493.7 1158.5,3496.1 1164.5,3498.5 1170.5,3500.9 1176.5,3503.3 1182.5,3505.7 1188.5,3508.1 1194.5,3510.6 1200.5,3513.0 1206.5,3515.5 1212.5,3518.0 1218.5,3520.5 1224.5,3523.0 1230.5,3525.5 1236.5,3528.0 1242.5,3530.5 1248.5,3533.1 1254.5,3535.6 1260.5,3538.2 1266.5,3540.8 1272.5,3543.4 1278.5,3546.0 1284.5,3548.6 1290.5,3551.2 1296.5,3553.9 1302.6,3556.5 1308.6,3559.2 1314.6,3561.9 1320.6,3564.6 1326.6,3567.3 1332.6,3570.0 1338.6,3572.7 1344.6,3575.4 1350.6,3578.2 1356.6,3580.9 1362.6,3583.7 1368.6,3586.5 1374.6,3589.3 1380.6,3592.1 1386.6,3594.9 1392.6,3597.8 1398.6,3600.6 1404.6,3603.5 1410.6,3606.3 1416.6,3609.2 1422.6,3612.1 1428.6,3615.0 1434.6,3617.9 1440.6,3620.9 1446.6,3623.8 1452.7,3626.7 1458.7,3629.7 1464.7,3632.6 1470.7,3635.6 1476.7,3638.5 1482.7,3641.5 1488.7,3644.5 1494.7,3647.4 1500.7,3650.4 1506.7,3653.4 1512.7,3656.4 1518.7,3659.3 1524.7,3662.3 1530.7,3665.3 1536.7,3668.2 1542.7,3671.2 1548.7,3674.2 1554.7,3677.1 1560.7,3680.1 1566.7,3683.0 1572.7,3686.0 1578.7,3688.9 1584.7,3691.8 1590.7,3694.8 1596.8,3697.7 1602.8,3700.6 1608.8,3703.4 1614.8,3706.3 1620.8,3709.2 1626.8,3712.0 1632.8,3714.9 1638.8,3717.7 1644.8,3720.5 1650.8,3723.3 1656.8,3726.1 1662.8,3728.9 1668.8,3731.6 1674.8,3734.3 1680.8,3737.0 1686.8,3739.7 1692.8,3742.4 1698.8,3745.0 1704.8,3747.7 1710.8,3750.3 1716.8,3752.8 1722.8,3755.4 1728.8,3757.9 1734.8,3760.4 1740.8,3762.9 1746.9,3765.4 1752.9,3767.8 1758.9,3770.2 1764.9,3772.6 1770.9,3774.9 1776.9,3777.3 1782.9,3779.6 1788.9,3781.9 1794.9,3784.2 1800.9,3786.4 1806.9,3788.7 1812.9,3790.9 1818.9,3793.1 1824.9,3795.2 1830.9,3797.4 1836.9,3799.5 1842.9,3801.7 1848.9,3803.8 1854.9,3805.9 1860.9,3808.0 1866.9,3810.0 1872.9,3812.1 1878.9,3814.1 1884.9,3816.2 1891.0,3818.2 1897.0,3820.2 1903.0,3822.2 1909.0,3824.2 1915.0,3826.2 1921.0,3828.1 1927.0,3830.1 1933.0,3832.0 1939.0,3834.0 1945.0,3835.9 1951.0,3837.8 1957.0,3839.8 1963.0,3841.7" stroke="#1f77b4"/>
<path d="M341.9,3863.9 347.9,3847.1 353.9,3830.2 359.9,3813.3 365.9,3796.2 371.9,3778.8 377.9,3761.1 383.9,3743.0 389.9,3724.5 395.9,3705.4 401.9,3685.6 407.9,3665.2 413.9,3644.0 420.0,3621.9 426.0,3598.9 432.0,3575.0 438.0,3553.6 444.0,3535.1 450.0,3517.1 456.0,3499.5 462.0,3482.5 468.0,3466.2 474.0,3450.7 480.0,3435.9 486.0,3421.6 492.0,3407.6 498.0,3393.7 504.0,3379.6 510.0,3365.1 516.0,3349.9 522.0,3334.0 528.0,3317.6 534.0,3301.0 540.0,3284.4 546.0,3268.2 552.0,3252.7 558.0,3238.1 564.1,3224.8 570.1,3212.6 576.1,3201.7 582.1,3192.0 588.1,3183.5 594.1,3176.1 600.1,3169.9 606.1,3164.9 612.1,3161.0 618.1,3158.2 624.1,3156.6 630.1,3156.0 636.1,3156.5 642.1,3158.1 648.1,3160.8 654.1,3164.5 660.1,3169.3 666.1,3175.1 672.1,3181.9 678.1,3189.7 684.1,3198.4 690.1,3208.0 696.1,3218.3 702.1,3229.2 708.1,3240.6 714.2,3252.3 720.2,3264.2 726.2,3276.3 732.2,3288.3 738.2,3300.3 744.2,3312.0 750.2,3323.3 756.2,3334.2 762.2,3344.6 768.2,3354.6 774.2,3364.1 780.2,3373.1 786.2,3381.8 792.2,3390.1 798.2,3397.9 804.2,3405.4 810.2,3412.5 816.2,3419.3 822.2,3425.7 828.2,3431.9 834.2,3437.7 840.2,3443.2 846.2,3448.5 852.2,3453.6 858.3,3458.4 864.3,3463.0 870.3,3467.4 876.3,3471.7 882.3,3475.8 888.3,3479.7 894.3,3483.5 900.3,3487.2 906.3,3490.7 912.3,3494.2 918.3,3497.5 924.3,3500.7 930.3,3503.8 936.3,3506.9 942.3,3509.8 948.3,3512.7 954.3,3515.5 960.3,3518.2 966.3,3520.9 972.3,3523.5 978.3,3526.1 984.3,3528.6 990.3,3531.1 996.3,3533.6 1002.3,3536.1 1008.4,3538.5 1014.4,3541.0 1020.4,3543.4 1026.4,3545.9 1032.4,3548.4 1038.4,3550.8 1044.4,3553.3 1050.4,3555.7 1056.4,3558.1 1062.4,3560.3 1068.4,3562.5 1074.4,3564.6 1080.4,3566.5 1086.4,3568.3 1092.4,3569.9 1098.4,3571.3 1104.4,3572.6 1110.4,3573.5 1116.4,3574.3 1122.4,3574.9 1128.4,3575.4 1134.4,3575.9 1140.4,3576.5 1146.4,3577.2 1152.4,3578.1 1158.5,3579.3 1164.5,3580.8 1170.5,3582.6 1176.5,3584.6 1182.5,3587.0 1188.5,3589.7 1194.5,3592.7 1200.5,3596.2 1206.5,3600.1 1212.5,3604.4 1218.5,3608.7 1224.5,3612.8 1230.5,3616.4 1236.5,3619.5 1242.5,3622.2 1248.5,3624.6 1254.5,3627.0 1260.5,3629.3 1266.5,3631.6 1272.5,3634.0 1278.5,3636.4 1284.5,3638.8 1290.5,3641.3 1296.5,3643.7 1302.6,3646.2 1308.6,3648.7 1314.6,3651.2 1320.6,3653.8 1326.6,3656.4 1332.6,3658.9 1338.6,3661.5 1344.6,3664.1 1350.6,3666.8 1356.6,3669.4 1362.6,3672.0 1368.6,3674.7 1374.6,3677.4 1380.6,3680.0 1386.6,3682.7 1392.6,3685.4 1398.6,3688.1 1404.6,3690.7 1410.6,3693.4 1416.6,3696.1 1422.6,3698.8 1428.6,3701.5 1434.6,3704.2 1440.6,3706.9 1446.6,3709.6 1452.7,3712.2 1458.7,3714.9 1464.7,3717.6 1470.7,3720.3 1476.7,3722.9 1482.7,3725.6 1488.7,3728.3 1494.7,3730.9 1500.7,3733.6 1506.7,3736.3 1512.7,3738.9 1518.7,3741.5 1524.7,3744.2 1530.7,3746.8 1536.7,3749.4 1542.7,3752.0 1548.7,3754.6 1554.7,3757.2 1560.7,3759.8 1566.7,3762.4 1572.7,3764.9 1578.7,3767.5 1584.7,3770.0 1590.7,3772.6 1596.8,3775.1 1602.8,3777.6 1608.8,3780.1 1614.8,3782.6 1620.8,3785.0 1626.8,3787.5 1632.8,3789.9 1638.8,3792.4 1644.8,3794.8 1650.8,3797.2 1656.8,3799.5 1662.8,3801.9 1668.8,3804.3 1674.8,3806.6 1680.8,3808.9 1686.8,3811.2 1692.8,3813.5 1698.8,3815.7 1704.8,3818.0 1710.8,3820.2 1716.8,3822.4 1722.8,3824.5 1728.8,3826.7 1734.8,3828.8 1740.8,3830.9 1746.9,3833.0 1752.9,3835.1 1758.9,3837.1 1764.9,3839.2 1770.9,3841.2 1776.9,3843.2 1782.9,3845.1 1788.9,3847.1 1794.9,3849.0 1800.9,3850.9 1806.9,3852.8 1812.9,3854.7 1818.9,3856.6 1824.9,3858.4 1830.9,3860.3 1836.9,3862.1 1842.9,3863.9 1848.9,3865.7 1854.9,3867.4 1860.9,3869.2 1866.9,3870.9 1872.9,3872.7 1878.9,3874.4 1884.9,3876.1 1891.0,3877.8 1897.0,3879.5 1903.0,3881.2 1909.0,3882.8 1915.0,3884.5 1921.0,3886.2 1927.0,3887.8 1933.0,3889.4 1939.0,3891.0 1945.0,3892.7 1951.0,3894.3 1957.0,3895.9 1963.0,3897.5" stroke="#ff7f0e"/>
<path d="M341.9,3836.5 347.9,3827.4 353.9,3817.4 359.9,3806.3 365.9,3794.3 371.9,3781.5 377.9,3768.0 383.9,3753.9 389.9,3739.1 395.9,3723.9 401.9,3708.2 407.9,3692.3 413.9,3676.0 420.0,3659.6 426.0,3643.1 432.0,3626.7 438.0,3610.2 444.0,3593.9 450.0,3577.6 456.0,3561.5 462.0,3545.6 468.0,3529.7 474.0,3514.1 480.0,3498.6 486.0,3483.3 492.0,3468.2 498.0,3453.3 504.0,3438.6 510.0,3424.2 516.0,3410.0 522.0,3396.1 528.0,3382.5 534.0,3369.1 540.0,3356.0 546.0,3343.2 552.0,3330.8 558.0,3318.7 564.1,3307.1 570.1,3296.1 576.1,3285.9 582.1,3276.4 588.1,3267.9 594.1,3260.4 600.1,3254.1 606.1,3249.1 612.1,3245.5 618.1,3243.3 624.1,3242.4 630.1,3242.8 636.1,3244.4 642.1,3247.0 648.1,3250.5 654.1,3255.0 660.1,3260.2 666.1,3266.2 672.1,3272.7 678.1,3279.7 684.1,3287.2 690.1,3295.1 696.1,3303.3 702.1,3311.9 708.1,3320.7 714.2,3329.9 720.2,3339.2 726.2,3348.7 732.2,3358.4 738.2,3368.1 744.2,3377.9 750.2,3387.7 756.2,3397.4 762.2,3406.9 768.2,3416.3 774.2,3425.5 780.2,3434.5 786.2,3443.1 792.2,3451.4 798.2,3459.4 804.2,3467.1 810.2,3474.3 816.2,3481.1 822.2,3487.5 828.2,3493.5 834.2,3499.1 840.2,3504.4 846.2,3509.4 852.2,3514.1 858.3,3518.5 864.3,3522.7 870.3,3526.7 876.3,3530.4 882.3,3534.0 888.3,3537.5 894.3,3540.8 900.3,3544.0 906.3,3547.1 912.3,3550.2 918.3,3553.2 924.3,3556.1 930.3,3558.9 936.3,3561.7 942.3,3564.4 948.3,3567.0 954.3,3569.7 960.3,3572.2 966.3,3574.7 972.3,3577.2 978.3,3579.6 984.3,3582.0 990.3,3584.4 996.3,3586.8 1002.3,3589.1 1008.4,3591.4 1014.4,3593.8 1020.4,3596.1 1026.4,3598.4 1032.4,3600.7 1038.4,3603.0 1044.4,3605.3 1050.4,3607.5 1056.4,3609.8 1062.4,3612.0 1068.4,3614.1 1074.4,3616.2 1080.4,3618.2 1086.4,3620.2 1092.4,3622.1 1098.4,3623.9 1104.4,3625.6 1110.4,3627.2 1116.4,3628.7 1122.4,3630.1 1128.4,3631.4 1134.4,3632.5 1140.4,3633.5 1146.4,3634.3 1152.4,3635.0 1158.5,3635.5 1164.5,3636.2 1170.5,3637.3 1176.5,3638.9 1182.5,3641.4 1188.5,3644.8 1194.5,3648.7 1200.5,3652.8 1206.5,3656.5 1212.5,3660.0 1218.5,3663.1 1224.5,3666.0 1230.5,3668.6 1236.5,3671.1 1242.5,3673.5 1248.5,3675.8 1254.5,3678.0 1260.5,3680.3 1266.5,3682.6 1272.5,3684.9 1278.5,3687.2 1284.5,3689.5 1290.5,3691.9 1296.5,3694.3 1302.6,3696.7 1308.6,3699.1 1314.6,3701.5 1320.6,3703.9 1326.6,3706.3 1332.6,3708.8 1338.6,3711.2 1344.6,3713.6 1350.6,3716.0 1356.6,3718.5 1362.6,3720.9 1368.6,3723.3 1374.6,3725.7 1380.6,3728.1 1386.6,3730.5 1392.6,3732.8 1398.6,3735.2 1404.6,3737.5 1410.6,3739.8 1416.6,3742.1 1422.6,3744.4 1428.6,3746.6 1434.6,3748.9 1440.6,3751.1 1446.6,3753.3 1452.7,3755.5 1458.7,3757.6 1464.7,3759.8 1470.7,3762.0 1476.7,3764.1 1482.7,3766.2 1488.7,3768.3 1494.7,3770.4 1500.7,3772.5 1506.7,3774.6 1512.7,3776.7 1518.7,3778.7 1524.7,3780.8 1530.7,3782.9 1536.7,3784.9 1542.7,3786.9 1548.7,3789.0 1554.7,3791.0 1560.7,3793.0 1566.7,3795.1 1572.7,3797.1 1578.7,3799.1 1584.7,3801.1 1590.7,3803.1 1596.8,3805.1 1602.8,3807.2 1608.8,3809.1 1614.8,3811.1 1620.8,3813.1 1626.8,3815.1 1632.8,3817.0 1638.8,3819.0 1644.8,3820.9 1650.8,3822.8 1656.8,3824.7 1662.8,3826.6 1668.8,3828.5 1674.8,3830.4 1680.8,3832.2 1686.8,3834.1 1692.8,3835.9 1698.8,3837.6 1704.8,3839.4 1710.8,3841.2 1716.8,3842.9 1722.8,3844.6 1728.8,3846.3 1734.8,3847.9 1740.8,3849.5 1746.9,3851.1 1752.9,3852.7 1758.9,3854.3 1764.9,3855.8 1770.9,3857.3 1776.9,3858.8 1782.9,3860.3 1788.9,3861.7 1794.9,3863.1 1800.9,3864.6 1806.9,3865.9 1812.9,3867.3 1818.9,3868.7 1824.9,3870.0 1830.9,3871.4 1836.9,3872.7 1842.9,3874.0 1848.9,3875.3 1854.9,3876.6 1860.9,3877.9 1866.9,3879.1 1872.9,3880.4 1878.9,3881.7 1884.9,3882.9 1891.0,3884.1 1897.0,3885.4 1903.0,3886.6 1909.0,3887.8 1915.0,3889.1 1921.0,3890.3 1927.0,3891.5 1933.0,3892.8 1939.0,3894.0 1945.0,3895.2 1951.0,3896.4 1957.0,3897.7 1963.0,3898.9" stroke="#2ca02c"/>
<path d="M341.9,3888.0 347.9,3879.3 353.9,3868.5 359.9,3856.1 365.9,3842.7 371.9,3828.9 377.9,3815.1 383.9,3801.9 389.9,3789.3 395.9,3777.6 401.9,3766.8 407.9,3756.5 413.9,3746.6 420.0,3736.8 426.0,3726.9 432.0,3716.6 438.0,3706.0 444.0,3695.0 450.0,3683.7 456.0,3672.2 462.0,3660.4 468.0,3648.4 474.0,3636.2 480.0,3623.9 486.0,3611.5 492.0,3599.0 498.0,3586.5 504.0,3574.1 510.0,3561.6 516.0,3549.2 522.0,3536.9 528.0,3524.8 534.0,3512.9 540.0,3501.1 546.0,3489.6 552.0,3478.4 558.0,3467.5 564.1,3457.0 570.1,3446.9 576.1,3437.4 582.1,3428.5 588.1,3420.3 594.1,3412.8 600.1,3406.2 606.1,3400.5 612.1,3395.8 618.1,3392.2 624.1,3389.7 630.1,3388.4 636.1,3388.2 642.1,3389.3 648.1,3391.6 654.1,3395.2 660.1,3399.8 666.1,3405.4 672.1,3411.8 678.1,3418.8 684.1,3426.2 690.1,3433.9 696.1,3441.9 702.1,3450.1 708.1,3458.4 714.2,3466.8 720.2,3475.3 726.2,3483.7 732.2,3492.1 738.2,3500.4 744.2,3508.6 750.2,3516.6 756.2,3524.4 762.2,3531.9 768.2,3539.2 774.2,3546.4 780.2,3553.3 786.2,3560.1 792.2,3566.7 798.2,3573.2 804.2,3579.4 810.2,3585.5 816.2,3591.3 822.2,3597.0 828.2,3602.5 834.2,3607.7 840.2,3612.7 846.2,3617.5 852.2,3622.1 858.3,3626.4 864.3,3630.6 870.3,3634.6 876.3,3638.5 882.3,3642.2 888.3,3645.7 894.3,3649.1 900.3,3652.5 906.3,3655.7 912.3,3658.9 918.3,3662.0 924.3,3665.0 930.3,3668.0 936.3,3671.0 942.3,3673.9 948.3,3676.8 954.3,3679.6 960.3,3682.4 966.3,3685.2 972.3,3687.9 978.3,3690.6 984.3,3693.2 990.3,3695.8 996.3,3698.4 1002.3,3701.0 1008.4,3703.5 1014.4,3705.9 1020.4,3708.4 1026.4,3710.8 1032.4,3713.1 1038.4,3715.5 1044.4,3717.8 1050.4,3720.0 1056.4,3722.2 1062.4,3724.4 1068.4,3726.6 1074.4,3728.7 1080.4,3730.8 1086.4,3732.9 1092.4,3734.9 1098.4,3736.9 1104.4,3738.9 1110.4,3740.9 1116.4,3742.8 1122.4,3744.7 1128.4,3746.7 1134.4,3748.5 1140.4,3750.4 1146.4,3752.3 1152.4,3754.2 1158.5,3756.0 1164.5,3757.9 1170.5,3759.7 1176.5,3761.6 1182.5,3763.4 1188.5,3765.3 1194.5,3767.1 1200.5,3769.0 1206.5,3770.9 1212.5,3772.7 1218.5,3774.6 1224.5,3776.5 1230.5,3778.5 1236.5,3780.4 1242.5,3782.4 1248.5,3784.3 1254.5,3786.3 1260.5,3788.4 1266.5,3790.4 1272.5,3792.4 1278.5,3794.5 1284.5,3796.5 1290.5,3798.6 1296.5,3800.7 1302.6,3802.8 1308.6,3804.9 1314.6,3807.0 1320.6,3809.1 1326.6,3811.2 1332.6,3813.3 1338.6,3815.4 1344.6,3817.5 1350.6,3819.6 1356.6,3821.8 1362.6,3823.9 1368.6,3826.0 1374.6,3828.1 1380.6,3830.2 1386.6,3832.3 1392.6,3834.3 1398.6,3836.4 1404.6,3838.5 1410.6,3840.5 1416.6,3842.6 1422.6,3844.6 1428.6,3846.6 1434.6,3848.6 1440.6,3850.6 1446.6,3852.6 1452.7,3854.6 1458.7,3856.5 1464.7,3858.5 1470.7,3860.4 1476.7,3862.3 1482.7,3864.3 1488.7,3866.2 1494.7,3868.1 1500.7,3869.9 1506.7,3871.8 1512.7,3873.7 1518.7,3875.5 1524.7,3877.4 1530.7,3879.2 1536.7,3881.0 1542.7,3882.8 1548.7,3884.6 1554.7,3886.4 1560.7,3888.2 1566.7,3889.9 1572.7,3891.7 1578.7,3893.4 1584.7,3895.1 1590.7,3896.9 1596.8,3898.6 1602.8,3900.3 1608.8,3901.9 1614.8,3903.6 1620.8,3905.3 1626.8,3906.9 1632.8,3908.6 1638.8,3910.2 1644.8,3911.8 1650.8,3913.4 1656.8,3915.0 1662.8,3916.6 1668.8,3918.1 1674.8,3919.7 1680.8,3921.2 1686.8,3922.8 1692.8,3924.3 1698.8,3925.8 1704.8,3927.3 1710.8,3928.8 1716.8,3930.3 1722.8,3931.8 1728.8,3933.2 1734.8,3934.7 1740.8,3936.1 1746.9,3937.5 1752.9,3938.9 1758.9,3940.3 1764.9,3941.7 1770.9,3943.1 1776.9,3944.5 1782.9,3945.8 1788.9,3947.2 1794.9,3948.5 1800.9,3949.8 1806.9,3951.1 1812.9,3952.4 1818.9,3953.7 1824.9,3955.0 1830.9,3956.2 1836.9,3957.5 1842.9,3958.7 1848.9,3960.0 1854.9,3961.2 1860.9,3962.4 1866.9,3963.6 1872.9,3964.8 1878.9,3966.0 1884.9,3967.1 1891.0,3968.3 1897.0,3969.4 1903.0,3970.5 1909.0,3971.6 1915.0,3972.7 1921.0,3973.8 1927.0,3974.9 1933.0,3976.0 1939.0,3977.1 1945.0,3978.1 1951.0,3979.1 1957.0,3980.2 1963.0,3981.2" stroke="#d62728"/>
<path d="M341.9,3952.8 347.9,3947.4 353.9,3940.3 359.9,3931.5 365.9,3921.5 371.9,3910.3 377.9,3898.2 383.9,3885.5 389.9,3872.4 395.9,3859.1 401.9,3845.9 407.9,3833.0 413.9,3820.7 420.0,3809.0 426.0,3798.4 432.0,3789.0 438.0,3780.9 444.0,3773.9 450.0,3767.6 456.0,3761.8 462.0,3756.3 468.0,3750.8 474.0,3745.1 480.0,3738.8 486.0,3731.8 492.0,3723.8 498.0,3714.7 504.0,3704.8 510.0,3694.1 516.0,3683.0 522.0,3671.5 528.0,3659.9 534.0,3648.3 540.0,3636.9 546.0,3626.0 552.0,3615.6 558.0,3606.1 564.1,3597.4 570.1,3589.4 576.1,3582.2 582.1,3575.6 588.1,3569.5 594.1,3563.9 600.1,3558.8 606.1,3554.2 612.1,3550.2 618.1,3546.9 624.1,3544.4 630.1,3542.7 636.1,3542.1 642.1,3542.6 648.1,3544.2 654.1,3547.0 660.1,3550.7 666.1,3555.3 672.1,3560.7 678.1,3566.8 684.1,3573.5 690.1,3580.6 696.1,3588.0 702.1,3595.7 708.1,3603.5 714.2,3611.4 720.2,3619.1 726.2,3626.7 732.2,3634.0 738.2,3641.1 744.2,3648.0 750.2,3654.8 756.2,3661.4 762.2,3667.8 768.2,3674.1 774.2,3680.2 780.2,3686.2 786.2,3692.0 792.2,3697.6 798.2,3703.1 804.2,3708.4 810.2,3713.4 816.2,3718.3 822.2,3723.0 828.2,3727.4 834.2,3731.7 840.2,3735.8 846.2,3739.7 852.2,3743.5 858.3,3747.1 864.3,3750.6 870.3,3753.9 876.3,3757.2 882.3,3760.3 888.3,3763.3 894.3,3766.3 900.3,3769.1 906.3,3771.9 912.3,3774.7 918.3,3777.4 924.3,3780.0 930.3,3782.6 936.3,3785.1 942.3,3787.6 948.3,3790.0 954.3,3792.4 960.3,3794.8 966.3,3797.1 972.3,3799.4 978.3,3801.6 984.3,3803.8 990.3,3806.0 996.3,3808.2 1002.3,3810.3 1008.4,3812.4 1014.4,3814.4 1020.4,3816.5 1026.4,3818.5 1032.4,3820.5 1038.4,3822.5 1044.4,3824.4 1050.4,3826.4 1056.4,3828.3 1062.4,3830.2 1068.4,3832.2 1074.4,3834.1 1080.4,3836.0 1086.4,3837.8 1092.4,3839.7 1098.4,3841.6 1104.4,3843.5 1110.4,3845.3 1116.4,3847.2 1122.4,3849.0 1128.4,3850.8 1134.4,3852.7 1140.4,3854.5 1146.4,3856.3 1152.4,3858.1 1158.5,3859.9 1164.5,3861.7 1170.5,3863.5 1176.5,3865.3 1182.5,3867.1 1188.5,3868.8 1194.5,3870.6 1200.5,3872.3 1206.5,3874.1 1212.5,3875.8 1218.5,3877.6 1224.5,3879.3 1230.5,3881.0 1236.5,3882.7 1242.5,3884.5 1248.5,3886.2 1254.5,3887.9 1260.5,3889.6 1266.5,3891.3 1272.5,3892.9 1278.5,3894.6 1284.5,3896.3 1290.5,3898.0 1296.5,3899.6 1302.6,3901.3 1308.6,3903.0 1314.6,3904.6 1320.6,3906.3 1326.6,3907.9 1332.6,3909.6 1338.6,3911.2 1344.6,3912.8 1350.6,3914.5 1356.6,3916.1 1362.6,3917.7 1368.6,3919.3 1374.6,3920.9 1380.6,3922.5 1386.6,3924.1 1392.6,3925.8 1398.6,3927.4 1404.6,3928.9 1410.6,3930.5 1416.6,3932.1 1422.6,3933.7 1428.6,3935.3 1434.6,3936.9 1440.6,3938.5 1446.6,3940.0 1452.7,3941.6 1458.7,3943.2 1464.7,3944.7 1470.7,3946.3 1476.7,3947.8 1482.7,3949.4 1488.7,3950.9 1494.7,3952.5 1500.7,3954.0 1506.7,3955.6 1512.7,3957.1 1518.7,3958.6 1524.7,3960.1 1530.7,3961.7 1536.7,3963.2 1542.7,3964.7 1548.7,3966.2 1554.7,3967.7 1560.7,3969.2 1566.7,3970.7 1572.7,3972.2 1578.7,3973.6 1584.7,3975.1 1590.7,3976.6 1596.8,3978.1 1602.8,3979.5 1608.8,3981.0 1614.8,3982.4 1620.8,3983.9 1626.8,3985.3 1632.8,3986.8 1638.8,3988.2 1644.8,3989.6 1650.8,3991.0 1656.8,3992.4 1662.8,3993.8 1668.8,3995.2 1674.8,3996.6 1680.8,3998.0 1686.8,3999.4 1692.8,4000.8 1698.8,4002.2 1704.8,4003.5 1710.8,4004.9 1716.8,4006.2 1722.8,4007.6 1728.8,4008.9 1734.8,4010.3 1740.8,4011.6 1746.9,4012.9 1752.9,4014.2 1758.9,4015.5 1764.9,4016.8 1770.9,4018.1 1776.9,4019.4 1782.9,4020.7 1788.9,4022.0 1794.9,4023.2 1800.9,4024.5 1806.9,4025.7 1812.9,4027.0 1818.9,4028.2 1824.9,4029.5 1830.9,4030.7 1836.9,4031.9 1842.9,4033.1 1848.9,4034.3 1854.9,4035.5 1860.9,4036.7 1866.9,4037.9 1872.9,4039.0 1878.9,4040.2 1884.9,4041.3 1891.0,4042.5 1897.0,4043.6 1903.0,4044.7 1909.0,4045.9 1915.0,4047.0 1921.0,4048.1 1927.0,4049.2 1933.0,4050.3 1939.0,4051.3 1945.0,4052.4 1951.0,4053.5 1957.0,4054.5 1963.0,4055.6" stroke="#9467bd"/>
<path d="M341.9,3944.0 347.9,3938.8 353.9,3932.8 359.9,3926.3 365.9,3919.3 371.9,3911.8 377.9,3904.1 383.9,3896.1 389.9,3888.1 395.9,3880.0 401.9,3871.9 407.9,3864.1 413.9,3856.5 420.0,3849.3 426.0,3842.5 432.0,3836.3 438.0,3830.5 444.0,3825.1 450.0,3820.0 456.0,3815.2 462.0,3810.4 468.0,3805.8 474.0,3801.1 480.0,3796.3 486.0,3791.3 492.0,3786.0 498.0,3780.4 504.0,3774.4 510.0,3767.9 516.0,3761.2 522.0,3754.3 528.0,3747.4 534.0,3740.5 540.0,3733.8 546.0,3727.5 552.0,3721.5 558.0,3715.9 564.1,3710.6 570.1,3705.8 576.1,3701.4 582.1,3697.4 588.1,3693.8 594.1,3690.6 600.1,3687.9 606.1,3685.7 612.1,3683.9 618.1,3682.7 624.1,3682.0 630.1,3681.8 636.1,3682.2 642.1,3683.0 648.1,3684.3 654.1,3686.1 660.1,3688.2 666.1,3690.7 672.1,3693.6 678.1,3696.7 684.1,3700.1 690.1,3703.7 696.1,3707.6 702.1,3711.5 708.1,3715.7 714.2,3719.9 720.2,3724.3 726.2,3728.7 732.2,3733.2 738.2,3737.8 744.2,3742.3 750.2,3746.9 756.2,3751.5 762.2,3756.1 768.2,3760.6 774.2,3765.1 780.2,3769.5 786.2,3773.8 792.2,3778.0 798.2,3782.1 804.2,3786.0 810.2,3789.8 816.2,3793.4 822.2,3796.9 828.2,3800.2 834.2,3803.4 840.2,3806.5 846.2,3809.4 852.2,3812.2 858.3,3815.0 864.3,3817.6 870.3,3820.1 876.3,3822.6 882.3,3824.9 888.3,3827.2 894.3,3829.5 900.3,3831.7 906.3,3833.8 912.3,3836.0 918.3,3838.0 924.3,3840.1 930.3,3842.1 936.3,3844.1 942.3,3846.1 948.3,3848.1 954.3,3850.0 960.3,3851.9 966.3,3853.7 972.3,3855.6 978.3,3857.4 984.3,3859.2 990.3,3861.0 996.3,3862.7 1002.3,3864.5 1008.4,3866.2 1014.4,3867.9 1020.4,3869.5 1026.4,3871.2 1032.4,3872.8 1038.4,3874.4 1044.4,3876.0 1050.4,3877.6 1056.4,3879.1 1062.4,3880.7 1068.4,3882.2 1074.4,3883.7 1080.4,3885.2 1086.4,3886.7 1092.4,3888.2 1098.4,3889.6 1104.4,3891.1 1110.4,3892.5 1116.4,3893.9 1122.4,3895.3 1128.4,3896.7 1134.4,3898.1 1140.4,3899.5 1146.4,3900.8 1152.4,3902.2 1158.5,3903.6 1164.5,3904.9 1170.5,3906.2 1176.5,3907.6 1182.5,3908.9 1188.5,3910.2 1194.5,3911.5 1200.5,3912.9 1206.5,3914.2 1212.5,3915.5 1218.5,3916.8 1224.5,3918.1 1230.5,3919.4 1236.5,3920.7 1242.5,3922.0 1248.5,3923.3 1254.5,3924.6 1260.5,3925.9 1266.5,3927.2 1272.5,3928.5 1278.5,3929.9 1284.5,3931.2 1290.5,3932.5 1296.5,3933.8 1302.6,3935.2 1308.6,3936.5 1314.6,3937.8 1320.6,3939.2 1326.6,3940.5 1332.6,3941.8 1338.6,3943.2 1344.6,3944.5 1350.6,3945.9 1356.6,3947.2 1362.6,3948.6 1368.6,3950.0 1374.6,3951.3 1380.6,3952.7 1386.6,3954.0 1392.6,3955.4 1398.6,3956.8 1404.6,3958.1 1410.6,3959.5 1416.6,3960.8 1422.6,3962.2 1428.6,3963.6 1434.6,3964.9 1440.6,3966.3 1446.6,3967.7 1452.7,3969.0 1458.7,3970.4 1464.7,3971.8 1470.7,3973.1 1476.7,3974.5 1482.7,3975.8 1488.7,3977.2 1494.7,3978.6 1500.7,3979.9 1506.7,3981.3 1512.7,3982.6 1518.7,3984.0 1524.7,3985.3 1530.7,3986.7 1536.7,3988.0 1542.7,3989.4 1548.7,3990.7 1554.7,3992.0 1560.7,3993.4 1566.7,3994.7 1572.7,3996.0 1578.7,3997.4 1584.7,3998.7 1590.7,4000.0 1596.8,4001.3 1602.8,4002.6 1608.8,4003.9 1614.8,4005.2 1620.8,4006.5 1626.8,4007.8 1632.8,4009.1 1638.8,4010.4 1644.8,4011.7 1650.8,4012.9 1656.8,4014.2 1662.8,4015.5 1668.8,4016.7 1674.8,4018.0 1680.8,4019.2 1686.8,4020.5 1692.8,4021.7 1698.8,4022.9 1704.8,4024.1 1710.8,4025.3 1716.8,4026.6 1722.8,4027.8 1728.8,4028.9 1734.8,4030.1 1740.8,4031.3 1746.9,4032.5 1752.9,4033.6 1758.9,4034.8 1764.9,4035.9 1770.9,4037.1 1776.9,4038.2 1782.9,4039.3 1788.9,4040.5 1794.9,4041.6 1800.9,4042.7 1806.9,4043.8 1812.9,4044.8 1818.9,4045.9 1824.9,4047.0 1830.9,4048.0 1836.9,4049.1 1842.9,4050.1 1848.9,4051.1 1854.9,4052.1 1860.9,4053.1 1866.9,4054.1 1872.9,4055.1 1878.9,4056.1 1884.9,4057.0 1891.0,4058.0 1897.0,4058.9 1903.0,4059.9 1909.0,4060.8 1915.0,4061.7 1921.0,4062.6 1927.0,4063.4 1933.0,4064.3 1939.0,4065.2 1945.0,4066.0 1951.0,4066.9 1957.0,4067.7 1963.0,4068.5" stroke="#8c564b"/>
<path d="M341.9,3971.0 347.9,3967.1 353.9,3962.6 359.9,3957.8 365.9,3952.7 371.9,3947.3 377.9,3941.7 383.9,3936.1 389.9,3930.5 395.9,3924.9 401.9,3919.5 407.9,3914.3 413.9,3909.4 420.0,3904.7 426.0,3900.2 432.0,3896.0 438.0,3892.0 444.0,3888.3 450.0,3884.9 456.0,3881.6 462.0,3878.6 468.0,3875.7 474.0,3872.8 480.0,3870.1 486.0,3867.4 492.0,3864.7 498.0,3861.9 504.0,3859.0 510.0,3856.0 516.0,3852.9 522.0,3849.5 528.0,3845.9 534.0,3842.3 540.0,3838.5 546.0,3834.7 552.0,3830.9 558.0,3827.1 564.1,3823.4 570.1,3819.8 576.1,3816.5 582.1,3813.3 588.1,3810.4 594.1,3807.8 600.1,3805.6 606.1,3803.7 612.1,3802.2 618.1,3801.0 624.1,3800.2 630.1,3799.7 636.1,3799.6 642.1,3799.9 648.1,3800.5 654.1,3801.4 660.1,3802.6 666.1,3804.1 672.1,3805.8 678.1,3807.8 684.1,3809.9 690.1,3812.3 696.1,3814.8 702.1,3817.4 708.1,3820.1 714.2,3823.0 720.2,3825.9 726.2,3828.8 732.2,3831.8 738.2,3834.8 744.2,3837.9 750.2,3840.9 756.2,3844.0 762.2,3847.1 768.2,3850.1 774.2,3853.2 780.2,3856.2 786.2,3859.2 792.2,3862.2 798.2,3865.1 804.2,3868.0 810.2,3870.8 816.2,3873.5 822.2,3876.2 828.2,3878.8 834.2,3881.3 840.2,3883.8 846.2,3886.2 852.2,3888.5 858.3,3890.7 864.3,3892.9 870.3,3895.0 876.3,3897.1 882.3,3899.0 888.3,3901.0 894.3,3902.9 900.3,3904.7 906.3,3906.5 912.3,3908.3 918.3,3910.0 924.3,3911.7 930.3,3913.3 936.3,3914.9 942.3,3916.5 948.3,3918.1 954.3,3919.6 960.3,3921.1 966.3,3922.6 972.3,3924.1 978.3,3925.5 984.3,3926.9 990.3,3928.3 996.3,3929.7 1002.3,3931.1 1008.4,3932.4 1014.4,3933.7 1020.4,3935.0 1026.4,3936.3 1032.4,3937.6 1038.4,3938.8 1044.4,3940.1 1050.4,3941.3 1056.4,3942.5 1062.4,3943.7 1068.4,3944.9 1074.4,3946.0 1080.4,3947.2 1086.4,3948.3 1092.4,3949.5 1098.4,3950.6 1104.4,3951.7 1110.4,3952.8 1116.4,3953.9 1122.4,3955.0 1128.4,3956.1 1134.4,3957.1 1140.4,3958.2 1146.4,3959.3 1152.4,3960.3 1158.5,3961.4 1164.5,3962.4 1170.5,3963.5 1176.5,3964.5 1182.5,3965.5 1188.5,3966.6 1194.5,3967.6 1200.5,3968.6 1206.5,3969.7 1212.5,3970.7 1218.5,3971.7 1224.5,3972.7 1230.5,3973.7 1236.5,3974.7 1242.5,3975.8 1248.5,3976.8 1254.5,3977.8 1260.5,3978.8 1266.5,3979.8 1272.5,3980.8 1278.5,3981.8 1284.5,3982.8 1290.5,3983.8 1296.5,3984.8 1302.6,3985.8 1308.6,3986.8 1314.6,3987.8 1320.6,3988.8 1326.6,3989.8 1332.6,3990.8 1338.6,3991.8 1344.6,3992.8 1350.6,3993.8 1356.6,3994.8 1362.6,3995.8 1368.6,3996.8 1374.6,3997.8 1380.6,3998.8 1386.6,3999.8 1392.6,4000.8 1398.6,4001.8 1404.6,4002.8 1410.6,4003.8 1416.6,4004.8 1422.6,4005.8 1428.6,4006.8 1434.6,4007.8 1440.6,4008.8 1446.6,4009.8 1452.7,4010.8 1458.7,4011.8 1464.7,4012.8 1470.7,4013.8 1476.7,4014.8 1482.7,4015.8 1488.7,4016.7 1494.7,4017.7 1500.7,4018.7 1506.7,4019.7 1512.7,4020.7 1518.7,4021.6 1524.7,4022.6 1530.7,4023.6 1536.7,4024.6 1542.7,4025.5 1548.7,4026.5 1554.7,4027.5 1560.7,4028.4 1566.7,4029.4 1572.7,4030.3 1578.7,4031.3 1584.7,4032.2 1590.7,4033.2 1596.8,4034.1 1602.8,4035.1 1608.8,4036.0 1614.8,4037.0 1620.8,4037.9 1626.8,4038.8 1632.8,4039.8 1638.8,4040.7 1644.8,4041.6 1650.8,4042.5 1656.8,4043.4 1662.8,4044.3 1668.8,4045.2 1674.8,4046.2 1680.8,4047.0 1686.8,4047.9 1692.8,4048.8 1698.8,4049.7 1704.8,4050.6 1710.8,4051.5 1716.8,4052.4 1722.8,4053.2 1728.8,4054.1 1734.8,4055.0 1740.8,4055.8 1746.9,4056.7 1752.9,4057.5 1758.9,4058.4 1764.9,4059.2 1770.9,4060.0 1776.9,4060.9 1782.9,4061.7 1788.9,4062.5 1794.9,4063.3 1800.9,4064.1 1806.9,4064.9 1812.9,4065.7 1818.9,4066.5 1824.9,4067.3 1830.9,4068.1 1836.9,4068.9 1842.9,4069.6 1848.9,4070.4 1854.9,4071.1 1860.9,4071.9 1866.9,4072.6 1872.9,4073.4 1878.9,4074.1 1884.9,4074.8 1891.0,4075.6 1897.0,4076.3 1903.0,4077.0 1909.0,4077.7 1915.0,4078.4 1921.0,4079.1 1927.0,4079.8 1933.0,4080.4 1939.0,4081.1 1945.0,4081.8 1951.0,4082.4 1957.0,4083.1 1963.0,4083.7" stroke="#e377c2"/>
<path d="M341.9,4002.1 347.9,3999.2 353.9,3996.3 359.9,3993.4 365.9,3990.4 371.9,3987.4 377.9,3984.4 383.9,3981.3 389.9,3978.3 395.9,3975.3 401.9,3972.3 407.9,3969.3 413.9,3966.4 420.0,3963.5 426.0,3960.7 432.0,3957.9 438.0,3955.2 444.0,3952.6 450.0,3949.9 456.0,3947.4 462.0,3944.8 468.0,3942.3 474.0,3939.8 480.0,3937.2 486.0,3934.7 492.0,3932.2 498.0,3929.7 504.0,3927.1 510.0,3924.6 516.0,3922.1 522.0,3919.7 528.0,3917.3 534.0,3915.0 540.0,3912.8 546.0,3910.7 552.0,3908.7 558.0,3906.8 564.1,3905.0 570.1,3903.4 576.1,3901.9 582.1,3900.6 588.1,3899.5 594.1,3898.6 600.1,3897.8 606.1,3897.3 612.1,3897.0 618.1,3896.8 624.1,3896.8 630.1,3897.0 636.1,3897.4 642.1,3897.9 648.1,3898.6 654.1,3899.4 660.1,3900.4 666.1,3901.6 672.1,3902.9 678.1,3904.4 684.1,3906.0 690.1,3907.7 696.1,3909.6 702.1,3911.6 708.1,3913.7 714.2,3916.0 720.2,3918.3 726.2,3920.8 732.2,3923.4 738.2,3926.1 744.2,3928.8 750.2,3931.5 756.2,3934.3 762.2,3937.1 768.2,3939.8 774.2,3942.5 780.2,3945.2 786.2,3947.8 792.2,3950.2 798.2,3952.6 804.2,3954.8 810.2,3956.9 816.2,3958.9 822.2,3960.7 828.2,3962.5 834.2,3964.1 840.2,3965.7 846.2,3967.2 852.2,3968.7 858.3,3970.1 864.3,3971.5 870.3,3972.9 876.3,3974.2 882.3,3975.6 888.3,3976.9 894.3,3978.2 900.3,3979.6 906.3,3980.9 912.3,3982.2 918.3,3983.5 924.3,3984.7 930.3,3986.0 936.3,3987.2 942.3,3988.5 948.3,3989.7 954.3,3991.0 960.3,3992.2 966.3,3993.4 972.3,3994.6 978.3,3995.8 984.3,3996.9 990.3,3998.1 996.3,3999.3 1002.3,4000.4 1008.4,4001.6 1014.4,4002.7 1020.4,4003.9 1026.4,4005.0 1032.4,4006.1 1038.4,4007.2 1044.4,4008.3 1050.4,4009.4 1056.4,4010.5 1062.4,4011.6 1068.4,4012.7 1074.4,4013.8 1080.4,4014.9 1086.4,4016.0 1092.4,4017.0 1098.4,4018.1 1104.4,4019.1 1110.4,4020.2 1116.4,4021.3 1122.4,4022.3 1128.4,4023.4 1134.4,4024.4 1140.4,4025.4 1146.4,4026.5 1152.4,4027.5 1158.5,4028.5 1164.5,4029.6 1170.5,4030.6 1176.5,4031.6 1182.5,4032.6 1188.5,4033.7 1194.5,4034.7 1200.5,4035.7 1206.5,4036.7 1212.5,4037.7 1218.5,4038.7 1224.5,4039.8 1230.5,4040.8 1236.5,4041.8 1242.5,4042.8 1248.5,4043.8 1254.5,4044.8 1260.5,4045.8 1266.5,4046.7 1272.5,4047.7 1278.5,4048.7 1284.5,4049.7 1290.5,4050.7 1296.5,4051.7 1302.6,4052.6 1308.6,4053.6 1314.6,4054.6 1320.6,4055.6 1326.6,4056.5 1332.6,4057.5 1338.6,4058.5 1344.6,4059.4 1350.6,4060.4 1356.6,4061.3 1362.6,4062.3 1368.6,4063.2 1374.6,4064.2 1380.6,4065.1 1386.6,4066.1 1392.6,4067.0 1398.6,4068.0 1404.6,4068.9 1410.6,4069.8 1416.6,4070.8 1422.6,4071.7 1428.6,4072.6 1434.6,4073.5 1440.6,4074.5 1446.6,4075.4 1452.7,4076.3 1458.7,4077.2 1464.7,4078.1 1470.7,4079.0 1476.7,4079.9 1482.7,4080.8 1488.7,4081.7 1494.7,4082.6 1500.7,4083.5 1506.7,4084.4 1512.7,4085.3 1518.7,4086.2 1524.7,4087.1 1530.7,4088.0 1536.7,4088.8 1542.7,4089.7 1548.7,4090.6 1554.7,4091.5 1560.7,4092.3 1566.7,4093.2 1572.7,4094.1 1578.7,4095.0 1584.7,4095.8 1590.7,4096.7 1596.8,4097.5 1602.8,4098.4 1608.8,4099.3 1614.8,4100.1 1620.8,4101.0 1626.8,4101.8 1632.8,4102.7 1638.8,4103.5 1644.8,4104.4 1650.8,4105.2 1656.8,4106.0 1662.8,4106.9 1668.8,4107.7 1674.8,4108.6 1680.8,4109.4 1686.8,4110.2 1692.8,4111.1 1698.8,4111.9 1704.8,4112.7 1710.8,4113.6 1716.8,4114.4 1722.8,4115.2 1728.8,4116.0 1734.8,4116.9 1740.8,4117.7 1746.9,4118.5 1752.9,4119.3 1758.9,4120.1 1764.9,4120.9 1770.9,4121.8 1776.9,4122.6 1782.9,4123.4 1788.9,4124.2 1794.9,4125.0 1800.9,4125.8 1806.9,4126.6 1812.9,4127.4 1818.9,4128.2 1824.9,4129.1 1830.9,4129.9 1836.9,4130.7 1842.9,4131.5 1848.9,4132.3 1854.9,4133.1 1860.9,4133.9 1866.9,4134.7 1872.9,4135.5 1878.9,4136.3 1884.9,4137.1 1891.0,4137.9 1897.0,4138.7 1903.0,4139.5 1909.0,4140.3 1915.0,4141.1 1921.0,4141.8 1927.0,4142.6 1933.0,4143.4 1939.0,4144.2 1945.0,4145.0 1951.0,4145.8 1957.0,4146.6 1963.0,4147.4" stroke="#7f7f7f"/>
<path d="M341.9,4070.7 347.9,4067.9 353.9,4065.1 359.9,4062.5 365.9,4060.0 371.9,4057.5 377.9,4055.2 383.9,4053.0 389.9,4050.9 395.9,4048.8 401.9,4046.9 407.9,4045.0 413.9,4043.2 420.0,4041.5 426.0,4039.9 432.0,4038.4 438.0,4036.9 444.0,4035.5 450.0,4034.2 456.0,4032.9 462.0,4031.7 468.0,4030.5 474.0,4029.4 480.0,4028.4 486.0,4027.3 492.0,4026.4 498.0,4025.5 504.0,4024.6 510.0,4023.8 516.0,4023.0 522.0,4022.3 528.0,4021.6 534.0,4021.0 540.0,4020.5 546.0,4020.0 552.0,4019.6 558.0,4019.3 564.1,4019.1 570.1,4018.9 576.1,4018.8 582.1,4018.8 588.1,4018.9 594.1,4019.1 600.1,4019.3 606.1,4019.7 612.1,4020.2 618.1,4020.7 624.1,4021.4 630.1,4022.2 636.1,4023.1 642.1,4024.0 648.1,4025.1 654.1,4026.3 660.1,4027.6 666.1,4029.0 672.1,4030.5 678.1,4032.0 684.1,4033.5 690.1,4035.2 696.1,4036.9 702.1,4038.6 708.1,4040.3 714.2,4042.1 720.2,4043.9 726.2,4045.8 732.2,4047.6 738.2,4049.4 744.2,4051.2 750.2,4053.0 756.2,4054.8 762.2,4056.6 768.2,4058.3 774.2,4059.9 780.2,4061.6 786.2,4063.1 792.2,4064.6 798.2,4066.1 804.2,4067.5 810.2,4068.8 816.2,4070.1 822.2,4071.4 828.2,4072.6 834.2,4073.8 840.2,4074.9 846.2,4076.0 852.2,4077.1 858.3,4078.1 864.3,4079.1 870.3,4080.0 876.3,4081.0 882.3,4081.9 888.3,4082.8 894.3,4083.6 900.3,4084.5 906.3,4085.3 912.3,4086.1 918.3,4086.9 924.3,4087.7 930.3,4088.5 936.3,4089.3 942.3,4090.1 948.3,4090.8 954.3,4091.6 960.3,4092.4 966.3,4093.1 972.3,4093.9 978.3,4094.7 984.3,4095.4 990.3,4096.2 996.3,4096.9 1002.3,4097.7 1008.4,4098.5 1014.4,4099.2 1020.4,4100.0 1026.4,4100.7 1032.4,4101.5 1038.4,4102.2 1044.4,4103.0 1050.4,4103.7 1056.4,4104.5 1062.4,4105.2 1068.4,4106.0 1074.4,4106.7 1080.4,4107.5 1086.4,4108.2 1092.4,4109.0 1098.4,4109.8 1104.4,4110.5 1110.4,4111.3 1116.4,4112.0 1122.4,4112.8 1128.4,4113.5 1134.4,4114.3 1140.4,4115.0 1146.4,4115.8 1152.4,4116.6 1158.5,4117.3 1164.5,4118.1 1170.5,4118.9 1176.5,4119.6 1182.5,4120.4 1188.5,4121.2 1194.5,4121.9 1200.5,4122.7 1206.5,4123.5 1212.5,4124.3 1218.5,4125.1 1224.5,4125.8 1230.5,4126.6 1236.5,4127.4 1242.5,4128.2 1248.5,4129.0 1254.5,4129.8 1260.5,4130.6 1266.5,4131.4 1272.5,4132.2 1278.5,4133.0 1284.5,4133.8 1290.5,4134.6 1296.5,4135.4 1302.6,4136.2 1308.6,4137.1 1314.6,4137.9 1320.6,4138.7 1326.6,4139.5 1332.6,4140.3 1338.6,4141.1 1344.6,4142.0 1350.6,4142.8 1356.6,4143.6 1362.6,4144.4 1368.6,4145.3 1374.6,4146.1 1380.6,4146.9 1386.6,4147.7 1392.6,4148.5 1398.6,4149.4 1404.6,4150.2 1410.6,4151.0 1416.6,4151.8 1422.6,4152.6 1428.6,4153.5 1434.6,4154.3 1440.6,4155.1 1446.6,4155.9 1452.7,4156.7 1458.7,4157.5 1464.7,4158.3 1470.7,4159.1 1476.7,4159.9 1482.7,4160.8 1488.7,4161.6 1494.7,4162.4 1500.7,4163.1 1506.7,4163.9 1512.7,4164.7 1518.7,4165.5 1524.7,4166.3 1530.7,4167.1 1536.7,4167.9 1542.7,4168.7 1548.7,4169.4 1554.7,4170.2 1560.7,4171.0 1566.7,4171.7 1572.7,4172.5 1578.7,4173.3 1584.7,4174.0 1590.7,4174.8 1596.8,4175.5 1602.8,4176.3 1608.8,4177.0 1614.8,4177.8 1620.8,4178.5 1626.8,4179.2 1632.8,4180.0 1638.8,4180.7 1644.8,4181.5 1650.8,4182.2 1656.8,4182.9 1662.8,4183.7 1668.8,4184.4 1674.8,4185.2 1680.8,4185.9 1686.8,4186.6 1692.8,4187.4 1698.8,4188.1 1704.8,4188.8 1710.8,4189.6 1716.8,4190.3 1722.8,4191.0 1728.8,4191.8 1734.8,4192.5 1740.8,4193.3 1746.9,4194.0 1752.9,4194.7 1758.9,4195.5 1764.9,4196.2 1770.9,4197.0 1776.9,4197.7 1782.9,4198.5 1788.9,4199.2 1794.9,4200.0 1800.9,4200.7 1806.9,4201.5 1812.9,4202.2 1818.9,4203.0 1824.9,4203.8 1830.9,4204.5 1836.9,4205.3 1842.9,4206.1 1848.9,4206.8 1854.9,4207.6 1860.9,4208.4 1866.9,4209.1 1872.9,4209.9 1878.9,4210.7 1884.9,4211.4 1891.0,4212.2 1897.0,4212.9 1903.0,4213.6 1909.0,4214.3 1915.0,4215.1 1921.0,4215.8 1927.0,4216.5 1933.0,4217.1 1939.0,4217.8 1945.0,4218.5 1951.0,4219.1 1957.0,4219.7 1963.0,4220.4" stroke="#bcbd22"/>
</g>
<path d="M1333.0,3026.0 V3499.3 H1963.0" fill="none" stroke="#404040" stroke-width="2"/>
<line x1="1326.0" y1="3472.9" x2="1333.0" y2="3472.9" stroke="#404040" stroke-width="1.6"/>
<line x1="1326.0" y1="3418.8" x2="1333.0" y2="3418.8" stroke="#404040" stroke-width="1.6"/>
<line x1="1326.0" y1="3364.7" x2="1333.0" y2="3364.7" stroke="#404040" stroke-width="1.6"/>
<line x1="1326.0" y1="3310.6" x2="1333.0" y2="3310.6" stroke="#404040" stroke-width="1.6"/>
<line x1="1326.0" y1="3256.5" x2="1333.0" y2="3256.5" stroke="#404040" stroke-width="1.6"/>
<line x1="1326.0" y1="3202.4" x2="1333.0" y2="3202.4" stroke="#404040" stroke-width="1.6"/>
<line x1="1326.0" y1="3148.3" x2="1333.0" y2="3148.3" stroke="#404040" stroke-width="1.6"/>
<line x1="1326.0" y1="3094.2" x2="1333.0" y2="3094.2" stroke="#404040" stroke-width="1.6"/>
<line x1="1326.0" y1="3040.1" x2="1333.0" y2="3040.1" stroke="#404040" stroke-width="1.6"/>
<line x1="1367.9" y1="3499.3" x2="1367.9" y2="3505.3" stroke="#404040" stroke-width="1.6"/>
<line x1="1469.7" y1="3499.3" x2="1469.7" y2="3505.3" stroke="#404040" stroke-width="1.6"/>
<line x1="1571.6" y1="3499.3" x2="1571.6" y2="3505.3" stroke="#404040" stroke-width="1.6"/>
<line x1="1673.4" y1="3499.3" x2="1673.4" y2="3505.3" stroke="#404040" stroke-width="1.6"/>
<line x1="1775.3" y1="3499.3" x2="1775.3" y2="3505.3" stroke="#404040" stroke-width="1.6"/>
<line x1="1877.2" y1="3499.3" x2="1877.2" y2="3505.3" stroke="#404040" stroke-width="1.6"/>
<text x="1247.0" y="3065.9" font-size="31.5" font-family="Liberation Sans, sans-serif" text-anchor="start" fill="#000" textLength="68.0" lengthAdjust="spacingAndGlyphs">0.22</text>
<text x="1247.0" y="3120.6" font-size="31.5" font-family="Liberation Sans, sans-serif" text-anchor="start" fill="#000" textLength="68.0" lengthAdjust="spacingAndGlyphs">0.20</text>
<text x="1247.0" y="3170.0" font-size="31.5" font-family="Liberation Sans, sans-serif" text-anchor="start" fill="#000" textLength="68.0" lengthAdjust="spacingAndGlyphs">0.18</text>
<text x="1247.0" y="3222.9" font-size="31.5" font-family="Liberation Sans, sans-serif" text-anchor="start" fill="#000" textLength="68.0" lengthAdjust="spacingAndGlyphs">0.16</text>
<text x="1247.0" y="3270.5" font-size="31.5" font-family="Liberation Sans, sans-serif" text-anchor="start" fill="#000" textLength="68.0" lengthAdjust="spacingAndGlyphs">0.14</text>
<text x="1247.0" y="3319.3" font-size="31.5" font-family="Liberation Sans, sans-serif" text-anchor="start" fill="#000" textLength="68.0" lengthAdjust="spacingAndGlyphs">0.12</text>
<text x="1247.0" y="3370.5" font-size="31.5" font-family="Liberation Sans, sans-serif" text-anchor="start" fill="#000" textLength="68.0" lengthAdjust="spacingAndGlyphs">0.10</text>
<text x="1247.0" y="3426.1" font-size="31.5" font-family="Liberation Sans, sans-serif" text-anchor="start" fill="#000" textLength="68.0" lengthAdjust="spacingAndGlyphs">0.08</text>
<text x="1247.0" y="3480.1" font-size="31.5" font-family="Liberation Sans, sans-serif" text-anchor="start" fill="#000" textLength="68.0" lengthAdjust="spacingAndGlyphs">0.06</text>
<text x="1369.2" y="3541.6" font-size="31.5" font-family="Liberation Sans, sans-serif" text-anchor="middle" fill="#000" >20</text>
<text x="1468.7" y="3544.7" font-size="31.5" font-family="Liberation Sans, sans-serif" text-anchor="middle" fill="#000" >40</text>
<text x="1568.0" y="3543.3" font-size="31.5" font-family="Liberation Sans, sans-serif" text-anchor="middle" fill="#000" >60</text>
<text x="1665.1" y="3542.3" font-size="31.5" font-family="Liberation Sans, sans-serif" text-anchor="middle" fill="#000" >80</text>
<text x="1762.4" y="3540.3" font-size="31.5" font-family="Liberation Sans, sans-serif" text-anchor="middle" fill="#000" >100</text>
<text x="1862.6" y="3541.8" font-size="31.5" font-family="Liberation Sans, sans-serif" text-anchor="middle" fill="#000" >120</text>
<text x="1428.5" y="3587.0" font-size="30.5" font-family="Liberation Sans, sans-serif" text-anchor="start" fill="#000" textLength="417.0" lengthAdjust="spacingAndGlyphs">Total Adsorption Time (min)</text>
<text transform="translate(1224.5,3262) rotate(-90)" font-size="30" font-family="Liberation Sans, sans-serif" text-anchor="middle" textLength="168" lengthAdjust="spacingAndGlyphs">Absorbance</text>
<circle cx="1342.4" cy="3472.9" r="6.6" fill="#0000ff"/>
<circle cx="1418.8" cy="3419.3" r="6.6" fill="#0000ff"/>
<circle cx="1495.2" cy="3382.1" r="6.6" fill="#0000ff"/>
<circle cx="1571.6" cy="3334.8" r="6.6" fill="#0000ff"/>
<circle cx="1648.0" cy="3281.5" r="6.6" fill="#0000ff"/>
<circle cx="1724.4" cy="3218.5" r="6.6" fill="#0000ff"/>
<circle cx="1800.8" cy="3153.8" r="6.6" fill="#0000ff"/>
<circle cx="1877.2" cy="3092.2" r="6.6" fill="#0000ff"/>
<circle cx="1953.6" cy="3043.5" r="6.6" fill="#0000ff"/>
<rect x="341.9" y="3025.7" width="1621.1" height="1208.5" fill="none" stroke="#000" stroke-width="3.8"/>
<line x1="510.8" y1="4234.2" x2="510.8" y2="4249.7" stroke="#000" stroke-width="3.5"/>
<text x="511.2" y="4284.7" font-size="44.4" font-family="DejaVu Sans, sans-serif" text-anchor="middle" fill="#000" letter-spacing="0.8" >400</text>
<line x1="752.7" y1="4234.2" x2="752.7" y2="4249.7" stroke="#000" stroke-width="3.5"/>
<text x="753.1" y="4284.7" font-size="44.4" font-family="DejaVu Sans, sans-serif" text-anchor="middle" fill="#000" letter-spacing="0.8" >500</text>
<line x1="994.6" y1="4234.2" x2="994.6" y2="4249.7" stroke="#000" stroke-width="3.5"/>
<text x="995.0" y="4284.7" font-size="44.4" font-family="DejaVu Sans, sans-serif" text-anchor="middle" fill="#000" letter-spacing="0.8" >600</text>
<line x1="1236.5" y1="4234.2" x2="1236.5" y2="4249.7" stroke="#000" stroke-width="3.5"/>
<text x="1236.9" y="4284.7" font-size="44.4" font-family="DejaVu Sans, sans-serif" text-anchor="middle" fill="#000" letter-spacing="0.8" >700</text>
<line x1="1478.4" y1="4234.2" x2="1478.4" y2="4249.7" stroke="#000" stroke-width="3.5"/>
<text x="1478.8" y="4284.7" font-size="44.4" font-family="DejaVu Sans, sans-serif" text-anchor="middle" fill="#000" letter-spacing="0.8" >800</text>
<line x1="1720.3" y1="4234.2" x2="1720.3" y2="4249.7" stroke="#000" stroke-width="3.5"/>
<text x="1720.7" y="4284.7" font-size="44.4" font-family="DejaVu Sans, sans-serif" text-anchor="middle" fill="#000" letter-spacing="0.8" >900</text>
<line x1="1962.2" y1="4234.2" x2="1962.2" y2="4249.7" stroke="#000" stroke-width="3.5"/>
<text x="1962.6" y="4284.7" font-size="44.4" font-family="DejaVu Sans, sans-serif" text-anchor="middle" fill="#000" letter-spacing="0.8" >1000</text>
<line x1="326.4" y1="4234.2" x2="341.9" y2="4234.2" stroke="#000" stroke-width="3.5"/>
<text x="308.4" y="4250.5" font-size="44.4" font-family="DejaVu Sans, sans-serif" text-anchor="end" fill="#000" letter-spacing="0.3" >0.025</text>
<line x1="326.4" y1="4083.1" x2="341.9" y2="4083.1" stroke="#000" stroke-width="3.5"/>
<text x="308.4" y="4099.4" font-size="44.4" font-family="DejaVu Sans, sans-serif" text-anchor="end" fill="#000" letter-spacing="0.3" >0.050</text>
<line x1="326.4" y1="3932.1" x2="341.9" y2="3932.1" stroke="#000" stroke-width="3.5"/>
<text x="308.4" y="3948.4" font-size="44.4" font-family="DejaVu Sans, sans-serif" text-anchor="end" fill="#000" letter-spacing="0.3" >0.075</text>
<line x1="326.4" y1="3781.0" x2="341.9" y2="3781.0" stroke="#000" stroke-width="3.5"/>
<text x="308.4" y="3797.3" font-size="44.4" font-family="DejaVu Sans, sans-serif" text-anchor="end" fill="#000" letter-spacing="0.3" >0.100</text>
<line x1="326.4" y1="3629.9" x2="341.9" y2="3629.9" stroke="#000" stroke-width="3.5"/>
<text x="308.4" y="3646.2" font-size="44.4" font-family="DejaVu Sans, sans-serif" text-anchor="end" fill="#000" letter-spacing="0.3" >0.125</text>
<line x1="326.4" y1="3478.9" x2="341.9" y2="3478.9" stroke="#000" stroke-width="3.5"/>
<text x="308.4" y="3495.2" font-size="44.4" font-family="DejaVu Sans, sans-serif" text-anchor="end" fill="#000" letter-spacing="0.3" >0.150</text>
<line x1="326.4" y1="3327.8" x2="341.9" y2="3327.8" stroke="#000" stroke-width="3.5"/>
<text x="308.4" y="3344.1" font-size="44.4" font-family="DejaVu Sans, sans-serif" text-anchor="end" fill="#000" letter-spacing="0.3" >0.175</text>
<line x1="326.4" y1="3176.8" x2="341.9" y2="3176.8" stroke="#000" stroke-width="3.5"/>
<text x="308.4" y="3193.1" font-size="44.4" font-family="DejaVu Sans, sans-serif" text-anchor="end" fill="#000" letter-spacing="0.3" >0.200</text>
<line x1="326.4" y1="3025.7" x2="341.9" y2="3025.7" stroke="#000" stroke-width="3.5"/>
<text x="308.4" y="3042.0" font-size="44.4" font-family="DejaVu Sans, sans-serif" text-anchor="end" fill="#000" letter-spacing="0.3" >0.225</text>
<text x="1151.8" y="4320.7" font-size="44.4" font-family="DejaVu Sans, sans-serif" text-anchor="middle" fill="#000" letter-spacing="0.5" >Wavelength (nm)</text>
<text transform="translate(166.6,3632.4) rotate(-90)" font-size="44.4" font-family="DejaVu Sans, sans-serif" text-anchor="middle" letter-spacing="0.5">Absorbance</text>
<rect x="1985.0" y="3048.2" width="350.2" height="609.8" rx="9" ry="9" fill="#fff" fill-opacity="0.8" stroke="#cccccc" stroke-opacity="0.8" stroke-width="3.8"/>
<line x1="2000.0" y1="3083.2" x2="2097.0" y2="3083.2" stroke="#1f77b4" stroke-width="6.2"/>
<text x="2130.0" y="3098.8" font-size="44.4" font-family="DejaVu Sans, sans-serif" text-anchor="start" fill="#000" letter-spacing="0.7" >135 min</text>
<line x1="2000.0" y1="3149.6" x2="2097.0" y2="3149.6" stroke="#ff7f0e" stroke-width="6.2"/>
<text x="2130.0" y="3165.2" font-size="44.4" font-family="DejaVu Sans, sans-serif" text-anchor="start" fill="#000" letter-spacing="0.7" >120 min</text>
<line x1="2000.0" y1="3216.1" x2="2097.0" y2="3216.1" stroke="#2ca02c" stroke-width="6.2"/>
<text x="2130.0" y="3231.7" font-size="44.4" font-family="DejaVu Sans, sans-serif" text-anchor="start" fill="#000" letter-spacing="0.7" >105 min</text>
<line x1="2000.0" y1="3282.5" x2="2097.0" y2="3282.5" stroke="#d62728" stroke-width="6.2"/>
<text x="2130.0" y="3298.1" font-size="44.4" font-family="DejaVu Sans, sans-serif" text-anchor="start" fill="#000" letter-spacing="0.7" >90 min</text>
<line x1="2000.0" y1="3349.0" x2="2097.0" y2="3349.0" stroke="#9467bd" stroke-width="6.2"/>
<text x="2130.0" y="3364.6" font-size="44.4" font-family="DejaVu Sans, sans-serif" text-anchor="start" fill="#000" letter-spacing="0.7" >75 min</text>
<line x1="2000.0" y1="3415.4" x2="2097.0" y2="3415.4" stroke="#8c564b" stroke-width="6.2"/>
<text x="2130.0" y="3431.0" font-size="44.4" font-family="DejaVu Sans, sans-serif" text-anchor="start" fill="#000" letter-spacing="0.7" >60 min</text>
<line x1="2000.0" y1="3481.9" x2="2097.0" y2="3481.9" stroke="#e377c2" stroke-width="6.2"/>
<text x="2130.0" y="3497.5" font-size="44.4" font-family="DejaVu Sans, sans-serif" text-anchor="start" fill="#000" letter-spacing="0.7" >45 min</text>
<line x1="2000.0" y1="3548.3" x2="2097.0" y2="3548.3" stroke="#7f7f7f" stroke-width="6.2"/>
<text x="2130.0" y="3563.9" font-size="44.4" font-family="DejaVu Sans, sans-serif" text-anchor="start" fill="#000" letter-spacing="0.7" >30 min</text>
<line x1="2000.0" y1="3614.8" x2="2097.0" y2="3614.8" stroke="#bcbd22" stroke-width="6.2"/>
<text x="2130.0" y="3630.4" font-size="44.4" font-family="DejaVu Sans, sans-serif" text-anchor="start" fill="#000" letter-spacing="0.7" >15 min</text>
</svg></body></html>
